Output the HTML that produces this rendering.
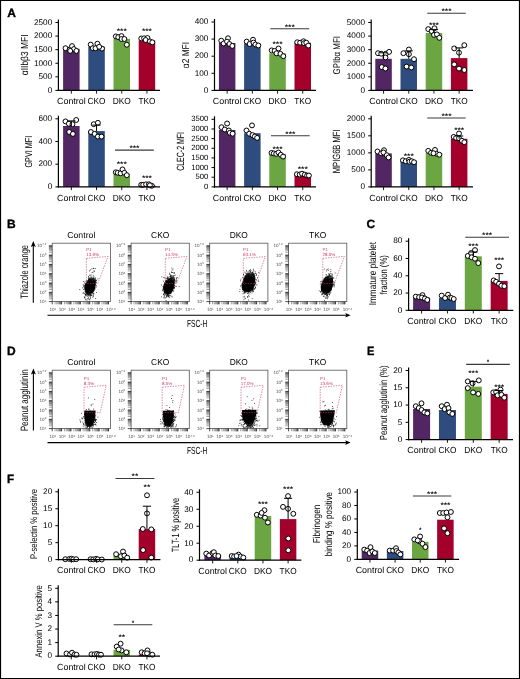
<!DOCTYPE html>
<html><head><meta charset="utf-8"><style>
html,body{margin:0;padding:0;background:#fff;}
body{width:520px;height:679px;overflow:hidden;}
svg{display:block;font-family:"Liberation Sans", sans-serif;will-change:transform;text-rendering:geometricPrecision;}
</style></head><body>
<svg width="520" height="679" viewBox="0 0 520 679">
<defs><filter id="bl" x="-20%" y="-20%" width="140%" height="140%"><feGaussianBlur stdDeviation="0.3"/></filter>
<linearGradient id="gB" x1="0" y1="0" x2="0" y2="1"><stop offset="0" stop-color="#777"/><stop offset="0.3" stop-color="#111"/><stop offset="0.8" stop-color="#000"/><stop offset="1" stop-color="#444"/></linearGradient>
<linearGradient id="gD" x1="0" y1="0" x2="0" y2="1"><stop offset="0" stop-color="#000"/><stop offset="0.7" stop-color="#000"/><stop offset="1" stop-color="#333"/></linearGradient></defs>
<rect x="0" y="0" width="520" height="679" fill="#fff"/>
<text x="7.2" y="16.9" font-size="12" font-weight="bold" stroke="#000" stroke-width="0.35">A</text>
<rect x="63.1" y="48.8" width="16.5" height="41.6" fill="#512663"/>
<rect x="88.3" y="46.7" width="16.5" height="43.7" fill="#2e4c7e"/>
<rect x="113.5" y="38.9" width="16.5" height="51.5" fill="#6ba642"/>
<rect x="138.7" y="40.4" width="16.5" height="50" fill="#a3002b"/>
<circle cx="65.5" cy="48.2" r="2.45" fill="#fff" stroke="#000" stroke-width="1"/>
<circle cx="69.7" cy="49.5" r="2.45" fill="#fff" stroke="#000" stroke-width="1"/>
<circle cx="72" cy="46.1" r="2.45" fill="#fff" stroke="#000" stroke-width="1"/>
<circle cx="73.9" cy="49.1" r="2.45" fill="#fff" stroke="#000" stroke-width="1"/>
<circle cx="76.4" cy="50.9" r="2.45" fill="#fff" stroke="#000" stroke-width="1"/>
<circle cx="70.2" cy="50.9" r="2.45" fill="#fff" stroke="#000" stroke-width="1"/>
<circle cx="90.7" cy="44.6" r="2.45" fill="#fff" stroke="#000" stroke-width="1"/>
<circle cx="97.4" cy="43.7" r="2.45" fill="#fff" stroke="#000" stroke-width="1"/>
<circle cx="92.8" cy="48.2" r="2.45" fill="#fff" stroke="#000" stroke-width="1"/>
<circle cx="95.5" cy="48.3" r="2.45" fill="#fff" stroke="#000" stroke-width="1"/>
<circle cx="102" cy="48.6" r="2.45" fill="#fff" stroke="#000" stroke-width="1"/>
<circle cx="99.2" cy="46.8" r="2.45" fill="#fff" stroke="#000" stroke-width="1"/>
<circle cx="115.8" cy="36.4" r="2.45" fill="#fff" stroke="#000" stroke-width="1"/>
<circle cx="118.2" cy="37.1" r="2.45" fill="#fff" stroke="#000" stroke-width="1"/>
<circle cx="121.5" cy="36.1" r="2.45" fill="#fff" stroke="#000" stroke-width="1"/>
<circle cx="121.5" cy="39" r="2.45" fill="#fff" stroke="#000" stroke-width="1"/>
<circle cx="124.4" cy="39" r="2.45" fill="#fff" stroke="#000" stroke-width="1"/>
<circle cx="126.8" cy="44.75" r="2.45" fill="#fff" stroke="#000" stroke-width="1"/>
<circle cx="141.25" cy="38.5" r="2.45" fill="#fff" stroke="#000" stroke-width="1"/>
<circle cx="144.1" cy="38.3" r="2.45" fill="#fff" stroke="#000" stroke-width="1"/>
<circle cx="147.5" cy="38" r="2.45" fill="#fff" stroke="#000" stroke-width="1"/>
<circle cx="145.6" cy="40" r="2.45" fill="#fff" stroke="#000" stroke-width="1"/>
<circle cx="149.9" cy="41.4" r="2.45" fill="#fff" stroke="#000" stroke-width="1"/>
<circle cx="152.3" cy="42.3" r="2.45" fill="#fff" stroke="#000" stroke-width="1"/>
<line x1="58.4" y1="19.5" x2="58.4" y2="91" stroke="#000" stroke-width="1.2"/>
<line x1="57.8" y1="90.4" x2="160" y2="90.4" stroke="#000" stroke-width="1.2"/>
<line x1="55.4" y1="90.4" x2="58.4" y2="90.4" stroke="#000" stroke-width="1"/>
<text x="52.2" y="92.67" font-size="8.2" text-anchor="end">0</text>
<line x1="55.4" y1="76.82" x2="58.4" y2="76.82" stroke="#000" stroke-width="1"/>
<text x="52.2" y="79.09" font-size="8.2" text-anchor="end">500</text>
<line x1="55.4" y1="63.24" x2="58.4" y2="63.24" stroke="#000" stroke-width="1"/>
<text x="52.2" y="65.51" font-size="8.2" text-anchor="end">1000</text>
<line x1="55.4" y1="49.66" x2="58.4" y2="49.66" stroke="#000" stroke-width="1"/>
<text x="52.2" y="51.93" font-size="8.2" text-anchor="end">1500</text>
<line x1="55.4" y1="36.08" x2="58.4" y2="36.08" stroke="#000" stroke-width="1"/>
<text x="52.2" y="38.35" font-size="8.2" text-anchor="end">2000</text>
<line x1="55.4" y1="22.5" x2="58.4" y2="22.5" stroke="#000" stroke-width="1"/>
<text x="52.2" y="24.77" font-size="8.2" text-anchor="end">2500</text>
<line x1="71.35" y1="90.4" x2="71.35" y2="93.6" stroke="#000" stroke-width="0.9"/>
<text x="71.35" y="104.05" font-size="8.8" text-anchor="middle" textLength="28.6" lengthAdjust="spacingAndGlyphs">Control</text>
<line x1="96.55" y1="90.4" x2="96.55" y2="93.6" stroke="#000" stroke-width="0.9"/>
<text x="96.55" y="104.05" font-size="8.8" text-anchor="middle" textLength="17.9" lengthAdjust="spacingAndGlyphs">CKO</text>
<line x1="121.75" y1="90.4" x2="121.75" y2="93.6" stroke="#000" stroke-width="0.9"/>
<text x="121.75" y="104.05" font-size="8.8" text-anchor="middle" textLength="18.1" lengthAdjust="spacingAndGlyphs">DKO</text>
<line x1="146.95" y1="90.4" x2="146.95" y2="93.6" stroke="#000" stroke-width="0.9"/>
<text x="146.95" y="104.05" font-size="8.8" text-anchor="middle" textLength="17" lengthAdjust="spacingAndGlyphs">TKO</text>
<text x="121.75" y="33.13" font-size="6.4" text-anchor="middle" font-weight="bold" textLength="10.05" lengthAdjust="spacingAndGlyphs">***</text>
<text x="146.95" y="33.13" font-size="6.4" text-anchor="middle" font-weight="bold" textLength="10.05" lengthAdjust="spacingAndGlyphs">***</text>
<rect x="218.9" y="43" width="16.5" height="47.4" fill="#512663"/>
<rect x="244.1" y="43.5" width="16.5" height="46.9" fill="#2e4c7e"/>
<rect x="269.3" y="53.3" width="16.5" height="37.1" fill="#6ba642"/>
<rect x="294.5" y="42.7" width="16.5" height="47.7" fill="#a3002b"/>
<circle cx="221.25" cy="40.65" r="2.45" fill="#fff" stroke="#000" stroke-width="1"/>
<circle cx="228" cy="38.25" r="2.45" fill="#fff" stroke="#000" stroke-width="1"/>
<circle cx="223.65" cy="43.5" r="2.45" fill="#fff" stroke="#000" stroke-width="1"/>
<circle cx="227" cy="41.6" r="2.45" fill="#fff" stroke="#000" stroke-width="1"/>
<circle cx="229.4" cy="44" r="2.45" fill="#fff" stroke="#000" stroke-width="1"/>
<circle cx="232.3" cy="45.9" r="2.45" fill="#fff" stroke="#000" stroke-width="1"/>
<circle cx="246.7" cy="41.6" r="2.45" fill="#fff" stroke="#000" stroke-width="1"/>
<circle cx="253" cy="39.7" r="2.45" fill="#fff" stroke="#000" stroke-width="1"/>
<circle cx="249.6" cy="44" r="2.45" fill="#fff" stroke="#000" stroke-width="1"/>
<circle cx="253.5" cy="42.6" r="2.45" fill="#fff" stroke="#000" stroke-width="1"/>
<circle cx="255.4" cy="44.5" r="2.45" fill="#fff" stroke="#000" stroke-width="1"/>
<circle cx="258.3" cy="45.5" r="2.45" fill="#fff" stroke="#000" stroke-width="1"/>
<circle cx="271.7" cy="50.4" r="2.45" fill="#fff" stroke="#000" stroke-width="1"/>
<circle cx="274.6" cy="50.9" r="2.45" fill="#fff" stroke="#000" stroke-width="1"/>
<circle cx="278.5" cy="48.5" r="2.45" fill="#fff" stroke="#000" stroke-width="1"/>
<circle cx="276.5" cy="53.3" r="2.45" fill="#fff" stroke="#000" stroke-width="1"/>
<circle cx="280.4" cy="53.8" r="2.45" fill="#fff" stroke="#000" stroke-width="1"/>
<circle cx="283.3" cy="56.2" r="2.45" fill="#fff" stroke="#000" stroke-width="1"/>
<circle cx="297.2" cy="42.25" r="2.45" fill="#fff" stroke="#000" stroke-width="1"/>
<circle cx="300.1" cy="42.7" r="2.45" fill="#fff" stroke="#000" stroke-width="1"/>
<circle cx="303.5" cy="41.3" r="2.45" fill="#fff" stroke="#000" stroke-width="1"/>
<circle cx="304" cy="43.2" r="2.45" fill="#fff" stroke="#000" stroke-width="1"/>
<circle cx="306.3" cy="42.7" r="2.45" fill="#fff" stroke="#000" stroke-width="1"/>
<circle cx="308.3" cy="45.6" r="2.45" fill="#fff" stroke="#000" stroke-width="1"/>
<line x1="214.5" y1="19" x2="214.5" y2="91" stroke="#000" stroke-width="1.2"/>
<line x1="213.9" y1="90.4" x2="316" y2="90.4" stroke="#000" stroke-width="1.2"/>
<line x1="211.5" y1="90.4" x2="214.5" y2="90.4" stroke="#000" stroke-width="1"/>
<text x="208.3" y="92.67" font-size="8.2" text-anchor="end">0</text>
<line x1="211.5" y1="73.3" x2="214.5" y2="73.3" stroke="#000" stroke-width="1"/>
<text x="208.3" y="75.57" font-size="8.2" text-anchor="end">100</text>
<line x1="211.5" y1="56.2" x2="214.5" y2="56.2" stroke="#000" stroke-width="1"/>
<text x="208.3" y="58.47" font-size="8.2" text-anchor="end">200</text>
<line x1="211.5" y1="39.1" x2="214.5" y2="39.1" stroke="#000" stroke-width="1"/>
<text x="208.3" y="41.37" font-size="8.2" text-anchor="end">300</text>
<line x1="211.5" y1="22" x2="214.5" y2="22" stroke="#000" stroke-width="1"/>
<text x="208.3" y="24.27" font-size="8.2" text-anchor="end">400</text>
<line x1="227.15" y1="90.4" x2="227.15" y2="93.6" stroke="#000" stroke-width="0.9"/>
<text x="227.15" y="104.05" font-size="8.8" text-anchor="middle" textLength="28.6" lengthAdjust="spacingAndGlyphs">Control</text>
<line x1="252.35" y1="90.4" x2="252.35" y2="93.6" stroke="#000" stroke-width="0.9"/>
<text x="252.35" y="104.05" font-size="8.8" text-anchor="middle" textLength="17.9" lengthAdjust="spacingAndGlyphs">CKO</text>
<line x1="277.55" y1="90.4" x2="277.55" y2="93.6" stroke="#000" stroke-width="0.9"/>
<text x="277.55" y="104.05" font-size="8.8" text-anchor="middle" textLength="18.1" lengthAdjust="spacingAndGlyphs">DKO</text>
<line x1="302.75" y1="90.4" x2="302.75" y2="93.6" stroke="#000" stroke-width="0.9"/>
<text x="302.75" y="104.05" font-size="8.8" text-anchor="middle" textLength="17" lengthAdjust="spacingAndGlyphs">TKO</text>
<line x1="270.3" y1="28.7" x2="309.2" y2="28.7" stroke="#3a3a3a" stroke-width="1.1"/>
<text x="289.75" y="28.63" font-size="6.4" text-anchor="middle" font-weight="bold" textLength="10.05" lengthAdjust="spacingAndGlyphs">***</text>
<text x="277.55" y="46.03" font-size="6.4" text-anchor="middle" font-weight="bold" textLength="10.05" lengthAdjust="spacingAndGlyphs">***</text>
<rect x="375.3" y="58.8" width="16.5" height="31.6" fill="#512663"/>
<rect x="400.5" y="58.8" width="16.5" height="31.6" fill="#2e4c7e"/>
<rect x="425.7" y="33" width="16.5" height="57.4" fill="#6ba642"/>
<rect x="450.9" y="58.1" width="16.5" height="32.3" fill="#a3002b"/>
<circle cx="378" cy="53.2" r="2.45" fill="#fff" stroke="#000" stroke-width="1"/>
<circle cx="381.2" cy="53.7" r="2.45" fill="#fff" stroke="#000" stroke-width="1"/>
<circle cx="385.85" cy="53.7" r="2.45" fill="#fff" stroke="#000" stroke-width="1"/>
<circle cx="389.1" cy="51.85" r="2.45" fill="#fff" stroke="#000" stroke-width="1"/>
<circle cx="385.4" cy="57.4" r="2.45" fill="#fff" stroke="#000" stroke-width="1"/>
<circle cx="381.7" cy="67.1" r="2.45" fill="#fff" stroke="#000" stroke-width="1"/>
<circle cx="385.4" cy="68.5" r="2.45" fill="#fff" stroke="#000" stroke-width="1"/>
<circle cx="403.4" cy="53.2" r="2.45" fill="#fff" stroke="#000" stroke-width="1"/>
<circle cx="408.9" cy="49.5" r="2.45" fill="#fff" stroke="#000" stroke-width="1"/>
<circle cx="408.9" cy="54.2" r="2.45" fill="#fff" stroke="#000" stroke-width="1"/>
<circle cx="414" cy="59.2" r="2.45" fill="#fff" stroke="#000" stroke-width="1"/>
<circle cx="406.6" cy="66.6" r="2.45" fill="#fff" stroke="#000" stroke-width="1"/>
<circle cx="411.25" cy="67.5" r="2.45" fill="#fff" stroke="#000" stroke-width="1"/>
<circle cx="428.25" cy="29.1" r="2.45" fill="#fff" stroke="#000" stroke-width="1"/>
<circle cx="431.6" cy="31.05" r="2.45" fill="#fff" stroke="#000" stroke-width="1"/>
<circle cx="434.5" cy="28.2" r="2.45" fill="#fff" stroke="#000" stroke-width="1"/>
<circle cx="434" cy="34.9" r="2.45" fill="#fff" stroke="#000" stroke-width="1"/>
<circle cx="436.9" cy="34.4" r="2.45" fill="#fff" stroke="#000" stroke-width="1"/>
<circle cx="439.3" cy="37.8" r="2.45" fill="#fff" stroke="#000" stroke-width="1"/>
<circle cx="454.2" cy="48.4" r="2.45" fill="#fff" stroke="#000" stroke-width="1"/>
<circle cx="464.3" cy="45.2" r="2.45" fill="#fff" stroke="#000" stroke-width="1"/>
<circle cx="459" cy="52.7" r="2.45" fill="#fff" stroke="#000" stroke-width="1"/>
<circle cx="454.2" cy="64.4" r="2.45" fill="#fff" stroke="#000" stroke-width="1"/>
<circle cx="459" cy="68.6" r="2.45" fill="#fff" stroke="#000" stroke-width="1"/>
<circle cx="464.3" cy="70" r="2.45" fill="#fff" stroke="#000" stroke-width="1"/>
<line x1="383.55" y1="58.8" x2="383.55" y2="52.8" stroke="#000" stroke-width="1"/>
<line x1="379.45" y1="52.8" x2="387.65" y2="52.8" stroke="#000" stroke-width="1"/>
<line x1="408.75" y1="58.8" x2="408.75" y2="50.9" stroke="#000" stroke-width="1"/>
<line x1="404.65" y1="50.9" x2="412.85" y2="50.9" stroke="#000" stroke-width="1"/>
<line x1="433.95" y1="33" x2="433.95" y2="29.6" stroke="#000" stroke-width="1"/>
<line x1="429.85" y1="29.6" x2="438.05" y2="29.6" stroke="#000" stroke-width="1"/>
<line x1="459.15" y1="58.1" x2="459.15" y2="47.9" stroke="#000" stroke-width="1"/>
<line x1="455.05" y1="47.9" x2="463.25" y2="47.9" stroke="#000" stroke-width="1"/>
<line x1="371.2" y1="19.5" x2="371.2" y2="91" stroke="#000" stroke-width="1.2"/>
<line x1="370.6" y1="90.4" x2="473" y2="90.4" stroke="#000" stroke-width="1.2"/>
<line x1="368.2" y1="90.4" x2="371.2" y2="90.4" stroke="#000" stroke-width="1"/>
<text x="365" y="92.67" font-size="8.2" text-anchor="end">0</text>
<line x1="368.2" y1="76.82" x2="371.2" y2="76.82" stroke="#000" stroke-width="1"/>
<text x="365" y="79.09" font-size="8.2" text-anchor="end">1000</text>
<line x1="368.2" y1="63.24" x2="371.2" y2="63.24" stroke="#000" stroke-width="1"/>
<text x="365" y="65.51" font-size="8.2" text-anchor="end">2000</text>
<line x1="368.2" y1="49.66" x2="371.2" y2="49.66" stroke="#000" stroke-width="1"/>
<text x="365" y="51.93" font-size="8.2" text-anchor="end">3000</text>
<line x1="368.2" y1="36.08" x2="371.2" y2="36.08" stroke="#000" stroke-width="1"/>
<text x="365" y="38.35" font-size="8.2" text-anchor="end">4000</text>
<line x1="368.2" y1="22.5" x2="371.2" y2="22.5" stroke="#000" stroke-width="1"/>
<text x="365" y="24.77" font-size="8.2" text-anchor="end">5000</text>
<line x1="383.55" y1="90.4" x2="383.55" y2="93.6" stroke="#000" stroke-width="0.9"/>
<text x="383.55" y="104.05" font-size="8.8" text-anchor="middle" textLength="28.6" lengthAdjust="spacingAndGlyphs">Control</text>
<line x1="408.75" y1="90.4" x2="408.75" y2="93.6" stroke="#000" stroke-width="0.9"/>
<text x="408.75" y="104.05" font-size="8.8" text-anchor="middle" textLength="17.9" lengthAdjust="spacingAndGlyphs">CKO</text>
<line x1="433.95" y1="90.4" x2="433.95" y2="93.6" stroke="#000" stroke-width="0.9"/>
<text x="433.95" y="104.05" font-size="8.8" text-anchor="middle" textLength="18.1" lengthAdjust="spacingAndGlyphs">DKO</text>
<line x1="459.15" y1="90.4" x2="459.15" y2="93.6" stroke="#000" stroke-width="0.9"/>
<text x="459.15" y="104.05" font-size="8.8" text-anchor="middle" textLength="17" lengthAdjust="spacingAndGlyphs">TKO</text>
<line x1="427.2" y1="13.2" x2="465.8" y2="13.2" stroke="#3a3a3a" stroke-width="1.1"/>
<text x="446.5" y="13.13" font-size="6.4" text-anchor="middle" font-weight="bold" textLength="10.05" lengthAdjust="spacingAndGlyphs">***</text>
<text x="433.95" y="27.13" font-size="6.4" text-anchor="middle" font-weight="bold" textLength="10.05" lengthAdjust="spacingAndGlyphs">***</text>
<rect x="63.1" y="126" width="16.5" height="60.9" fill="#512663"/>
<rect x="88.3" y="131.1" width="16.5" height="55.8" fill="#2e4c7e"/>
<rect x="113.5" y="173.75" width="16.5" height="13.15" fill="#6ba642"/>
<rect x="138.7" y="185" width="16.5" height="1.9" fill="#a3002b"/>
<circle cx="65.5" cy="121.4" r="2.45" fill="#fff" stroke="#000" stroke-width="1"/>
<circle cx="68.8" cy="123.7" r="2.45" fill="#fff" stroke="#000" stroke-width="1"/>
<circle cx="72.5" cy="124.2" r="2.45" fill="#fff" stroke="#000" stroke-width="1"/>
<circle cx="76.2" cy="120" r="2.45" fill="#fff" stroke="#000" stroke-width="1"/>
<circle cx="69.2" cy="132" r="2.45" fill="#fff" stroke="#000" stroke-width="1"/>
<circle cx="72.9" cy="133.9" r="2.45" fill="#fff" stroke="#000" stroke-width="1"/>
<circle cx="93.7" cy="124.2" r="2.45" fill="#fff" stroke="#000" stroke-width="1"/>
<circle cx="97.9" cy="122.8" r="2.45" fill="#fff" stroke="#000" stroke-width="1"/>
<circle cx="90.9" cy="132" r="2.45" fill="#fff" stroke="#000" stroke-width="1"/>
<circle cx="94.6" cy="133.9" r="2.45" fill="#fff" stroke="#000" stroke-width="1"/>
<circle cx="97.9" cy="136.6" r="2.45" fill="#fff" stroke="#000" stroke-width="1"/>
<circle cx="101.5" cy="136.6" r="2.45" fill="#fff" stroke="#000" stroke-width="1"/>
<circle cx="115.8" cy="172.3" r="2.45" fill="#fff" stroke="#000" stroke-width="1"/>
<circle cx="117.7" cy="172.8" r="2.45" fill="#fff" stroke="#000" stroke-width="1"/>
<circle cx="120.6" cy="173.3" r="2.45" fill="#fff" stroke="#000" stroke-width="1"/>
<circle cx="122.5" cy="169.4" r="2.45" fill="#fff" stroke="#000" stroke-width="1"/>
<circle cx="124.4" cy="172.8" r="2.45" fill="#fff" stroke="#000" stroke-width="1"/>
<circle cx="126.8" cy="175.2" r="2.45" fill="#fff" stroke="#000" stroke-width="1"/>
<circle cx="141.25" cy="184.8" r="2.45" fill="#fff" stroke="#000" stroke-width="1"/>
<circle cx="143.2" cy="184.8" r="2.45" fill="#fff" stroke="#000" stroke-width="1"/>
<circle cx="146.1" cy="184.3" r="2.45" fill="#fff" stroke="#000" stroke-width="1"/>
<circle cx="148.9" cy="184.3" r="2.45" fill="#fff" stroke="#000" stroke-width="1"/>
<circle cx="151.8" cy="185.8" r="2.45" fill="#fff" stroke="#000" stroke-width="1"/>
<circle cx="149.9" cy="185.3" r="2.45" fill="#fff" stroke="#000" stroke-width="1"/>
<line x1="71.35" y1="126" x2="71.35" y2="120.9" stroke="#000" stroke-width="1"/>
<line x1="67.25" y1="120.9" x2="75.45" y2="120.9" stroke="#000" stroke-width="1"/>
<line x1="96.55" y1="131.1" x2="96.55" y2="125.1" stroke="#000" stroke-width="1"/>
<line x1="92.45" y1="125.1" x2="100.65" y2="125.1" stroke="#000" stroke-width="1"/>
<line x1="58.4" y1="115.8" x2="58.4" y2="187.5" stroke="#000" stroke-width="1.2"/>
<line x1="57.8" y1="186.9" x2="160" y2="186.9" stroke="#000" stroke-width="1.2"/>
<line x1="55.4" y1="186.9" x2="58.4" y2="186.9" stroke="#000" stroke-width="1"/>
<text x="52.2" y="189.17" font-size="8.2" text-anchor="end">0</text>
<line x1="55.4" y1="164.2" x2="58.4" y2="164.2" stroke="#000" stroke-width="1"/>
<text x="52.2" y="166.47" font-size="8.2" text-anchor="end">200</text>
<line x1="55.4" y1="141.5" x2="58.4" y2="141.5" stroke="#000" stroke-width="1"/>
<text x="52.2" y="143.77" font-size="8.2" text-anchor="end">400</text>
<line x1="55.4" y1="118.8" x2="58.4" y2="118.8" stroke="#000" stroke-width="1"/>
<text x="52.2" y="121.07" font-size="8.2" text-anchor="end">600</text>
<line x1="71.35" y1="186.9" x2="71.35" y2="190.1" stroke="#000" stroke-width="0.9"/>
<text x="71.35" y="200.55" font-size="8.8" text-anchor="middle" textLength="28.6" lengthAdjust="spacingAndGlyphs">Control</text>
<line x1="96.55" y1="186.9" x2="96.55" y2="190.1" stroke="#000" stroke-width="0.9"/>
<text x="96.55" y="200.55" font-size="8.8" text-anchor="middle" textLength="17.9" lengthAdjust="spacingAndGlyphs">CKO</text>
<line x1="121.75" y1="186.9" x2="121.75" y2="190.1" stroke="#000" stroke-width="0.9"/>
<text x="121.75" y="200.55" font-size="8.8" text-anchor="middle" textLength="18.1" lengthAdjust="spacingAndGlyphs">DKO</text>
<line x1="146.95" y1="186.9" x2="146.95" y2="190.1" stroke="#000" stroke-width="0.9"/>
<text x="146.95" y="200.55" font-size="8.8" text-anchor="middle" textLength="17" lengthAdjust="spacingAndGlyphs">TKO</text>
<line x1="115" y1="150.1" x2="153.8" y2="150.1" stroke="#3a3a3a" stroke-width="1.1"/>
<text x="134.4" y="150.03" font-size="6.4" text-anchor="middle" font-weight="bold" textLength="10.05" lengthAdjust="spacingAndGlyphs">***</text>
<text x="121.75" y="166.43" font-size="6.4" text-anchor="middle" font-weight="bold" textLength="10.05" lengthAdjust="spacingAndGlyphs">***</text>
<text x="146.95" y="179.73" font-size="6.4" text-anchor="middle" font-weight="bold" textLength="10.05" lengthAdjust="spacingAndGlyphs">***</text>
<rect x="218.9" y="130" width="16.5" height="56.9" fill="#512663"/>
<rect x="244.1" y="133.2" width="16.5" height="53.7" fill="#2e4c7e"/>
<rect x="269.3" y="153.9" width="16.5" height="33" fill="#6ba642"/>
<rect x="294.5" y="174.5" width="16.5" height="12.4" fill="#a3002b"/>
<circle cx="221.5" cy="127.2" r="2.45" fill="#fff" stroke="#000" stroke-width="1"/>
<circle cx="227.1" cy="123.5" r="2.45" fill="#fff" stroke="#000" stroke-width="1"/>
<circle cx="224.8" cy="129.5" r="2.45" fill="#fff" stroke="#000" stroke-width="1"/>
<circle cx="228.9" cy="130.5" r="2.45" fill="#fff" stroke="#000" stroke-width="1"/>
<circle cx="229.85" cy="132.8" r="2.45" fill="#fff" stroke="#000" stroke-width="1"/>
<circle cx="232.6" cy="133.7" r="2.45" fill="#fff" stroke="#000" stroke-width="1"/>
<circle cx="246.5" cy="130.5" r="2.45" fill="#fff" stroke="#000" stroke-width="1"/>
<circle cx="252" cy="125.4" r="2.45" fill="#fff" stroke="#000" stroke-width="1"/>
<circle cx="249.2" cy="133.7" r="2.45" fill="#fff" stroke="#000" stroke-width="1"/>
<circle cx="252.5" cy="135.1" r="2.45" fill="#fff" stroke="#000" stroke-width="1"/>
<circle cx="254.8" cy="136.5" r="2.45" fill="#fff" stroke="#000" stroke-width="1"/>
<circle cx="257.1" cy="137.9" r="2.45" fill="#fff" stroke="#000" stroke-width="1"/>
<circle cx="271.5" cy="152.9" r="2.45" fill="#fff" stroke="#000" stroke-width="1"/>
<circle cx="273.8" cy="153.4" r="2.45" fill="#fff" stroke="#000" stroke-width="1"/>
<circle cx="276.2" cy="153.85" r="2.45" fill="#fff" stroke="#000" stroke-width="1"/>
<circle cx="278.5" cy="152.5" r="2.45" fill="#fff" stroke="#000" stroke-width="1"/>
<circle cx="280.8" cy="154.8" r="2.45" fill="#fff" stroke="#000" stroke-width="1"/>
<circle cx="283.1" cy="156.6" r="2.45" fill="#fff" stroke="#000" stroke-width="1"/>
<circle cx="296.9" cy="174.2" r="2.45" fill="#fff" stroke="#000" stroke-width="1"/>
<circle cx="299.7" cy="174.6" r="2.45" fill="#fff" stroke="#000" stroke-width="1"/>
<circle cx="302" cy="173.7" r="2.45" fill="#fff" stroke="#000" stroke-width="1"/>
<circle cx="304.8" cy="174.6" r="2.45" fill="#fff" stroke="#000" stroke-width="1"/>
<circle cx="307.1" cy="175.5" r="2.45" fill="#fff" stroke="#000" stroke-width="1"/>
<circle cx="308.9" cy="175.5" r="2.45" fill="#fff" stroke="#000" stroke-width="1"/>
<line x1="214.5" y1="116.3" x2="214.5" y2="187.5" stroke="#000" stroke-width="1.2"/>
<line x1="213.9" y1="186.9" x2="316" y2="186.9" stroke="#000" stroke-width="1.2"/>
<line x1="211.5" y1="186.9" x2="214.5" y2="186.9" stroke="#000" stroke-width="1"/>
<text x="208.3" y="189" font-size="7.7" text-anchor="end">0</text>
<line x1="211.5" y1="177.24" x2="214.5" y2="177.24" stroke="#000" stroke-width="1"/>
<text x="208.3" y="179.34" font-size="7.7" text-anchor="end">500</text>
<line x1="211.5" y1="167.59" x2="214.5" y2="167.59" stroke="#000" stroke-width="1"/>
<text x="208.3" y="169.68" font-size="7.7" text-anchor="end">1000</text>
<line x1="211.5" y1="157.93" x2="214.5" y2="157.93" stroke="#000" stroke-width="1"/>
<text x="208.3" y="160.02" font-size="7.7" text-anchor="end">1500</text>
<line x1="211.5" y1="148.27" x2="214.5" y2="148.27" stroke="#000" stroke-width="1"/>
<text x="208.3" y="150.37" font-size="7.7" text-anchor="end">2000</text>
<line x1="211.5" y1="138.61" x2="214.5" y2="138.61" stroke="#000" stroke-width="1"/>
<text x="208.3" y="140.71" font-size="7.7" text-anchor="end">2500</text>
<line x1="211.5" y1="128.96" x2="214.5" y2="128.96" stroke="#000" stroke-width="1"/>
<text x="208.3" y="131.05" font-size="7.7" text-anchor="end">3000</text>
<line x1="211.5" y1="119.3" x2="214.5" y2="119.3" stroke="#000" stroke-width="1"/>
<text x="208.3" y="121.39" font-size="7.7" text-anchor="end">3500</text>
<line x1="227.15" y1="186.9" x2="227.15" y2="190.1" stroke="#000" stroke-width="0.9"/>
<text x="227.15" y="200.55" font-size="8.8" text-anchor="middle" textLength="28.6" lengthAdjust="spacingAndGlyphs">Control</text>
<line x1="252.35" y1="186.9" x2="252.35" y2="190.1" stroke="#000" stroke-width="0.9"/>
<text x="252.35" y="200.55" font-size="8.8" text-anchor="middle" textLength="17.9" lengthAdjust="spacingAndGlyphs">CKO</text>
<line x1="277.55" y1="186.9" x2="277.55" y2="190.1" stroke="#000" stroke-width="0.9"/>
<text x="277.55" y="200.55" font-size="8.8" text-anchor="middle" textLength="18.1" lengthAdjust="spacingAndGlyphs">DKO</text>
<line x1="302.75" y1="186.9" x2="302.75" y2="190.1" stroke="#000" stroke-width="0.9"/>
<text x="302.75" y="200.55" font-size="8.8" text-anchor="middle" textLength="17" lengthAdjust="spacingAndGlyphs">TKO</text>
<line x1="271" y1="135.8" x2="309.7" y2="135.8" stroke="#3a3a3a" stroke-width="1.1"/>
<text x="290.35" y="135.73" font-size="6.4" text-anchor="middle" font-weight="bold" textLength="10.05" lengthAdjust="spacingAndGlyphs">***</text>
<text x="277.55" y="150.63" font-size="6.4" text-anchor="middle" font-weight="bold" textLength="10.05" lengthAdjust="spacingAndGlyphs">***</text>
<text x="302.75" y="170.73" font-size="6.4" text-anchor="middle" font-weight="bold" textLength="10.05" lengthAdjust="spacingAndGlyphs">***</text>
<rect x="375.3" y="153.4" width="16.5" height="33.5" fill="#512663"/>
<rect x="400.5" y="160.7" width="16.5" height="26.2" fill="#2e4c7e"/>
<rect x="425.7" y="153" width="16.5" height="33.9" fill="#6ba642"/>
<rect x="450.9" y="138.8" width="16.5" height="48.1" fill="#a3002b"/>
<circle cx="377.5" cy="151.5" r="2.45" fill="#fff" stroke="#000" stroke-width="1"/>
<circle cx="381.2" cy="153.4" r="2.45" fill="#fff" stroke="#000" stroke-width="1"/>
<circle cx="384" cy="150.2" r="2.45" fill="#fff" stroke="#000" stroke-width="1"/>
<circle cx="383.5" cy="152.5" r="2.45" fill="#fff" stroke="#000" stroke-width="1"/>
<circle cx="386.8" cy="155.2" r="2.45" fill="#fff" stroke="#000" stroke-width="1"/>
<circle cx="388.6" cy="157.5" r="2.45" fill="#fff" stroke="#000" stroke-width="1"/>
<circle cx="402.9" cy="160.3" r="2.45" fill="#fff" stroke="#000" stroke-width="1"/>
<circle cx="405.7" cy="161.2" r="2.45" fill="#fff" stroke="#000" stroke-width="1"/>
<circle cx="408.9" cy="159.9" r="2.45" fill="#fff" stroke="#000" stroke-width="1"/>
<circle cx="409.4" cy="161.7" r="2.45" fill="#fff" stroke="#000" stroke-width="1"/>
<circle cx="411.7" cy="161.2" r="2.45" fill="#fff" stroke="#000" stroke-width="1"/>
<circle cx="414" cy="162.2" r="2.45" fill="#fff" stroke="#000" stroke-width="1"/>
<circle cx="428.25" cy="150.85" r="2.45" fill="#fff" stroke="#000" stroke-width="1"/>
<circle cx="431.1" cy="152.8" r="2.45" fill="#fff" stroke="#000" stroke-width="1"/>
<circle cx="435" cy="149.9" r="2.45" fill="#fff" stroke="#000" stroke-width="1"/>
<circle cx="436.4" cy="153.7" r="2.45" fill="#fff" stroke="#000" stroke-width="1"/>
<circle cx="439.3" cy="154.7" r="2.45" fill="#fff" stroke="#000" stroke-width="1"/>
<circle cx="433.5" cy="153.25" r="2.45" fill="#fff" stroke="#000" stroke-width="1"/>
<circle cx="453.7" cy="136.9" r="2.45" fill="#fff" stroke="#000" stroke-width="1"/>
<circle cx="456.1" cy="137.9" r="2.45" fill="#fff" stroke="#000" stroke-width="1"/>
<circle cx="459" cy="133.5" r="2.45" fill="#fff" stroke="#000" stroke-width="1"/>
<circle cx="459" cy="138.3" r="2.45" fill="#fff" stroke="#000" stroke-width="1"/>
<circle cx="461.9" cy="140.75" r="2.45" fill="#fff" stroke="#000" stroke-width="1"/>
<circle cx="464.3" cy="142.2" r="2.45" fill="#fff" stroke="#000" stroke-width="1"/>
<line x1="459.15" y1="138.8" x2="459.15" y2="136" stroke="#000" stroke-width="1"/>
<line x1="455.05" y1="136" x2="463.25" y2="136" stroke="#000" stroke-width="1"/>
<line x1="371.2" y1="115.8" x2="371.2" y2="187.5" stroke="#000" stroke-width="1.2"/>
<line x1="370.6" y1="186.9" x2="473" y2="186.9" stroke="#000" stroke-width="1.2"/>
<line x1="368.2" y1="186.9" x2="371.2" y2="186.9" stroke="#000" stroke-width="1"/>
<text x="365" y="189.17" font-size="8.2" text-anchor="end">0</text>
<line x1="368.2" y1="169.88" x2="371.2" y2="169.88" stroke="#000" stroke-width="1"/>
<text x="365" y="172.15" font-size="8.2" text-anchor="end">500</text>
<line x1="368.2" y1="152.85" x2="371.2" y2="152.85" stroke="#000" stroke-width="1"/>
<text x="365" y="155.12" font-size="8.2" text-anchor="end">1000</text>
<line x1="368.2" y1="135.82" x2="371.2" y2="135.82" stroke="#000" stroke-width="1"/>
<text x="365" y="138.09" font-size="8.2" text-anchor="end">1500</text>
<line x1="368.2" y1="118.8" x2="371.2" y2="118.8" stroke="#000" stroke-width="1"/>
<text x="365" y="121.07" font-size="8.2" text-anchor="end">2000</text>
<line x1="383.55" y1="186.9" x2="383.55" y2="190.1" stroke="#000" stroke-width="0.9"/>
<text x="383.55" y="200.55" font-size="8.8" text-anchor="middle" textLength="28.6" lengthAdjust="spacingAndGlyphs">Control</text>
<line x1="408.75" y1="186.9" x2="408.75" y2="190.1" stroke="#000" stroke-width="0.9"/>
<text x="408.75" y="200.55" font-size="8.8" text-anchor="middle" textLength="17.9" lengthAdjust="spacingAndGlyphs">CKO</text>
<line x1="433.95" y1="186.9" x2="433.95" y2="190.1" stroke="#000" stroke-width="0.9"/>
<text x="433.95" y="200.55" font-size="8.8" text-anchor="middle" textLength="18.1" lengthAdjust="spacingAndGlyphs">DKO</text>
<line x1="459.15" y1="186.9" x2="459.15" y2="190.1" stroke="#000" stroke-width="0.9"/>
<text x="459.15" y="200.55" font-size="8.8" text-anchor="middle" textLength="17" lengthAdjust="spacingAndGlyphs">TKO</text>
<line x1="427.3" y1="118" x2="465.7" y2="118" stroke="#3a3a3a" stroke-width="1.1"/>
<text x="446.5" y="117.93" font-size="6.4" text-anchor="middle" font-weight="bold" textLength="10.05" lengthAdjust="spacingAndGlyphs">***</text>
<text x="408.75" y="157.83" font-size="6.4" text-anchor="middle" font-weight="bold" textLength="10.05" lengthAdjust="spacingAndGlyphs">***</text>
<text x="459.15" y="132.23" font-size="6.4" text-anchor="middle" font-weight="bold" textLength="10.05" lengthAdjust="spacingAndGlyphs">***</text>
<text x="7.1" y="228" font-size="12" font-weight="bold" stroke="#000" stroke-width="0.35">B</text>
<rect x="52.2" y="243.2" width="58.2" height="58.4" fill="none" stroke="#555" stroke-width="0.8"/>
<line x1="48.9" y1="301.6" x2="52.2" y2="301.6" stroke="#000" stroke-width="0.7"/>
<line x1="48.9" y1="298.8" x2="52.2" y2="298.8" stroke="#333" stroke-width="0.45"/>
<line x1="48.9" y1="297.16" x2="52.2" y2="297.16" stroke="#333" stroke-width="0.45"/>
<line x1="48.9" y1="296" x2="52.2" y2="296" stroke="#333" stroke-width="0.45"/>
<line x1="48.9" y1="295.1" x2="52.2" y2="295.1" stroke="#333" stroke-width="0.45"/>
<line x1="48.9" y1="294.36" x2="52.2" y2="294.36" stroke="#333" stroke-width="0.45"/>
<line x1="48.9" y1="293.74" x2="52.2" y2="293.74" stroke="#333" stroke-width="0.45"/>
<line x1="48.9" y1="293.2" x2="52.2" y2="293.2" stroke="#333" stroke-width="0.45"/>
<line x1="48.9" y1="292.73" x2="52.2" y2="292.73" stroke="#333" stroke-width="0.45"/>
<line x1="48.9" y1="292.3" x2="52.2" y2="292.3" stroke="#000" stroke-width="0.7"/>
<line x1="48.9" y1="289.5" x2="52.2" y2="289.5" stroke="#333" stroke-width="0.45"/>
<line x1="48.9" y1="287.86" x2="52.2" y2="287.86" stroke="#333" stroke-width="0.45"/>
<line x1="48.9" y1="286.7" x2="52.2" y2="286.7" stroke="#333" stroke-width="0.45"/>
<line x1="48.9" y1="285.8" x2="52.2" y2="285.8" stroke="#333" stroke-width="0.45"/>
<line x1="48.9" y1="285.06" x2="52.2" y2="285.06" stroke="#333" stroke-width="0.45"/>
<line x1="48.9" y1="284.44" x2="52.2" y2="284.44" stroke="#333" stroke-width="0.45"/>
<line x1="48.9" y1="283.9" x2="52.2" y2="283.9" stroke="#333" stroke-width="0.45"/>
<line x1="48.9" y1="283.43" x2="52.2" y2="283.43" stroke="#333" stroke-width="0.45"/>
<line x1="48.9" y1="283" x2="52.2" y2="283" stroke="#000" stroke-width="0.7"/>
<line x1="48.9" y1="280.2" x2="52.2" y2="280.2" stroke="#333" stroke-width="0.45"/>
<line x1="48.9" y1="278.56" x2="52.2" y2="278.56" stroke="#333" stroke-width="0.45"/>
<line x1="48.9" y1="277.4" x2="52.2" y2="277.4" stroke="#333" stroke-width="0.45"/>
<line x1="48.9" y1="276.5" x2="52.2" y2="276.5" stroke="#333" stroke-width="0.45"/>
<line x1="48.9" y1="275.76" x2="52.2" y2="275.76" stroke="#333" stroke-width="0.45"/>
<line x1="48.9" y1="275.14" x2="52.2" y2="275.14" stroke="#333" stroke-width="0.45"/>
<line x1="48.9" y1="274.6" x2="52.2" y2="274.6" stroke="#333" stroke-width="0.45"/>
<line x1="48.9" y1="274.13" x2="52.2" y2="274.13" stroke="#333" stroke-width="0.45"/>
<line x1="48.9" y1="273.7" x2="52.2" y2="273.7" stroke="#000" stroke-width="0.7"/>
<line x1="48.9" y1="270.9" x2="52.2" y2="270.9" stroke="#333" stroke-width="0.45"/>
<line x1="48.9" y1="269.26" x2="52.2" y2="269.26" stroke="#333" stroke-width="0.45"/>
<line x1="48.9" y1="268.1" x2="52.2" y2="268.1" stroke="#333" stroke-width="0.45"/>
<line x1="48.9" y1="267.2" x2="52.2" y2="267.2" stroke="#333" stroke-width="0.45"/>
<line x1="48.9" y1="266.46" x2="52.2" y2="266.46" stroke="#333" stroke-width="0.45"/>
<line x1="48.9" y1="265.84" x2="52.2" y2="265.84" stroke="#333" stroke-width="0.45"/>
<line x1="48.9" y1="265.3" x2="52.2" y2="265.3" stroke="#333" stroke-width="0.45"/>
<line x1="48.9" y1="264.83" x2="52.2" y2="264.83" stroke="#333" stroke-width="0.45"/>
<line x1="48.9" y1="264.4" x2="52.2" y2="264.4" stroke="#000" stroke-width="0.7"/>
<line x1="48.9" y1="261.6" x2="52.2" y2="261.6" stroke="#333" stroke-width="0.45"/>
<line x1="48.9" y1="259.96" x2="52.2" y2="259.96" stroke="#333" stroke-width="0.45"/>
<line x1="48.9" y1="258.8" x2="52.2" y2="258.8" stroke="#333" stroke-width="0.45"/>
<line x1="48.9" y1="257.9" x2="52.2" y2="257.9" stroke="#333" stroke-width="0.45"/>
<line x1="48.9" y1="257.16" x2="52.2" y2="257.16" stroke="#333" stroke-width="0.45"/>
<line x1="48.9" y1="256.54" x2="52.2" y2="256.54" stroke="#333" stroke-width="0.45"/>
<line x1="48.9" y1="256" x2="52.2" y2="256" stroke="#333" stroke-width="0.45"/>
<line x1="48.9" y1="255.53" x2="52.2" y2="255.53" stroke="#333" stroke-width="0.45"/>
<line x1="48.9" y1="255.1" x2="52.2" y2="255.1" stroke="#000" stroke-width="0.7"/>
<line x1="48.9" y1="252.3" x2="52.2" y2="252.3" stroke="#333" stroke-width="0.45"/>
<line x1="48.9" y1="250.66" x2="52.2" y2="250.66" stroke="#333" stroke-width="0.45"/>
<line x1="48.9" y1="249.5" x2="52.2" y2="249.5" stroke="#333" stroke-width="0.45"/>
<line x1="48.9" y1="248.6" x2="52.2" y2="248.6" stroke="#333" stroke-width="0.45"/>
<line x1="48.9" y1="247.86" x2="52.2" y2="247.86" stroke="#333" stroke-width="0.45"/>
<line x1="48.9" y1="247.24" x2="52.2" y2="247.24" stroke="#333" stroke-width="0.45"/>
<line x1="48.9" y1="246.7" x2="52.2" y2="246.7" stroke="#333" stroke-width="0.45"/>
<line x1="48.9" y1="246.23" x2="52.2" y2="246.23" stroke="#333" stroke-width="0.45"/>
<line x1="48.9" y1="245.8" x2="52.2" y2="245.8" stroke="#000" stroke-width="0.7"/>
<line x1="52.2" y1="301.6" x2="52.2" y2="304.3" stroke="#000" stroke-width="0.7"/>
<line x1="55.03" y1="301.6" x2="55.03" y2="304.3" stroke="#333" stroke-width="0.45"/>
<line x1="56.68" y1="301.6" x2="56.68" y2="304.3" stroke="#333" stroke-width="0.45"/>
<line x1="57.85" y1="301.6" x2="57.85" y2="304.3" stroke="#333" stroke-width="0.45"/>
<line x1="58.76" y1="301.6" x2="58.76" y2="304.3" stroke="#333" stroke-width="0.45"/>
<line x1="59.5" y1="301.6" x2="59.5" y2="304.3" stroke="#333" stroke-width="0.45"/>
<line x1="60.13" y1="301.6" x2="60.13" y2="304.3" stroke="#333" stroke-width="0.45"/>
<line x1="60.68" y1="301.6" x2="60.68" y2="304.3" stroke="#333" stroke-width="0.45"/>
<line x1="61.16" y1="301.6" x2="61.16" y2="304.3" stroke="#333" stroke-width="0.45"/>
<line x1="61.59" y1="301.6" x2="61.59" y2="304.3" stroke="#000" stroke-width="0.7"/>
<line x1="64.41" y1="301.6" x2="64.41" y2="304.3" stroke="#333" stroke-width="0.45"/>
<line x1="66.07" y1="301.6" x2="66.07" y2="304.3" stroke="#333" stroke-width="0.45"/>
<line x1="67.24" y1="301.6" x2="67.24" y2="304.3" stroke="#333" stroke-width="0.45"/>
<line x1="68.15" y1="301.6" x2="68.15" y2="304.3" stroke="#333" stroke-width="0.45"/>
<line x1="68.89" y1="301.6" x2="68.89" y2="304.3" stroke="#333" stroke-width="0.45"/>
<line x1="69.52" y1="301.6" x2="69.52" y2="304.3" stroke="#333" stroke-width="0.45"/>
<line x1="70.06" y1="301.6" x2="70.06" y2="304.3" stroke="#333" stroke-width="0.45"/>
<line x1="70.54" y1="301.6" x2="70.54" y2="304.3" stroke="#333" stroke-width="0.45"/>
<line x1="70.97" y1="301.6" x2="70.97" y2="304.3" stroke="#000" stroke-width="0.7"/>
<line x1="73.8" y1="301.6" x2="73.8" y2="304.3" stroke="#333" stroke-width="0.45"/>
<line x1="75.45" y1="301.6" x2="75.45" y2="304.3" stroke="#333" stroke-width="0.45"/>
<line x1="76.63" y1="301.6" x2="76.63" y2="304.3" stroke="#333" stroke-width="0.45"/>
<line x1="77.54" y1="301.6" x2="77.54" y2="304.3" stroke="#333" stroke-width="0.45"/>
<line x1="78.28" y1="301.6" x2="78.28" y2="304.3" stroke="#333" stroke-width="0.45"/>
<line x1="78.91" y1="301.6" x2="78.91" y2="304.3" stroke="#333" stroke-width="0.45"/>
<line x1="79.45" y1="301.6" x2="79.45" y2="304.3" stroke="#333" stroke-width="0.45"/>
<line x1="79.93" y1="301.6" x2="79.93" y2="304.3" stroke="#333" stroke-width="0.45"/>
<line x1="80.36" y1="301.6" x2="80.36" y2="304.3" stroke="#000" stroke-width="0.7"/>
<line x1="83.19" y1="301.6" x2="83.19" y2="304.3" stroke="#333" stroke-width="0.45"/>
<line x1="84.84" y1="301.6" x2="84.84" y2="304.3" stroke="#333" stroke-width="0.45"/>
<line x1="86.01" y1="301.6" x2="86.01" y2="304.3" stroke="#333" stroke-width="0.45"/>
<line x1="86.92" y1="301.6" x2="86.92" y2="304.3" stroke="#333" stroke-width="0.45"/>
<line x1="87.67" y1="301.6" x2="87.67" y2="304.3" stroke="#333" stroke-width="0.45"/>
<line x1="88.29" y1="301.6" x2="88.29" y2="304.3" stroke="#333" stroke-width="0.45"/>
<line x1="88.84" y1="301.6" x2="88.84" y2="304.3" stroke="#333" stroke-width="0.45"/>
<line x1="89.32" y1="301.6" x2="89.32" y2="304.3" stroke="#333" stroke-width="0.45"/>
<line x1="89.75" y1="301.6" x2="89.75" y2="304.3" stroke="#000" stroke-width="0.7"/>
<line x1="92.57" y1="301.6" x2="92.57" y2="304.3" stroke="#333" stroke-width="0.45"/>
<line x1="94.23" y1="301.6" x2="94.23" y2="304.3" stroke="#333" stroke-width="0.45"/>
<line x1="95.4" y1="301.6" x2="95.4" y2="304.3" stroke="#333" stroke-width="0.45"/>
<line x1="96.31" y1="301.6" x2="96.31" y2="304.3" stroke="#333" stroke-width="0.45"/>
<line x1="97.05" y1="301.6" x2="97.05" y2="304.3" stroke="#333" stroke-width="0.45"/>
<line x1="97.68" y1="301.6" x2="97.68" y2="304.3" stroke="#333" stroke-width="0.45"/>
<line x1="98.23" y1="301.6" x2="98.23" y2="304.3" stroke="#333" stroke-width="0.45"/>
<line x1="98.71" y1="301.6" x2="98.71" y2="304.3" stroke="#333" stroke-width="0.45"/>
<line x1="99.14" y1="301.6" x2="99.14" y2="304.3" stroke="#000" stroke-width="0.7"/>
<line x1="101.96" y1="301.6" x2="101.96" y2="304.3" stroke="#333" stroke-width="0.45"/>
<line x1="103.61" y1="301.6" x2="103.61" y2="304.3" stroke="#333" stroke-width="0.45"/>
<line x1="104.79" y1="301.6" x2="104.79" y2="304.3" stroke="#333" stroke-width="0.45"/>
<line x1="105.7" y1="301.6" x2="105.7" y2="304.3" stroke="#333" stroke-width="0.45"/>
<line x1="106.44" y1="301.6" x2="106.44" y2="304.3" stroke="#333" stroke-width="0.45"/>
<line x1="107.07" y1="301.6" x2="107.07" y2="304.3" stroke="#333" stroke-width="0.45"/>
<line x1="107.61" y1="301.6" x2="107.61" y2="304.3" stroke="#333" stroke-width="0.45"/>
<line x1="108.09" y1="301.6" x2="108.09" y2="304.3" stroke="#333" stroke-width="0.45"/>
<line x1="108.52" y1="301.6" x2="108.52" y2="304.3" stroke="#000" stroke-width="0.7"/>
<text x="46.3" y="303.3" font-size="4.6" text-anchor="end" fill="#555">10<tspan font-size="3" dy="-1.7">1</tspan></text>
<text x="52.8" y="311.3" font-size="4.6" text-anchor="middle" fill="#555">10<tspan font-size="3" dy="-1.7">1</tspan></text>
<text x="46.3" y="294" font-size="4.6" text-anchor="end" fill="#555">10<tspan font-size="3" dy="-1.7">2</tspan></text>
<text x="62.19" y="311.3" font-size="4.6" text-anchor="middle" fill="#555">10<tspan font-size="3" dy="-1.7">2</tspan></text>
<text x="46.3" y="284.7" font-size="4.6" text-anchor="end" fill="#555">10<tspan font-size="3" dy="-1.7">3</tspan></text>
<text x="71.57" y="311.3" font-size="4.6" text-anchor="middle" fill="#555">10<tspan font-size="3" dy="-1.7">3</tspan></text>
<text x="46.3" y="275.4" font-size="4.6" text-anchor="end" fill="#555">10<tspan font-size="3" dy="-1.7">4</tspan></text>
<text x="80.96" y="311.3" font-size="4.6" text-anchor="middle" fill="#555">10<tspan font-size="3" dy="-1.7">4</tspan></text>
<text x="46.3" y="266.1" font-size="4.6" text-anchor="end" fill="#555">10<tspan font-size="3" dy="-1.7">5</tspan></text>
<text x="90.35" y="311.3" font-size="4.6" text-anchor="middle" fill="#555">10<tspan font-size="3" dy="-1.7">5</tspan></text>
<text x="46.3" y="256.8" font-size="4.6" text-anchor="end" fill="#555">10<tspan font-size="3" dy="-1.7">6</tspan></text>
<text x="99.74" y="311.3" font-size="4.6" text-anchor="middle" fill="#555">10<tspan font-size="3" dy="-1.7">6</tspan></text>
<text x="46.3" y="246.5" font-size="4.6" text-anchor="end" fill="#555">10<tspan font-size="3" dy="-1.7">7.2</tspan></text>
<text x="111" y="311.3" font-size="4.6" text-anchor="middle" fill="#555">10<tspan font-size="3" dy="-1.7">7.2</tspan></text>
<text x="81.3" y="237.9" font-size="8.6" text-anchor="middle" textLength="28.2" lengthAdjust="spacingAndGlyphs">Control</text>
<polygon points="88.5,279 93,277.5 96,279.5 95.5,285 94.5,290 92.5,293 88,294 85.5,292 84.2,288 84.8,284.5 86.5,281.5" fill="url(#gB)" filter="url(#bl)"/>
<path d="M90.4 286.7h.8m.3 1.1h.8m-4.1 1.3h.8m3.4 3h.8m-4-11.1h.8m-1.7 6.5h.8m-5-1.3h.8m2.4-2.5h.8m.7 2h.8m.4 6.8h.8m-2.5 1.7h.8m-1.2-5.1h.8m3.5-1.3h.8m-4.2-5.1h.8m-1.1 5.7h.8m-1.8-2.1h.8m.7 3.7h.8m.3-.9h.8m-2.6-2.4h.8m1.5 8.1h.8m-6.1 .1h.8m6.6-3.7h.8m-2.6-5.5h.8m.2 11.4h.8m.7-3.2h.8m-2.3-12.6h.8m-3.4 9.3h.8m-3.9-1.3h.8m3.4 1.5h.8m-3.8-6.8h.8m1.6-2.5h.8m4.3 3.3h.8m-4.7 1.2h.8m1 7.9h.8m-.1-17.6h.8m-4.9 14.4h.8m2.9-6.5h.8m1.9-3.5h.8m-9.3 11.3h.8m.1 5.3h.8m2-13.1h.8m-1.9-2.3h.8m-4.7 8.6h.8m3.5 3.3h.8m-4.7 2h.8m.5-.6h.8m.9-11.6h.8m-.6 8.9h.8m.5-8.1h.8m-4-4.1h.8m1.8 12h.8m-.7-10.4h.8m2.1-1h.8m-6.6 9.5h.8m-4.6-1.1h.8m3.8-1.4h.8m.4 .4h.8m2.1-4.8h.8m-.2 7.4h.8m-2.7 2.2h.8m-.7-1.6h.8m-.6-11.3h.8m-1.9 3.3h.8m-5.1 5.1h.8m2.6-6.4h.8m-3.2 6.5h.8m1.9 5.2h.8m-1.6-1.4h.8m2.8 .6h.8m-10.6 .4h.8m6.9-4.1h.8m-.7-.2h.8m-.2-3.7h.8m-6.8 1.3h.8m.9 5.9h.8m1.5-5h.8m-1.7-2.9h.8m2.2-4.9h.8m-1.2 6.9h.8m-2.6-11.5h.8m1.7 10.5h.8m-3.6 .3h.8m5.2 1h.8m-4-7.2h.8m1.1 12h.8m-1.6-4.3h.8m-1.4 1.6h.8m-1.2-2.6h.8m-7.2 5.9h.8m-.9-6.4h.8m4.4-4h.8m.6 4.2h.8m-4.2 3.6h.8m-1.7 4.4h.8m3-9.4h.8m-6-4.1h.8m6 6.3h.8m-5.9 8.4h.8m-1.4-11.1h.8m.3 5.8h.8m-.3-5.9h.8m-4.4 6.7h.8m6.5-6.1h.8m-1.7-4h.8m-4.9 13.3h.8m0 4.7h.8m-1.7-8.7h.8m.8-.1h.8m.7-5.6h.8m.3-7.3h.8m-4.7 13.5h.8m-1 3.4h.8m4.5-7.5h.8m-3.9-4.3h.8m-1-2.3h.8m1.4 15.3h.8m-4.7-13.9h.8m-2.3 1.1h.8m-4.1-.9h.8m9.9 4h.8m-1.8-.7h.8m.9 3.4h.8m-8.5 11.8h.8m2.8-18.9h.8m-.5 5.9h.8m2.2-4.4h.8m-3.1 8.9h.8m-4-3.5h.8m-3.2 10.9h.8m2.1-13.9h.8m-1.9 .5h.8m1 5.6h.8m-1.5-4.8h.8m-2.3-3.2h.8m8.3 9.3h.8m-7.8-11.9h.8m-2.5 6.6h.8m2.5-3.6h.8m-6.2 10.8h.8m5.3-9h.8m-2.4-.7h.8m-8.4 3.2h.8m5-5.6h.8m-1.2 8.7h.8m-.2-10.9h.8m1.9 11h.8m-4.8-1h.8m1.2-1.3h.8m-3.8 2.7h.8m5.8-1h.8m1.5-22h.8m-5 18.7h.8m-1.3-3h.8m-1.2 5.2h.8m-.9-4.4h.8m3.7-3.2h.8m-2.5 6.4h.8m-5.1-2.3h.8m-2 4.8h.8m3.6-6.2h.8m-5.3 4.3h.8m4.9-2.1h.8m-2-1.3h.8m-1.8 .5h.8m.9-6.1h.8m-1 6.4h.8m-1.5-.6h.8m-.2-3.6h.8m2-3.2h.8m-8.3 9.7h.8m5.7 .2h.8m-3.8-8.5h.8m-1.9 7h.8m3.5 3.2h.8m-10.4 7.1h.8m4.8-14.6h.8m3.3 4.2h.8m-5.8 1.3h.8m1.6 3.9h.8m-7.5 5h.8m7.4-11.9h.8m-4.8-2.9h.8m1.3 1.6h.8m-4.4 7.3h.8m3.2-6.1h.8m-1.4 8.9h.8m-3.8-9.9h.8m3.3 6.6h.8m-3 2.2h.8m-1.9-13.2h.8m-1.7 8h.8m0-3h.8m-1.2-.7h.8m-1.7 5h.8m4.6-4.3h.8m-3.3-.5h.8m.5 3.4h.8m3-6h.8m-5.3 7.7h.8m-2.9 .7h.8m-4.9 7.7h.8m.5-6h.8m-.4 1.2h.8m2-5h.8m-.5 4.7h.8m1.8-20.3h.8m-4.7 15.7h.8m-.5 3h.8m3.8-4.6h.8m-8.7 7.6h.8m7.4-8.4h.8m1.9-.2h.8m-9.4 .9h.8m5.7-3.9h.8m1.4 .2h.8m-4.7 7.2h.8m-4.2 2.7h.8m-4.5 1.4h.8m4.6-9.5h.8m-.1 8h.8m-1.6 4.7h.8m.7-3.6h.8m-4-5.8h.8m2.2-.7h.8m-1.9 2.2h.8m1.1-2.6h.8m-3.3-3.6h.8m-4 10h.8m1.7-1.9h.8m-1.5-13.7h.8m-3 15.5h.8m5.5-4.1h.8m-5.3-2.3h.8m.7-1.1h.8m-6-2.6h.8m3.1 11.9h.8m.2-.6h.8m-.8-8.2h.8m-10.5 3.5h.8m9.5 6.5h.8m-1.9-8.3h.8m-.3-6.4h.8m-1.5 4.2h.8m4.2 1.7h.8m-6.5 .7h.8m2.6-4.1h.8m2.7-6h.8m-6.6 12.7h.8m-3.5-1.5h.8m6 .5h.8m-7.5-5.9h.8m5.8 5.1h.8m-4.1 .7h.8m2.1-5.7h.8m-4.2 4.2h.8m-1.2-1.3h.8m4.8-4.2h.8m-1.8 14.2h.8m-8.4-10.1h.8m5.1-3.1h.8m-4.1 2.6h.8m3.3-1.3h.8m1.3 4h.8m-6.9 5.8h.8m2.1-5.4h.8m-4.6 7.2h.8m4-10.1h.8m-7.5 2.9h.8m2.2-10.5h.8m-.4 10h.8m3.3 0h.8m-.7-7.5h.8m-4.2 6.7h.8m1.5 0h.8m-.3-3.1h.8m-2.8 4.6h.8m-4.8-1.2h.8m3.5-10.4h.8m1.1 7.7h.8m-5.5-.1h.8m.1 9.5h.8m-.6-5.2h.8m3.1 .3h.8m-.7-5.1h.8m-1.9 2.1h.8m.8-4.7h.8m-7.7 11.4h.8m2.2-8.2h.8m.2-1.6h.8m3-2.8h.8m-6.1 8h.8m.4-5.8h.8m-3.9 6.1h.8m-1.5 1.1h.8m-1-6h.8m3.9-3.4h.8m-.3 6.1h.8m-3.8-7.5h.8m-3.6 7.9h.8m1.5-7.1h.8m-1.6 18.2h.8m1.8-7.6h.8m-.9 .1h.8m-3.8-6h.8m3 2h.8m-1.4-3.2h.8m-.9-.6h.8m-6-2.1h.8m4.2 13.8h.8m4-7.3h.8m-3.9 4.1h.8m-2.6-13.1h.8m1.2-.3h.8m-3.9 11.9h.8m-3.1-2.9h.8m5.8 1.6h.8m-3.1 2.8h.8m3-3.8h.8m-1.9-1.1h.8m-5.8 1.9h.8m-.2-4.4h.8m.8-8.7h.8m.1 5.2h.8m-3.8 13.6h.8m-.1-10h.8m3.2 5.4h.8m-1-4.5h.8m-1.1-1.6h.8m-5.7 6.4h.8m-.7 .9h.8m9.1-12.3h.8m-11.5 14h.8m.8 .2h.8m-2.3-4.1h.8m1.6-1h.8m1.7-6.8h.8m-6.8 13.1h.8m3.9-6.5h.8m-1.9 1.3h.8m-2.5-6.8h.8m4.6 5.8h.8m-1.3-3.8h.8m-.3 4.7h.8m-3.3 1.1h.8m-2-12.1h.8m-4.7 17.5h.8m7.2-9.9h.8m-6.2 6.9h.8m1.6-11.7h.8m1.4 8.9h.8m-10-3.9h.8m5.4 3.9h.8m.3-5.6h.8m-2.4 4.7h.8m-.6-3.3h.8m3.7-2.9h.8m-4-5.4h.8m-1 14.3h.8m-.9 .4h.8m-.6-2.9h.8m-.1-3h.8m1.1-.4h.8m-8.8 6h.8m9.5-9.1h.8m-6.1 1.4h.8m-2.2 3.6h.8m-2.8-1.6h.8m-1.1-1.4h.8m.4-2.5h.8m-4.3 11.4h.8m7.9-15.7h.8m-4.8 6.3h.8m-.4-3.9h.8m2 5.2h.8m-2.3 4.7h.8m3.6-11.8h.8m-2.6 15.5h.8m-4.8 5.5h.8m-.4-7.8h.8m-3.5 1.6h.8m3-7.9h.8m4.1 .7h.8m-6.4 .5h.8m-3.4 3.7h.8m3.2-.9h.8m-9.4 3.3h.8m6.4-11.2h.8m.1 8.9h.8m-6.8 9.6h.8m2.5-21h.8m-3.5 15.7h.8m3.4-8.9h.8m-.3-1.2h.8m-2.4-.2h.8m1.3 8.3h.8m-4.6-3.9h.8m5.1-6.6h.8m-4.2 .2h.8m-3.8 5.7h.8m.1 2.7h.8m1.3-1.1h.8m-.6-5.3h.8m-.8 3.2h.8m-2.8 2.2h.8m3.2-1.4h.8m2.4-3.9h.8m-4.1 1.1h.8m-1.1-2.1h.8m.5 5h.8m.7-7.2h.8m-5.5 1.9h.8m-1.1 1h.8m-.3 3.3h.8m-.1-2.7h.8m-1.5 7.2h.8m-2.8-4.4h.8m.9 2.4h.8m-.3-2.5h.8m-3.3 .2h.8m-1.1 2.5h.8m1.8-2.4h.8m-3.5 3.8h.8m3.2 .3h.8m4-4.5h.8m-3.4-.4h.8m-3.3 2.4h.8m-1.4 1.5h.8m-1.7-3.1h.8m-.2 8.6h.8m-1.2-17.8h.8m-1.5 9.5h.8m.9 0h.8m1 4.4h.8m-2.7-7.2h.8m-1.7 .5h.8m.6-6h.8m-2.4 5.7h.8m-.3 .8h.8m1.7-1.3h.8m-4.6 5.3h.8m0-1.6h.8m1.4 1h.8m-1.4-3.1h.8m0 1.9h.8m-3.6-1.6h.8m-1.9-4.1h.8m-2.8 1.4h.8m7.5 .6h.8m-2.7 2.8h.8m-5.9 6.7h.8m5.3-15.4h.8m-.2 3.3h.8m-5.6 8.8h.8m-1.5 2.2h.8m4.4-13.5h.8m-5.7 9.3h.8m-.6-2.5h.8m2.3 2.7h.8m-5.1-.7h.8m1.2-7h.8m-3.5 7.6h.8m2.3-1.5h.8m-3.5-.9h.8m.1-3.7h.8m1.9-2.3h.8m-2.1 19.4h.8m1.8-17.7h.8m-2.2-2.6h.8m-2.9 10.4h.8m3.1-7.7h.8m-3.6 10.9h.8m4.7-9.3h.8m-8.3 3.8h.8m-5.6-2.9h.8m6 .3h.8m-4.4 1.1h.8m.4 5h.8m-.2-5.2h.8m.2 4.3h.8m-6-4.6h.8m7.8-.1h.8m-7.4 3.5h.8m4.6-3h.8m-4.2-2.4h.8m1.5-.7h.8m-5.1 .6h.8m3.8 1.3h.8m-1.4 2.9h.8m-.1 10.6h.8m2-18h.8m-10.8 6.5h.8m7.2-5.3h.8m-.6 2h.8m-.9 2.2h.8m.5-7.1h.8m-4.4 8h.8m-5.2 10.1h.8m2-2.4h.8m.3-8.1h.8m3.5 2.6h.8m-3.3-.2h.8m-4.3-3.2h.8m-.3 2.9h.8m.5-1.2h.8m.4 0h.8m-.1-3h.8m-3.4-.1h.8m3.8 5.2h.8m-3 5h.8m-4.6-4.3h.8m.2-4.3h.8m1.5 9.8h.8m-2.5-8.6h.8m5.5-6.9h.8m-4 5.9h.8m-4.4 2.3h.8m4-5.3h.8m-2.4 5.4h.8m-6.2 6.9h.8m7.4-12.1h.8m-6.6 8.2h.8m1.8-13.1h.8m1.5 9.3h.8m1.1 1.7h.8m-5-6.5h.8m-1.6 10.4h.8m-2.6-10.2h.8m5.5-11.5h.8m-8.4 20h.8m2.6-12.1h.8m5.6 1.1h.8m-8.1 5.2h.8m.8 0h.8m-1.7 2.1h.8m-.8 .2h.8m-7.1 1.7h.8m4.1-13h.8m5.7 4.4h.8m-4.4 2.6h.8m-4.2 6.2h.8m-1.7-.5h.8m2.3 3.9h.8m-2.6-.5h.8m4.1 2.7h.8m-2.8-5.7h.8m3.5 8.9h.8m-9-6.6h.8m3.5-4.2h.8m-2.3 2.1h.8m1.4-1.4h.8m-3.4 5.9h.8m-.1-4.3h.8m0 5.5h.8m1-6.3h.8m-2-8h.8m-.8 .9h.8m-5.7 8.5h.8m1.7-.9h.8m-2.8 3.6h.8m1.2 0h.8m1.5-5.2h.8m-3.7-.6h.8m2 3.3h.8m-6.3 1.6h.8m1.9-1h.8m-1.9-.9h.8m-.6-2.5h.8m.9-2.1h.8m-1.6 .7h.8m-4.8 5.1h.8m7.4-6.6h.8m-6.7-1h.8m4.1 6.3h.8m-4.3 1.4h.8m-1.3-7.5h.8m2.6 2.5h.8m-1.4-12h.8m0 14.1h.8m-7.4 1.4h.8m4-1.6h.8m2.6-5.1h.8m-2.7 7.1h.8m-1.5 4.8h.8m.9-11h.8m2.7-2.7h.8m-6.8 .7h.8m-1.7 10.2h.8m3.4-3.1h.8m-4.9-5h.8m-2.1 7.5h.8m-1.5-.5h.8m2.1-3.4h.8m3.8-3.3h.8m.4-4.6h.8m-7.1-.9h.8m-2.6 10.8h.8m3.4-1.3h.8m-.7-7.4h.8m.9-13h.8m-.6 2.5h.8m-5.3-.1h.8m.3-1h.8m1.9-1.5h.8m-.9 6.9h.8m-1-3.1h.8m-1.9-3.3h.8" stroke="#000" stroke-width="0.8" fill="none" filter="url(#bl)"/>
<polygon points="86.4,258.3 108.1,256.4 97.8,283.6 86.4,283.6" fill="none" stroke="#cc3d68" stroke-width="0.6" stroke-dasharray="1.5 1.1"/>
<text x="86.2" y="250.7" font-size="4.5" fill="#cc3d68">P1</text>
<text x="86.2" y="256" font-size="4.5" fill="#cc3d68">13.9%</text>
<rect x="131.1" y="243.2" width="58.2" height="58.4" fill="none" stroke="#555" stroke-width="0.8"/>
<line x1="127.8" y1="301.6" x2="131.1" y2="301.6" stroke="#000" stroke-width="0.7"/>
<line x1="127.8" y1="298.8" x2="131.1" y2="298.8" stroke="#333" stroke-width="0.45"/>
<line x1="127.8" y1="297.16" x2="131.1" y2="297.16" stroke="#333" stroke-width="0.45"/>
<line x1="127.8" y1="296" x2="131.1" y2="296" stroke="#333" stroke-width="0.45"/>
<line x1="127.8" y1="295.1" x2="131.1" y2="295.1" stroke="#333" stroke-width="0.45"/>
<line x1="127.8" y1="294.36" x2="131.1" y2="294.36" stroke="#333" stroke-width="0.45"/>
<line x1="127.8" y1="293.74" x2="131.1" y2="293.74" stroke="#333" stroke-width="0.45"/>
<line x1="127.8" y1="293.2" x2="131.1" y2="293.2" stroke="#333" stroke-width="0.45"/>
<line x1="127.8" y1="292.73" x2="131.1" y2="292.73" stroke="#333" stroke-width="0.45"/>
<line x1="127.8" y1="292.3" x2="131.1" y2="292.3" stroke="#000" stroke-width="0.7"/>
<line x1="127.8" y1="289.5" x2="131.1" y2="289.5" stroke="#333" stroke-width="0.45"/>
<line x1="127.8" y1="287.86" x2="131.1" y2="287.86" stroke="#333" stroke-width="0.45"/>
<line x1="127.8" y1="286.7" x2="131.1" y2="286.7" stroke="#333" stroke-width="0.45"/>
<line x1="127.8" y1="285.8" x2="131.1" y2="285.8" stroke="#333" stroke-width="0.45"/>
<line x1="127.8" y1="285.06" x2="131.1" y2="285.06" stroke="#333" stroke-width="0.45"/>
<line x1="127.8" y1="284.44" x2="131.1" y2="284.44" stroke="#333" stroke-width="0.45"/>
<line x1="127.8" y1="283.9" x2="131.1" y2="283.9" stroke="#333" stroke-width="0.45"/>
<line x1="127.8" y1="283.43" x2="131.1" y2="283.43" stroke="#333" stroke-width="0.45"/>
<line x1="127.8" y1="283" x2="131.1" y2="283" stroke="#000" stroke-width="0.7"/>
<line x1="127.8" y1="280.2" x2="131.1" y2="280.2" stroke="#333" stroke-width="0.45"/>
<line x1="127.8" y1="278.56" x2="131.1" y2="278.56" stroke="#333" stroke-width="0.45"/>
<line x1="127.8" y1="277.4" x2="131.1" y2="277.4" stroke="#333" stroke-width="0.45"/>
<line x1="127.8" y1="276.5" x2="131.1" y2="276.5" stroke="#333" stroke-width="0.45"/>
<line x1="127.8" y1="275.76" x2="131.1" y2="275.76" stroke="#333" stroke-width="0.45"/>
<line x1="127.8" y1="275.14" x2="131.1" y2="275.14" stroke="#333" stroke-width="0.45"/>
<line x1="127.8" y1="274.6" x2="131.1" y2="274.6" stroke="#333" stroke-width="0.45"/>
<line x1="127.8" y1="274.13" x2="131.1" y2="274.13" stroke="#333" stroke-width="0.45"/>
<line x1="127.8" y1="273.7" x2="131.1" y2="273.7" stroke="#000" stroke-width="0.7"/>
<line x1="127.8" y1="270.9" x2="131.1" y2="270.9" stroke="#333" stroke-width="0.45"/>
<line x1="127.8" y1="269.26" x2="131.1" y2="269.26" stroke="#333" stroke-width="0.45"/>
<line x1="127.8" y1="268.1" x2="131.1" y2="268.1" stroke="#333" stroke-width="0.45"/>
<line x1="127.8" y1="267.2" x2="131.1" y2="267.2" stroke="#333" stroke-width="0.45"/>
<line x1="127.8" y1="266.46" x2="131.1" y2="266.46" stroke="#333" stroke-width="0.45"/>
<line x1="127.8" y1="265.84" x2="131.1" y2="265.84" stroke="#333" stroke-width="0.45"/>
<line x1="127.8" y1="265.3" x2="131.1" y2="265.3" stroke="#333" stroke-width="0.45"/>
<line x1="127.8" y1="264.83" x2="131.1" y2="264.83" stroke="#333" stroke-width="0.45"/>
<line x1="127.8" y1="264.4" x2="131.1" y2="264.4" stroke="#000" stroke-width="0.7"/>
<line x1="127.8" y1="261.6" x2="131.1" y2="261.6" stroke="#333" stroke-width="0.45"/>
<line x1="127.8" y1="259.96" x2="131.1" y2="259.96" stroke="#333" stroke-width="0.45"/>
<line x1="127.8" y1="258.8" x2="131.1" y2="258.8" stroke="#333" stroke-width="0.45"/>
<line x1="127.8" y1="257.9" x2="131.1" y2="257.9" stroke="#333" stroke-width="0.45"/>
<line x1="127.8" y1="257.16" x2="131.1" y2="257.16" stroke="#333" stroke-width="0.45"/>
<line x1="127.8" y1="256.54" x2="131.1" y2="256.54" stroke="#333" stroke-width="0.45"/>
<line x1="127.8" y1="256" x2="131.1" y2="256" stroke="#333" stroke-width="0.45"/>
<line x1="127.8" y1="255.53" x2="131.1" y2="255.53" stroke="#333" stroke-width="0.45"/>
<line x1="127.8" y1="255.1" x2="131.1" y2="255.1" stroke="#000" stroke-width="0.7"/>
<line x1="127.8" y1="252.3" x2="131.1" y2="252.3" stroke="#333" stroke-width="0.45"/>
<line x1="127.8" y1="250.66" x2="131.1" y2="250.66" stroke="#333" stroke-width="0.45"/>
<line x1="127.8" y1="249.5" x2="131.1" y2="249.5" stroke="#333" stroke-width="0.45"/>
<line x1="127.8" y1="248.6" x2="131.1" y2="248.6" stroke="#333" stroke-width="0.45"/>
<line x1="127.8" y1="247.86" x2="131.1" y2="247.86" stroke="#333" stroke-width="0.45"/>
<line x1="127.8" y1="247.24" x2="131.1" y2="247.24" stroke="#333" stroke-width="0.45"/>
<line x1="127.8" y1="246.7" x2="131.1" y2="246.7" stroke="#333" stroke-width="0.45"/>
<line x1="127.8" y1="246.23" x2="131.1" y2="246.23" stroke="#333" stroke-width="0.45"/>
<line x1="127.8" y1="245.8" x2="131.1" y2="245.8" stroke="#000" stroke-width="0.7"/>
<line x1="131.1" y1="301.6" x2="131.1" y2="304.3" stroke="#000" stroke-width="0.7"/>
<line x1="133.93" y1="301.6" x2="133.93" y2="304.3" stroke="#333" stroke-width="0.45"/>
<line x1="135.58" y1="301.6" x2="135.58" y2="304.3" stroke="#333" stroke-width="0.45"/>
<line x1="136.75" y1="301.6" x2="136.75" y2="304.3" stroke="#333" stroke-width="0.45"/>
<line x1="137.66" y1="301.6" x2="137.66" y2="304.3" stroke="#333" stroke-width="0.45"/>
<line x1="138.4" y1="301.6" x2="138.4" y2="304.3" stroke="#333" stroke-width="0.45"/>
<line x1="139.03" y1="301.6" x2="139.03" y2="304.3" stroke="#333" stroke-width="0.45"/>
<line x1="139.58" y1="301.6" x2="139.58" y2="304.3" stroke="#333" stroke-width="0.45"/>
<line x1="140.06" y1="301.6" x2="140.06" y2="304.3" stroke="#333" stroke-width="0.45"/>
<line x1="140.49" y1="301.6" x2="140.49" y2="304.3" stroke="#000" stroke-width="0.7"/>
<line x1="143.31" y1="301.6" x2="143.31" y2="304.3" stroke="#333" stroke-width="0.45"/>
<line x1="144.97" y1="301.6" x2="144.97" y2="304.3" stroke="#333" stroke-width="0.45"/>
<line x1="146.14" y1="301.6" x2="146.14" y2="304.3" stroke="#333" stroke-width="0.45"/>
<line x1="147.05" y1="301.6" x2="147.05" y2="304.3" stroke="#333" stroke-width="0.45"/>
<line x1="147.79" y1="301.6" x2="147.79" y2="304.3" stroke="#333" stroke-width="0.45"/>
<line x1="148.42" y1="301.6" x2="148.42" y2="304.3" stroke="#333" stroke-width="0.45"/>
<line x1="148.96" y1="301.6" x2="148.96" y2="304.3" stroke="#333" stroke-width="0.45"/>
<line x1="149.44" y1="301.6" x2="149.44" y2="304.3" stroke="#333" stroke-width="0.45"/>
<line x1="149.87" y1="301.6" x2="149.87" y2="304.3" stroke="#000" stroke-width="0.7"/>
<line x1="152.7" y1="301.6" x2="152.7" y2="304.3" stroke="#333" stroke-width="0.45"/>
<line x1="154.35" y1="301.6" x2="154.35" y2="304.3" stroke="#333" stroke-width="0.45"/>
<line x1="155.53" y1="301.6" x2="155.53" y2="304.3" stroke="#333" stroke-width="0.45"/>
<line x1="156.44" y1="301.6" x2="156.44" y2="304.3" stroke="#333" stroke-width="0.45"/>
<line x1="157.18" y1="301.6" x2="157.18" y2="304.3" stroke="#333" stroke-width="0.45"/>
<line x1="157.81" y1="301.6" x2="157.81" y2="304.3" stroke="#333" stroke-width="0.45"/>
<line x1="158.35" y1="301.6" x2="158.35" y2="304.3" stroke="#333" stroke-width="0.45"/>
<line x1="158.83" y1="301.6" x2="158.83" y2="304.3" stroke="#333" stroke-width="0.45"/>
<line x1="159.26" y1="301.6" x2="159.26" y2="304.3" stroke="#000" stroke-width="0.7"/>
<line x1="162.09" y1="301.6" x2="162.09" y2="304.3" stroke="#333" stroke-width="0.45"/>
<line x1="163.74" y1="301.6" x2="163.74" y2="304.3" stroke="#333" stroke-width="0.45"/>
<line x1="164.91" y1="301.6" x2="164.91" y2="304.3" stroke="#333" stroke-width="0.45"/>
<line x1="165.82" y1="301.6" x2="165.82" y2="304.3" stroke="#333" stroke-width="0.45"/>
<line x1="166.57" y1="301.6" x2="166.57" y2="304.3" stroke="#333" stroke-width="0.45"/>
<line x1="167.19" y1="301.6" x2="167.19" y2="304.3" stroke="#333" stroke-width="0.45"/>
<line x1="167.74" y1="301.6" x2="167.74" y2="304.3" stroke="#333" stroke-width="0.45"/>
<line x1="168.22" y1="301.6" x2="168.22" y2="304.3" stroke="#333" stroke-width="0.45"/>
<line x1="168.65" y1="301.6" x2="168.65" y2="304.3" stroke="#000" stroke-width="0.7"/>
<line x1="171.47" y1="301.6" x2="171.47" y2="304.3" stroke="#333" stroke-width="0.45"/>
<line x1="173.13" y1="301.6" x2="173.13" y2="304.3" stroke="#333" stroke-width="0.45"/>
<line x1="174.3" y1="301.6" x2="174.3" y2="304.3" stroke="#333" stroke-width="0.45"/>
<line x1="175.21" y1="301.6" x2="175.21" y2="304.3" stroke="#333" stroke-width="0.45"/>
<line x1="175.95" y1="301.6" x2="175.95" y2="304.3" stroke="#333" stroke-width="0.45"/>
<line x1="176.58" y1="301.6" x2="176.58" y2="304.3" stroke="#333" stroke-width="0.45"/>
<line x1="177.13" y1="301.6" x2="177.13" y2="304.3" stroke="#333" stroke-width="0.45"/>
<line x1="177.61" y1="301.6" x2="177.61" y2="304.3" stroke="#333" stroke-width="0.45"/>
<line x1="178.04" y1="301.6" x2="178.04" y2="304.3" stroke="#000" stroke-width="0.7"/>
<line x1="180.86" y1="301.6" x2="180.86" y2="304.3" stroke="#333" stroke-width="0.45"/>
<line x1="182.51" y1="301.6" x2="182.51" y2="304.3" stroke="#333" stroke-width="0.45"/>
<line x1="183.69" y1="301.6" x2="183.69" y2="304.3" stroke="#333" stroke-width="0.45"/>
<line x1="184.6" y1="301.6" x2="184.6" y2="304.3" stroke="#333" stroke-width="0.45"/>
<line x1="185.34" y1="301.6" x2="185.34" y2="304.3" stroke="#333" stroke-width="0.45"/>
<line x1="185.97" y1="301.6" x2="185.97" y2="304.3" stroke="#333" stroke-width="0.45"/>
<line x1="186.51" y1="301.6" x2="186.51" y2="304.3" stroke="#333" stroke-width="0.45"/>
<line x1="186.99" y1="301.6" x2="186.99" y2="304.3" stroke="#333" stroke-width="0.45"/>
<line x1="187.42" y1="301.6" x2="187.42" y2="304.3" stroke="#000" stroke-width="0.7"/>
<text x="125.2" y="303.3" font-size="4.6" text-anchor="end" fill="#555">10<tspan font-size="3" dy="-1.7">1</tspan></text>
<text x="131.7" y="311.3" font-size="4.6" text-anchor="middle" fill="#555">10<tspan font-size="3" dy="-1.7">1</tspan></text>
<text x="125.2" y="294" font-size="4.6" text-anchor="end" fill="#555">10<tspan font-size="3" dy="-1.7">2</tspan></text>
<text x="141.09" y="311.3" font-size="4.6" text-anchor="middle" fill="#555">10<tspan font-size="3" dy="-1.7">2</tspan></text>
<text x="125.2" y="284.7" font-size="4.6" text-anchor="end" fill="#555">10<tspan font-size="3" dy="-1.7">3</tspan></text>
<text x="150.47" y="311.3" font-size="4.6" text-anchor="middle" fill="#555">10<tspan font-size="3" dy="-1.7">3</tspan></text>
<text x="125.2" y="275.4" font-size="4.6" text-anchor="end" fill="#555">10<tspan font-size="3" dy="-1.7">4</tspan></text>
<text x="159.86" y="311.3" font-size="4.6" text-anchor="middle" fill="#555">10<tspan font-size="3" dy="-1.7">4</tspan></text>
<text x="125.2" y="266.1" font-size="4.6" text-anchor="end" fill="#555">10<tspan font-size="3" dy="-1.7">5</tspan></text>
<text x="169.25" y="311.3" font-size="4.6" text-anchor="middle" fill="#555">10<tspan font-size="3" dy="-1.7">5</tspan></text>
<text x="125.2" y="256.8" font-size="4.6" text-anchor="end" fill="#555">10<tspan font-size="3" dy="-1.7">6</tspan></text>
<text x="178.64" y="311.3" font-size="4.6" text-anchor="middle" fill="#555">10<tspan font-size="3" dy="-1.7">6</tspan></text>
<text x="125.2" y="246.5" font-size="4.6" text-anchor="end" fill="#555">10<tspan font-size="3" dy="-1.7">7.2</tspan></text>
<text x="189.9" y="311.3" font-size="4.6" text-anchor="middle" fill="#555">10<tspan font-size="3" dy="-1.7">7.2</tspan></text>
<text x="160.2" y="237.9" font-size="8.6" text-anchor="middle" textLength="18.2" lengthAdjust="spacingAndGlyphs">CKO</text>
<polygon points="167.5,279 172.5,276.5 175,277.5 174.5,283 173.5,289 171.5,293 167,294.5 164,293 163,288 163.8,284 165.5,281" fill="url(#gB)" filter="url(#bl)"/>
<path d="M169.0 290.9h.8m1.1-10.6h.8m-.9 8.8h.8m-4.6 .6h.8m1.8-1.4h.8m-1.9 1.3h.8m-2.2-3.6h.8m-.8 3.8h.8m1.4-4.4h.8m-3 .1h.8m1.3-.1h.8m1.3 6.5h.8m-8.6-14.5h.8m4.5 7.3h.8m-.3 3.2h.8m5.3-6.6h.8m-10.1 15.7h.8m3.1-6.9h.8m-1.8-11.5h.8m-.6 8.8h.8m-3.7-4h.8m2.5-1.3h.8m-1.9 5.2h.8m.1-3h.8m-.6 7h.8m.1-8.6h.8m-.1 1.6h.8m.1-2.8h.8m-1.6 5.2h.8m-6.2-1.5h.8m2.1 3h.8m-2.3-6.9h.8m1.7 3.2h.8m-1.8 6.1h.8m-5.2-2.5h.8m7.1-2.8h.8m-7 5.3h.8m1.8 .7h.8m-.2-11.9h.8m-1.1 5.2h.8m.9 3.2h.8m-5.8-7h.8m4.1 9.4h.8m-4.2-3.4h.8m1.6 2.4h.8m.5-1.1h.8m-2.8-2.6h.8m4-9.9h.8m-6 11.4h.8m-4.4 1.5h.8m.7 2.6h.8m.8-.9h.8m2.9-1.5h.8m-4.5-9.5h.8m4.7 7.1h.8m-7.3 1.2h.8m-.2 3.6h.8m.6-4.2h.8m-3.2 2.3h.8m-1.8 .9h.8m7.8-10.9h.8m-13.1 10.7h.8m13.7-8.1h.8m-12.1 8h.8m1.3-5.5h.8m-.5 5.2h.8m-.7-1.3h.8m.8-5.6h.8m-1.1-.5h.8m.2-.9h.8m-6 12.9h.8m3.3-7.6h.8m1-1.8h.8m-3.5 4.2h.8m2-7.9h.8m.1 2.9h.8m-5.4-1.6h.8m-1.4 12.7h.8m-1.5-7.4h.8m-3.2-.8h.8m7.3-1.2h.8m-5.2 2.4h.8m2.3 2.1h.8m2.9-2.2h.8m-7.1-1.7h.8m.3 1.2h.8m-.7 .3h.8m-5.7 3.3h.8m3.9-10h.8m.1 12.4h.8m-.2-5.8h.8m1.4-6.5h.8m-6.2 6.2h.8m-2.9 .4h.8m1.1 5.2h.8m6.4-19.6h.8m-4.1 5.4h.8m.3 9h.8m-1.1-6.2h.8m-.3 15.4h.8m-6.8-8.2h.8m.6-2h.8m-4.1 9.5h.8m1.9-10.9h.8m3.4-1.7h.8m-2.8 .4h.8m0-3h.8m-2.5 4.8h.8m-.7 1.3h.8m-1.3 3.5h.8m-.1-4.5h.8m-1.4-1.9h.8m-3.3 5.2h.8m.7-6.3h.8m2.1 5.7h.8m-.6-12.1h.8m-.7 11.4h.8m-6.1 2.6h.8m2.8-9.5h.8m.4 4.7h.8m.8-7.1h.8m2.4 5h.8m-10.6 6.1h.8m2.6-1.5h.8m-.4-1.9h.8m1.3-3.4h.8m.1 1.4h.8m-5.3 2.7h.8m2.9-1.5h.8m-5 4.2h.8m-1.7-8.2h.8m4.2-1.7h.8m-2 6.5h.8m2.3-4.3h.8m-5.9 6.3h.8m-.1-5.3h.8m2.7 3.4h.8m-8.3 3.4h.8m7-5.4h.8m-4.6 4.6h.8m-2.4-.2h.8m3.1-5.6h.8m-5.3 2.3h.8m-.6 6.1h.8m2.1-1.1h.8m-.4-2.6h.8m-3.5 2.1h.8m6.7-4.9h.8m-7.1 .7h.8m0-2.7h.8m.4 2.1h.8m2.3 1.4h.8m-4.5 4.8h.8m-2.9 2.4h.8m.4-11.2h.8m-.8 3.4h.8m-3.5 .4h.8m-2.8 7.2h.8m5.2-10.2h.8m-3.2 1.3h.8m1.6-3.3h.8m-3.4 4.3h.8m-.8 5.6h.8m4.3-4.6h.8m-1.3-6.8h.8m-1.5 6.6h.8m-2.7 8.1h.8m-6.8-6.7h.8m2 1.7h.8m-.4-5.5h.8m2.2 5.6h.8m.1-7h.8m-3.9 8.3h.8m2.9-12.8h.8m-.5 10.5h.8m0-3.8h.8m-.3-3.6h.8m-2 2.9h.8m-1.9 7.4h.8m-3.5-5.2h.8m.1 6.2h.8m3.1-12.1h.8m-3.2 9.8h.8m5.7-12.1h.8m-10.4 15.1h.8m-.7-12.7h.8m2.1 11.1h.8m-3.4-2.4h.8m.3 4.9h.8m-.6-2.6h.8m-2.1-5.9h.8m.1 6.6h.8m2.7-9.4h.8m-1.9 7.6h.8m-2-5.2h.8m.3-7.2h.8m-1.5 9.7h.8m-4 2.5h.8m-1-6.4h.8m-.7 12.7h.8m-2.5-7.2h.8m6-.9h.8m1.1-6.9h.8m-11.4 8.9h.8m3-5.5h.8m-2 6.9h.8m6.1-8.9h.8m-1.5 4.2h.8m-3.4-.3h.8m-1.5 2.8h.8m1.4-4.8h.8m1.3-1.3h.8m-3.6 5.1h.8m3.1-4.6h.8m-.7 3.4h.8m-5.1-4.2h.8m.6 3.6h.8m-4.2-5.9h.8m.3 2.2h.8m1.6 10.3h.8m-.5-5.1h.8m-3.9-1.5h.8m.8 10.4h.8m1.4-12.1h.8m-2.9-1h.8m-3.2 1.5h.8m-.1 10.1h.8m-.7-2.4h.8m4.8-6.4h.8m-1.8 3.2h.8m-5.6-2.3h.8m.8-2.4h.8m-1.8 1.8h.8m1.8-5.1h.8m-1.4-3.2h.8m-2 10.7h.8m-.7-1.7h.8m1.1-4.7h.8m-4 5.9h.8m2.5-.6h.8m3.7-2.4h.8m-6.1 6.8h.8m-1.8-10.5h.8m-4.4 4.9h.8m5 .6h.8m-2.6-3.3h.8m1.8-8.8h.8m-3.6 10.9h.8m-6.9 10.7h.8m2.1-16.3h.8m-2.3 11h.8m.4-2.2h.8m3.4-2.1h.8m-5-4.3h.8m7.6-3.4h.8m-8.3 5.6h.8m3.1 2.1h.8m.2-6.6h.8m-1.8 8.2h.8m-8.2 4.8h.8m11.3-11.5h.8m-8.5 10.8h.8m-1.8-16.9h.8m-1.6 7.1h.8m0 5.9h.8m3.1-9.3h.8m-2.8 15.6h.8m1.6-4.4h.8m-3.8-.1h.8m-3.2-1.1h.8m1.1 1.9h.8m2.7-11.1h.8m-3.8 11.5h.8m-2.4-8.9h.8m.9-4.7h.8m1.2 14.1h.8m-.2-5.4h.8m-3.1 0h.8m-3.1 3.3h.8m3.8 .2h.8m-4.2-4.3h.8m-1.3 8.6h.8m3.4-18.4h.8m-3.7 18.8h.8m.9-5h.8m.1-14.2h.8m-6.3 3.6h.8m2.2 7.8h.8m1.9-3.3h.8m-.2 .3h.8m-6.1 5.7h.8m1.9-17.9h.8m-3.7 14.1h.8m-5.7-2.3h.8m7.3-5.3h.8m-4.6 4.8h.8m0 8.6h.8m4.2-14.2h.8m-6.1 11.4h.8m6.7-1.5h.8m-6.3 7.3h.8m.3-10.8h.8m-4.2-1h.8m9.3-4.6h.8m-6.4 .1h.8m-2.6 11.5h.8m-1.6-.8h.8m2-1.4h.8m1.5 1.6h.8m-4.8-7.3h.8m-3.2 5.8h.8m-1.5 11.3h.8m7.5-14.8h.8m-8.2 9.6h.8m-2.9-10.7h.8m7-2.3h.8m-5 2.8h.8m1.7 2.4h.8m-1.9 2.3h.8m-2.2 2.6h.8m-.5-12.8h.8m-3.4-.9h.8m0 13.3h.8m2.6-8.2h.8m-4.1 .4h.8m.9-.2h.8m-3.5 .4h.8m7.1-8.5h.8m-4.1 .3h.8m-1 6.9h.8m-7.4 4.2h.8m9.3 .1h.8m-2.3-.9h.8m-10 2.8h.8m5.5-9.8h.8m.8 8.8h.8m-4.8 2.9h.8m-1.5-1.2h.8m-.8-.5h.8m-2.1 4.8h.8m2.8-.3h.8m-1.9-9.6h.8m5.5-11.3h.8m-9.1 18.9h.8m3.2-.3h.8m-2.4-2.1h.8m-.2-9.6h.8m-4 4.1h.8m2.2-.4h.8m-7.3-6.9h.8m4.9 11.5h.8m.2-5.9h.8m-7.9 14.5h.8m2.6-1.7h.8m7.4-7h.8m-6.2-.7h.8m-2.4 .6h.8m1.9 1.4h.8m.6 6h.8m-3.7-3.5h.8m-.1-9.7h.8m-.2-.4h.8m1.6 9.5h.8m.8-4.7h.8m-2.9-2.8h.8m-5.4 5.2h.8m4.3-7.8h.8m.6-3.2h.8m-3.8 5.6h.8m-1.3-2.3h.8m1.6 8.2h.8m.2-2.1h.8m-6.8-2.6h.8m-1.3 4.2h.8m5.5-.7h.8m-4.9-3.5h.8m2.3-5.4h.8m-2.4 8.2h.8m-2.1-3.1h.8m1.4-2h.8m-4.8 8h.8m1.1 4.5h.8m-.8-17.3h.8m1.7 13.7h.8m-2.9-12.1h.8m1.2-1.5h.8m-1.2-2.1h.8m-.6 .3h.8m-4 18.1h.8m-.3-3.7h.8m-.2-8.3h.8m-4.8 9.6h.8m2.4 2.9h.8m-2-9.2h.8m1 8.2h.8m5.5-10.4h.8m-7.5-5.4h.8m4.2 8.2h.8m-6 .2h.8m-4.3-8.4h.8m6.4 10.6h.8m-1.6-7h.8m-2.2 13.9h.8m-3.9-8.8h.8m.9 1.8h.8m.9-2.6h.8m-3.3 .7h.8m0-.7h.8m-.1 4h.8m-1.2-4.9h.8m3.4 .6h.8m-5.3 5.4h.8m1.3-3.9h.8m.3-6.6h.8m-2.5 12.8h.8m2.1-14.4h.8m-2.1 3.3h.8m-3.1 5.1h.8m-4.4 6.1h.8m2.6-2.7h.8m.6 2.7h.8m3.1-14h.8m-3.1-3.3h.8m-4.7 14.2h.8m2.2 2.9h.8m-3.2-4.9h.8m-.5 4.8h.8m4.6-8.1h.8m4.6 1.7h.8m-12.2 3.1h.8m2.2-.3h.8m-5.3 4.6h.8m1 .4h.8m5.2-14.1h.8m-7.2 1.4h.8m1.5 5.3h.8m0-4.3h.8m-2.4 11h.8m-3.9-8h.8m3.2 .4h.8m-3.6 9.5h.8m3.8-4.6h.8m-7.3 6.9h.8m4.6-14h.8m-2.7 .4h.8m5 3.5h.8m-4-11.8h.8m-.1 5.5h.8m-7.1 8.3h.8m-.3 1.1h.8m6.7-13.1h.8m-4.3 1.1h.8m-2.8 12.4h.8m-5 4.5h.8m4.6-15h.8m-2.1 9.9h.8m-3.3-4h.8m-1.9 6.1h.8m4.6-8.2h.8m2.3-4.3h.8m-7.3 15.7h.8m.3-2.5h.8m1.9-10.3h.8m-2.7 3.9h.8m-.4-4.5h.8m-1.1-3.3h.8m-.2 9.4h.8m2.8-11h.8m-2.2 8.9h.8m-6.7 .6h.8m4.6 2.1h.8m-1.4 2.1h.8m.5-4.9h.8m-7.9-3.6h.8m5.3 1.5h.8m-1.1 6.3h.8m-3.4 5.4h.8m-2.6-4.7h.8m2-8.6h.8m1.8 .8h.8m.4-2.7h.8m-3.2 1.6h.8m-1.9 2.4h.8m-4.1 5.1h.8m.4-8.2h.8m3 9.8h.8m-.8-3.2h.8m4.8-7.7h.8m-8.9 1.1h.8m2.3 6.4h.8m-.8 3.4h.8m-2.7-9h.8m-5.5 15.2h.8m5.7-8.1h.8m-3.4-3.9h.8m-.7-.7h.8m-6.4 1.3h.8m4.1 1.8h.8m.2 2.8h.8m-1.3-.3h.8m-5.7-9.5h.8m10.5-.5h.8m-7.8 9.6h.8m-2.4 .1h.8m.2-13.2h.8m-.8 1.3h.8m1.4 6.7h.8m.8-3.6h.8m4.1 4.7h.8m-8.1 2.7h.8m-.3-5.4h.8m-1.3 7.7h.8m.7 .2h.8m-2.5-8.6h.8m5.4 2.7h.8m-5.7 4.8h.8m3.6-10.4h.8m-6.6 4.6h.8m1.5-9.9h.8m.1-2.4h.8m-2.8 17.2h.8m1.5-8.8h.8m-.2 1.7h.8m-6.3-.5h.8m-.9 5.7h.8m5.6-11.3h.8m-7 15h.8m1.4-2h.8m-5.6 2.3h.8m-.3-3.8h.8m5.3 8.4h.8m-2.1-5h.8m-2.5-6.8h.8m3.4 2.4h.8m-2.9-7h.8m-1.9 10.2h.8m-2.2-5.7h.8m4.7 3.4h.8m-4.4-6.6h.8m-2.5 4.5h.8m4.7-1.8h.8m.6-1.6h.8m-8 8.8h.8m1-8.3h.8m-1.7 6.4h.8m-4.2-3.5h.8m3.5-.8h.8m1.5-.8h.8m-4.2 3h.8m2.3-1.3h.8m1.9-3.4h.8m-1.5 .2h.8m-5.7 6.1h.8m4.5 2.7h.8m-7.5 2h.8m1.5-10.4h.8m.2 4.4h.8m1.1-3.2h.8m-3.4 5.9h.8m-.5-3.3h.8m-4.1 4.6h.8m1.7-2h.8m-1.6-2.4h.8m-2.7 .3h.8m3.9 .1h.8m-.8 1.1h.8m1-2.5h.8m-9.2 3.1h.8m4.3-7.1h.8m.2 6.2h.8m-.8-2.9h.8m-1.9 2.9h.8m4.1-4.7h.8m-6.4 5.2h.8m-3.5-9.8h.8m9.5-.8h.8m-5.8 4.6h.8m-3.2-5.7h.8m-3.7 13.8h.8m-1.9-.9h.8m2.4 7.1h.8m-2.2-3.8h.8m4.2-7.7h.8m-9.1 9h.8m1.8-9.9h.8m3.6 7.9h.8m-4.3-5.7h.8m-.3 6h.8m9-15h.8m-4-5.2h.8m-4.7 8.8h.8m3.2 6.4h.8m-7.3-3.4h.8m-1 3.5h.8m-.1 2.3h.8m3.6 .2h.8m-5.9-11.6h.8m-2 13.4h.8m8-17h.8m-4 .6h.8m-1.1-3.6h.8m-.1 .4h.8m-.1-3.3h.8m-2-1.2h.8m-3.3 6.3h.8m1.9-4.3h.8" stroke="#000" stroke-width="0.8" fill="none" filter="url(#bl)"/>
<polygon points="165.3,258.3 187,256.4 176.7,283.6 165.3,283.6" fill="none" stroke="#cc3d68" stroke-width="0.6" stroke-dasharray="1.5 1.1"/>
<text x="165.1" y="250.7" font-size="4.5" fill="#cc3d68">P1</text>
<text x="165.1" y="256" font-size="4.5" fill="#cc3d68">14.3%</text>
<rect x="209.7" y="243.2" width="58.2" height="58.4" fill="none" stroke="#555" stroke-width="0.8"/>
<line x1="206.4" y1="301.6" x2="209.7" y2="301.6" stroke="#000" stroke-width="0.7"/>
<line x1="206.4" y1="298.8" x2="209.7" y2="298.8" stroke="#333" stroke-width="0.45"/>
<line x1="206.4" y1="297.16" x2="209.7" y2="297.16" stroke="#333" stroke-width="0.45"/>
<line x1="206.4" y1="296" x2="209.7" y2="296" stroke="#333" stroke-width="0.45"/>
<line x1="206.4" y1="295.1" x2="209.7" y2="295.1" stroke="#333" stroke-width="0.45"/>
<line x1="206.4" y1="294.36" x2="209.7" y2="294.36" stroke="#333" stroke-width="0.45"/>
<line x1="206.4" y1="293.74" x2="209.7" y2="293.74" stroke="#333" stroke-width="0.45"/>
<line x1="206.4" y1="293.2" x2="209.7" y2="293.2" stroke="#333" stroke-width="0.45"/>
<line x1="206.4" y1="292.73" x2="209.7" y2="292.73" stroke="#333" stroke-width="0.45"/>
<line x1="206.4" y1="292.3" x2="209.7" y2="292.3" stroke="#000" stroke-width="0.7"/>
<line x1="206.4" y1="289.5" x2="209.7" y2="289.5" stroke="#333" stroke-width="0.45"/>
<line x1="206.4" y1="287.86" x2="209.7" y2="287.86" stroke="#333" stroke-width="0.45"/>
<line x1="206.4" y1="286.7" x2="209.7" y2="286.7" stroke="#333" stroke-width="0.45"/>
<line x1="206.4" y1="285.8" x2="209.7" y2="285.8" stroke="#333" stroke-width="0.45"/>
<line x1="206.4" y1="285.06" x2="209.7" y2="285.06" stroke="#333" stroke-width="0.45"/>
<line x1="206.4" y1="284.44" x2="209.7" y2="284.44" stroke="#333" stroke-width="0.45"/>
<line x1="206.4" y1="283.9" x2="209.7" y2="283.9" stroke="#333" stroke-width="0.45"/>
<line x1="206.4" y1="283.43" x2="209.7" y2="283.43" stroke="#333" stroke-width="0.45"/>
<line x1="206.4" y1="283" x2="209.7" y2="283" stroke="#000" stroke-width="0.7"/>
<line x1="206.4" y1="280.2" x2="209.7" y2="280.2" stroke="#333" stroke-width="0.45"/>
<line x1="206.4" y1="278.56" x2="209.7" y2="278.56" stroke="#333" stroke-width="0.45"/>
<line x1="206.4" y1="277.4" x2="209.7" y2="277.4" stroke="#333" stroke-width="0.45"/>
<line x1="206.4" y1="276.5" x2="209.7" y2="276.5" stroke="#333" stroke-width="0.45"/>
<line x1="206.4" y1="275.76" x2="209.7" y2="275.76" stroke="#333" stroke-width="0.45"/>
<line x1="206.4" y1="275.14" x2="209.7" y2="275.14" stroke="#333" stroke-width="0.45"/>
<line x1="206.4" y1="274.6" x2="209.7" y2="274.6" stroke="#333" stroke-width="0.45"/>
<line x1="206.4" y1="274.13" x2="209.7" y2="274.13" stroke="#333" stroke-width="0.45"/>
<line x1="206.4" y1="273.7" x2="209.7" y2="273.7" stroke="#000" stroke-width="0.7"/>
<line x1="206.4" y1="270.9" x2="209.7" y2="270.9" stroke="#333" stroke-width="0.45"/>
<line x1="206.4" y1="269.26" x2="209.7" y2="269.26" stroke="#333" stroke-width="0.45"/>
<line x1="206.4" y1="268.1" x2="209.7" y2="268.1" stroke="#333" stroke-width="0.45"/>
<line x1="206.4" y1="267.2" x2="209.7" y2="267.2" stroke="#333" stroke-width="0.45"/>
<line x1="206.4" y1="266.46" x2="209.7" y2="266.46" stroke="#333" stroke-width="0.45"/>
<line x1="206.4" y1="265.84" x2="209.7" y2="265.84" stroke="#333" stroke-width="0.45"/>
<line x1="206.4" y1="265.3" x2="209.7" y2="265.3" stroke="#333" stroke-width="0.45"/>
<line x1="206.4" y1="264.83" x2="209.7" y2="264.83" stroke="#333" stroke-width="0.45"/>
<line x1="206.4" y1="264.4" x2="209.7" y2="264.4" stroke="#000" stroke-width="0.7"/>
<line x1="206.4" y1="261.6" x2="209.7" y2="261.6" stroke="#333" stroke-width="0.45"/>
<line x1="206.4" y1="259.96" x2="209.7" y2="259.96" stroke="#333" stroke-width="0.45"/>
<line x1="206.4" y1="258.8" x2="209.7" y2="258.8" stroke="#333" stroke-width="0.45"/>
<line x1="206.4" y1="257.9" x2="209.7" y2="257.9" stroke="#333" stroke-width="0.45"/>
<line x1="206.4" y1="257.16" x2="209.7" y2="257.16" stroke="#333" stroke-width="0.45"/>
<line x1="206.4" y1="256.54" x2="209.7" y2="256.54" stroke="#333" stroke-width="0.45"/>
<line x1="206.4" y1="256" x2="209.7" y2="256" stroke="#333" stroke-width="0.45"/>
<line x1="206.4" y1="255.53" x2="209.7" y2="255.53" stroke="#333" stroke-width="0.45"/>
<line x1="206.4" y1="255.1" x2="209.7" y2="255.1" stroke="#000" stroke-width="0.7"/>
<line x1="206.4" y1="252.3" x2="209.7" y2="252.3" stroke="#333" stroke-width="0.45"/>
<line x1="206.4" y1="250.66" x2="209.7" y2="250.66" stroke="#333" stroke-width="0.45"/>
<line x1="206.4" y1="249.5" x2="209.7" y2="249.5" stroke="#333" stroke-width="0.45"/>
<line x1="206.4" y1="248.6" x2="209.7" y2="248.6" stroke="#333" stroke-width="0.45"/>
<line x1="206.4" y1="247.86" x2="209.7" y2="247.86" stroke="#333" stroke-width="0.45"/>
<line x1="206.4" y1="247.24" x2="209.7" y2="247.24" stroke="#333" stroke-width="0.45"/>
<line x1="206.4" y1="246.7" x2="209.7" y2="246.7" stroke="#333" stroke-width="0.45"/>
<line x1="206.4" y1="246.23" x2="209.7" y2="246.23" stroke="#333" stroke-width="0.45"/>
<line x1="206.4" y1="245.8" x2="209.7" y2="245.8" stroke="#000" stroke-width="0.7"/>
<line x1="209.7" y1="301.6" x2="209.7" y2="304.3" stroke="#000" stroke-width="0.7"/>
<line x1="212.53" y1="301.6" x2="212.53" y2="304.3" stroke="#333" stroke-width="0.45"/>
<line x1="214.18" y1="301.6" x2="214.18" y2="304.3" stroke="#333" stroke-width="0.45"/>
<line x1="215.35" y1="301.6" x2="215.35" y2="304.3" stroke="#333" stroke-width="0.45"/>
<line x1="216.26" y1="301.6" x2="216.26" y2="304.3" stroke="#333" stroke-width="0.45"/>
<line x1="217" y1="301.6" x2="217" y2="304.3" stroke="#333" stroke-width="0.45"/>
<line x1="217.63" y1="301.6" x2="217.63" y2="304.3" stroke="#333" stroke-width="0.45"/>
<line x1="218.18" y1="301.6" x2="218.18" y2="304.3" stroke="#333" stroke-width="0.45"/>
<line x1="218.66" y1="301.6" x2="218.66" y2="304.3" stroke="#333" stroke-width="0.45"/>
<line x1="219.09" y1="301.6" x2="219.09" y2="304.3" stroke="#000" stroke-width="0.7"/>
<line x1="221.91" y1="301.6" x2="221.91" y2="304.3" stroke="#333" stroke-width="0.45"/>
<line x1="223.57" y1="301.6" x2="223.57" y2="304.3" stroke="#333" stroke-width="0.45"/>
<line x1="224.74" y1="301.6" x2="224.74" y2="304.3" stroke="#333" stroke-width="0.45"/>
<line x1="225.65" y1="301.6" x2="225.65" y2="304.3" stroke="#333" stroke-width="0.45"/>
<line x1="226.39" y1="301.6" x2="226.39" y2="304.3" stroke="#333" stroke-width="0.45"/>
<line x1="227.02" y1="301.6" x2="227.02" y2="304.3" stroke="#333" stroke-width="0.45"/>
<line x1="227.56" y1="301.6" x2="227.56" y2="304.3" stroke="#333" stroke-width="0.45"/>
<line x1="228.04" y1="301.6" x2="228.04" y2="304.3" stroke="#333" stroke-width="0.45"/>
<line x1="228.47" y1="301.6" x2="228.47" y2="304.3" stroke="#000" stroke-width="0.7"/>
<line x1="231.3" y1="301.6" x2="231.3" y2="304.3" stroke="#333" stroke-width="0.45"/>
<line x1="232.95" y1="301.6" x2="232.95" y2="304.3" stroke="#333" stroke-width="0.45"/>
<line x1="234.13" y1="301.6" x2="234.13" y2="304.3" stroke="#333" stroke-width="0.45"/>
<line x1="235.04" y1="301.6" x2="235.04" y2="304.3" stroke="#333" stroke-width="0.45"/>
<line x1="235.78" y1="301.6" x2="235.78" y2="304.3" stroke="#333" stroke-width="0.45"/>
<line x1="236.41" y1="301.6" x2="236.41" y2="304.3" stroke="#333" stroke-width="0.45"/>
<line x1="236.95" y1="301.6" x2="236.95" y2="304.3" stroke="#333" stroke-width="0.45"/>
<line x1="237.43" y1="301.6" x2="237.43" y2="304.3" stroke="#333" stroke-width="0.45"/>
<line x1="237.86" y1="301.6" x2="237.86" y2="304.3" stroke="#000" stroke-width="0.7"/>
<line x1="240.69" y1="301.6" x2="240.69" y2="304.3" stroke="#333" stroke-width="0.45"/>
<line x1="242.34" y1="301.6" x2="242.34" y2="304.3" stroke="#333" stroke-width="0.45"/>
<line x1="243.51" y1="301.6" x2="243.51" y2="304.3" stroke="#333" stroke-width="0.45"/>
<line x1="244.42" y1="301.6" x2="244.42" y2="304.3" stroke="#333" stroke-width="0.45"/>
<line x1="245.17" y1="301.6" x2="245.17" y2="304.3" stroke="#333" stroke-width="0.45"/>
<line x1="245.79" y1="301.6" x2="245.79" y2="304.3" stroke="#333" stroke-width="0.45"/>
<line x1="246.34" y1="301.6" x2="246.34" y2="304.3" stroke="#333" stroke-width="0.45"/>
<line x1="246.82" y1="301.6" x2="246.82" y2="304.3" stroke="#333" stroke-width="0.45"/>
<line x1="247.25" y1="301.6" x2="247.25" y2="304.3" stroke="#000" stroke-width="0.7"/>
<line x1="250.07" y1="301.6" x2="250.07" y2="304.3" stroke="#333" stroke-width="0.45"/>
<line x1="251.73" y1="301.6" x2="251.73" y2="304.3" stroke="#333" stroke-width="0.45"/>
<line x1="252.9" y1="301.6" x2="252.9" y2="304.3" stroke="#333" stroke-width="0.45"/>
<line x1="253.81" y1="301.6" x2="253.81" y2="304.3" stroke="#333" stroke-width="0.45"/>
<line x1="254.55" y1="301.6" x2="254.55" y2="304.3" stroke="#333" stroke-width="0.45"/>
<line x1="255.18" y1="301.6" x2="255.18" y2="304.3" stroke="#333" stroke-width="0.45"/>
<line x1="255.73" y1="301.6" x2="255.73" y2="304.3" stroke="#333" stroke-width="0.45"/>
<line x1="256.21" y1="301.6" x2="256.21" y2="304.3" stroke="#333" stroke-width="0.45"/>
<line x1="256.64" y1="301.6" x2="256.64" y2="304.3" stroke="#000" stroke-width="0.7"/>
<line x1="259.46" y1="301.6" x2="259.46" y2="304.3" stroke="#333" stroke-width="0.45"/>
<line x1="261.11" y1="301.6" x2="261.11" y2="304.3" stroke="#333" stroke-width="0.45"/>
<line x1="262.29" y1="301.6" x2="262.29" y2="304.3" stroke="#333" stroke-width="0.45"/>
<line x1="263.2" y1="301.6" x2="263.2" y2="304.3" stroke="#333" stroke-width="0.45"/>
<line x1="263.94" y1="301.6" x2="263.94" y2="304.3" stroke="#333" stroke-width="0.45"/>
<line x1="264.57" y1="301.6" x2="264.57" y2="304.3" stroke="#333" stroke-width="0.45"/>
<line x1="265.11" y1="301.6" x2="265.11" y2="304.3" stroke="#333" stroke-width="0.45"/>
<line x1="265.59" y1="301.6" x2="265.59" y2="304.3" stroke="#333" stroke-width="0.45"/>
<line x1="266.02" y1="301.6" x2="266.02" y2="304.3" stroke="#000" stroke-width="0.7"/>
<text x="203.8" y="303.3" font-size="4.6" text-anchor="end" fill="#555">10<tspan font-size="3" dy="-1.7">1</tspan></text>
<text x="210.3" y="311.3" font-size="4.6" text-anchor="middle" fill="#555">10<tspan font-size="3" dy="-1.7">1</tspan></text>
<text x="203.8" y="294" font-size="4.6" text-anchor="end" fill="#555">10<tspan font-size="3" dy="-1.7">2</tspan></text>
<text x="219.69" y="311.3" font-size="4.6" text-anchor="middle" fill="#555">10<tspan font-size="3" dy="-1.7">2</tspan></text>
<text x="203.8" y="284.7" font-size="4.6" text-anchor="end" fill="#555">10<tspan font-size="3" dy="-1.7">3</tspan></text>
<text x="229.07" y="311.3" font-size="4.6" text-anchor="middle" fill="#555">10<tspan font-size="3" dy="-1.7">3</tspan></text>
<text x="203.8" y="275.4" font-size="4.6" text-anchor="end" fill="#555">10<tspan font-size="3" dy="-1.7">4</tspan></text>
<text x="238.46" y="311.3" font-size="4.6" text-anchor="middle" fill="#555">10<tspan font-size="3" dy="-1.7">4</tspan></text>
<text x="203.8" y="266.1" font-size="4.6" text-anchor="end" fill="#555">10<tspan font-size="3" dy="-1.7">5</tspan></text>
<text x="247.85" y="311.3" font-size="4.6" text-anchor="middle" fill="#555">10<tspan font-size="3" dy="-1.7">5</tspan></text>
<text x="203.8" y="256.8" font-size="4.6" text-anchor="end" fill="#555">10<tspan font-size="3" dy="-1.7">6</tspan></text>
<text x="257.24" y="311.3" font-size="4.6" text-anchor="middle" fill="#555">10<tspan font-size="3" dy="-1.7">6</tspan></text>
<text x="203.8" y="246.5" font-size="4.6" text-anchor="end" fill="#555">10<tspan font-size="3" dy="-1.7">7.2</tspan></text>
<text x="268.5" y="311.3" font-size="4.6" text-anchor="middle" fill="#555">10<tspan font-size="3" dy="-1.7">7.2</tspan></text>
<text x="238.8" y="237.9" font-size="8.6" text-anchor="middle" textLength="18.2" lengthAdjust="spacingAndGlyphs">DKO</text>
<polygon points="247,273.5 252,272.5 255,274.5 255.2,280 254.5,285 253,289.5 250,292 245,292.5 242.3,290 241.7,285 243,280 245,276" fill="url(#gB)" filter="url(#bl)"/>
<path d="M249.6 280.8h.8m-1-10.2h.8m2.9 19h.8m-6.9-2h.8m2.1-7h.8m1.1 1.3h.8m-4.3-2.6h.8m1 3.7h.8m-.1-2.7h.8m-1.9-1.5h.8m.5 5.7h.8m-2.5 1.2h.8m-5.1 2h.8m10.3-12.8h.8m-12.2 .7h.8m5.6 8.6h.8m-.6 3.2h.8m-3.1-2.4h.8m-2.4 3.1h.8m-2.6-6.8h.8m1.5 11.8h.8m-1.5-15.3h.8m-1.8 10.9h.8m-.1 1.9h.8m-5.6-1.1h.8m10-13.5h.8m-5.6 14h.8m-.8-1.2h.8m6.6-3.8h.8m-7.9-5.5h.8m1.5 3h.8m-3.3 .5h.8m2.4-5.1h.8m-6.2-7.3h.8m5.4 13.3h.8m.2-.4h.8m-8 2.6h.8m2.6-9.2h.8m-5.6 16h.8m4-7.2h.8m-1.8-5.8h.8m2.2 3.1h.8m-5.7-.2h.8m-1.5 1.7h.8m6.1-5.4h.8m0 .9h.8m-4.5-.9h.8m-2.7 4.7h.8m-.8-4h.8m-1.4-.6h.8m-4 2.9h.8m4.2 6.3h.8m-1.3 8.2h.8m.6-15.5h.8m4.3-3.1h.8m-3.6 .5h.8m-1.8-5.4h.8m-.6 9.6h.8m-7.9 9.7h.8m5.7-8.6h.8m-5.3-.5h.8m.4 4.1h.8m3.2-7.4h.8m-5 .7h.8m-3.1-.3h.8m1.9 6.8h.8m4.6-7.9h.8m-3.3 1.9h.8m3.4 2.1h.8m-4.8-4.7h.8m-5.7 6h.8m.4 .8h.8m-4.6 1.7h.8m.4 5.6h.8m1.5-3.3h.8m-3.6-3.6h.8m1.5-4.8h.8m1.8 .9h.8m-1 5.6h.8m1.1-4.4h.8m-6.3-3.8h.8m3.8-7h.8m.5 10h.8m-4.8 6.3h.8m2.6-3.9h.8m-5.9 .5h.8m4.2-6.3h.8m.2 7.3h.8m-9.6-2h.8m.5 5.4h.8m7.2-11.9h.8m-6.8 6.4h.8m0 7.5h.8m3.6-9.6h.8m.1-9.2h.8m-3.9 15.3h.8m-1-8.3h.8m-.7 14.1h.8m.6-16.3h.8m3.5-4h.8m-4.7 6.9h.8m.7-1.5h.8m-.5 6.1h.8m-8.2-12h.8m.9 17.3h.8m1.5-6.5h.8m-2.5 3.6h.8m1.4-2.5h.8m-5.6 4.8h.8m8.3-13.2h.8m.4 10.8h.8m-7.1-14h.8m.7 13.1h.8m-2.7-12.4h.8m3.4 6.3h.8m-8.4 18.2h.8m8.6-10h.8m-8.3-1.6h.8m-5.9-2.9h.8m4.9-7.4h.8m-4.7 9.6h.8m4.5-1.9h.8m2.2-5.3h.8m-6.2-5h.8m-.2 13.5h.8m-.1-.7h.8m-3-5.8h.8m1-4.2h.8m5.4 11.2h.8m-7.3-8.6h.8m1.8-3.6h.8m.6 .8h.8m-3.4 1.4h.8m-.9-1.6h.8m-4.4 1.9h.8m1.3 3.6h.8m0 9.6h.8m2.9-9.4h.8m-.7-2.3h.8m.3 6.6h.8m-9.3 1h.8m8.4-18.2h.8m-7.2 11.7h.8m-3.9-3.1h.8m.9 8.3h.8m1.2 11.3h.8m-1.7-7.8h.8m1.4-4.7h.8m-2.8-11.6h.8m-1.8 14.2h.8m6.4-.9h.8m-2.9-7.6h.8m.6 11.6h.8m-5.9-7.4h.8m-3.4 8h.8m4.6-8.3h.8m-1.2 2.9h.8m-1.9-8.9h.8m-3-2.7h.8m1.3 21h.8m-5.7-11h.8m6.5-6h.8m-1.4-.6h.8m1.8 2.7h.8m-5.1 6.8h.8m-.4-13.2h.8m-3.2 13.6h.8m1-2.8h.8m-3.7-.5h.8m4.7-.6h.8m2.9-1.3h.8m-8.5-7.4h.8m4.5 8.2h.8m-1.6 2.8h.8m.4 4.3h.8m-6-5.3h.8m4.8-8h.8m-1.7 13h.8m-1-7.5h.8m-2.2-4.9h.8m-1.9 2.8h.8m-.8 .5h.8m-1.6 8.9h.8m-5.3-1.4h.8m-.4-16.3h.8m3.1 11.5h.8m2.2-8.8h.8m-3.7 9.4h.8m3.3-1.2h.8m-2.3-4.6h.8m-3.4 2.8h.8m2.3-2.9h.8m-6.6 8.3h.8m7.2-1h.8m-4.7-3.9h.8m.9 4.7h.8m1.3-1.1h.8m-8.1-4.8h.8m-.4-3.6h.8m4.3 10.9h.8m-9.1 5.2h.8m5.8-14.5h.8m-1 4.7h.8m-2.8-10h.8m-.2 11.9h.8m-8.8 1.4h.8m9.6-5.4h.8m-2.5 1h.8m-3.6-.5h.8m6.7-5.7h.8m-5.5 8.6h.8m-3.1-3.3h.8m-2.6-2.2h.8m2.5 6.3h.8m-5.7 14.4h.8m2.5-15.5h.8m.7-2.8h.8m3.8-.4h.8m-2 8.6h.8m-7.8-.6h.8m-1 9h.8m2.9-19.4h.8m-5.1-1.9h.8m3 1.6h.8m-3 1.6h.8m.6 11.3h.8m-3.7-10.6h.8m2.2-5.1h.8m-2.2 3.2h.8m4.5 3.8h.8m-5.2 4.3h.8m2.4-4.4h.8m0-3.2h.8m-1.1 6.8h.8m-2.6-8.9h.8m3.9 6.9h.8m4.4-3.9h.8m-7.6 1.1h.8m-3.6 6.8h.8m-3.2-5h.8m1.9 1.1h.8m-.2 4.9h.8m.5-4.1h.8m-3.2-7.3h.8m-2.4 3.1h.8m3.3 .9h.8m-7.4 5.3h.8m1.6-7.4h.8m0 6.5h.8m-6.1-8.4h.8m6.4 4h.8m-3.8-.9h.8m5.9 .4h.8m-3.9 6.6h.8m-4-1.8h.8m.1-5.6h.8m-4 7.9h.8m2.5-7.6h.8m-4.9 12.5h.8m6.4-10.3h.8m-4-7.4h.8m.7 9.7h.8m-6.6 4.6h.8m7.4-11.3h.8m-5.2 2.9h.8m1.1 1.5h.8m-7.5 8.6h.8m5.3-1.2h.8m3.2-7.8h.8m-4.3 5h.8m1.2-4.7h.8m-5.1 1h.8m-.9-3.1h.8m-5 3.4h.8m2.7-3.4h.8m1.4 4.6h.8m5.1-.6h.8m-10.6-.4h.8m1.4 1.5h.8m-.1-5.9h.8m-.4 .4h.8m-4.7-.2h.8m3.1 9.9h.8m-.3-8.3h.8m1 4.8h.8m2.3 .2h.8m-6.3 4h.8m5.3-9.6h.8m-3.9-6.4h.8m-3 4.3h.8m-.7 2.1h.8m-1 2h.8m.9 1.8h.8m-2.7-8.1h.8m2.4 14.4h.8m-5.2-4.6h.8m-2.3-11.2h.8m.6 16h.8m-1.3-12.2h.8m8-5.6h.8m-5.6 12.6h.8m-3.1-1.6h.8m8.7-6.9h.8m-10.3 4.7h.8m-1.1-5.9h.8m4.8 8.3h.8m-10.1-4.9h.8m4.8 5.9h.8m-5.9-2.6h.8m3.9 2.5h.8m1.4-11.7h.8m1.9 10.8h.8m-3 14h.8m-3.5-21.7h.8m1.5 5.6h.8m-4.1-4.5h.8m5.2 3.1h.8m-10.1 0h.8m-.6 3.2h.8m2.4-6.5h.8m2 2.2h.8m-2 10.1h.8m-2.5-10.1h.8m-.4 8.2h.8m-.8-4h.8m-1 .9h.8m2-5.4h.8m-4.7 4h.8m-1.5 .5h.8m3-.9h.8m-3.6-4h.8m4.9 8.8h.8m-8-9.1h.8m6.3 12.5h.8m-5.8-1.9h.8m-4.7-6.2h.8m7.4-9.8h.8m-7.5 14h.8m6-7.3h.8m-5.1 11.6h.8m-.4-15.5h.8m-.6 5h.8m2.8 2.9h.8m-8.9 11.9h.8m1.7-10.3h.8m2.4 1.7h.8m-2.1-1h.8m.1-10.7h.8m-2.3 6.5h.8m-.9 1.8h.8m-3.1 6.3h.8m8.6-18.7h.8m-6.7 7.9h.8m-9.5 5.9h.8m5.8-4.1h.8m-2.1 7.7h.8m5.5-4.3h.8m-2.1-2.1h.8m-1.9-3.3h.8m-1.2 .2h.8m-1 8.1h.8m-1.3 1.9h.8m9-17.4h.8m-10.1 8.1h.8m-1.5-4.2h.8m-.2 5.9h.8m-2.9 0h.8m1-11.1h.8m2.6 10.8h.8m-7.4 3.3h.8m2.1-13.2h.8m3.4 2.7h.8m-5.5 9.5h.8m3 5.6h.8m-2.8-10.3h.8m-4 9.8h.8m6.3-2.9h.8m-8.5 2.6h.8m1.1-7.6h.8m-1.3 5.3h.8m.6 2.1h.8m2.6-2.5h.8m-9.9-11.8h.8m5.4 8.7h.8m5.1 .2h.8m-8.5 5.1h.8m3.8-6.2h.8m-1.8-4.8h.8m-7 12.6h.8m-1.9-1.7h.8m5.6-.8h.8m0-1.1h.8m-8.7-8.3h.8m2.3 10.2h.8m-1.1-8.6h.8m-.1 10.7h.8m-1.9-14.1h.8m6-4.1h.8m-3 8.8h.8m-6.6 .2h.8m.5 3.1h.8m2.2 7h.8m-.8-7.3h.8m-2.4-.7h.8m5.6-10.1h.8m-3.1 7.4h.8m-3.2 4.6h.8m1.6-.5h.8m-4.6 .4h.8m.8-2.7h.8m-1 5.7h.8m-.5-3.8h.8m-4.8-1.5h.8m-3.2 4.5h.8m1.5 3h.8m12.3-9h.8m-6.4 4.3h.8m-5.5-6.6h.8m.8 11.8h.8m.9-15.4h.8m-6 6.8h.8m6 2.7h.8m-4.6 5h.8m-1.4-6.9h.8m.6-9h.8m-.6 11.6h.8m2-8.5h.8m-7.9 11.3h.8m2.3 2.3h.8m-3.4-6.2h.8m-.3 .6h.8m-.4 1.2h.8m3.7 .7h.8m-9.6 1.4h.8m7.5-10.5h.8m-5.6 5.6h.8m3.9-2.4h.8m-8 3.8h.8m2.9 11.5h.8m-5.2 .4h.8m10-11.8h.8m-.9-1h.8m-2.1-4.4h.8m-3.3-1.5h.8m-6.4 3.9h.8m1.3 4.5h.8m5.6-4h.8m-4.7 1.9h.8m-6.1 .5h.8m4.5-1.7h.8m-2.6-10.3h.8m-.1 12.2h.8m3.4 4.3h.8m.1-4h.8m-1.2-3.1h.8m-3.3 6.1h.8m5.9-3.7h.8m-13.6 6h.8m1.8-7.6h.8m1.4-4.5h.8m2.9 8h.8m-6.2-2.8h.8m-.8 2.9h.8m.5-7.3h.8m-1.8 1.7h.8m2.3-2.5h.8m-3 7.2h.8m6.2 2.2h.8m-15.7-7.3h.8m6.3 4.4h.8m4.8 2.3h.8m-12.1-2.3h.8m6.3 .5h.8m4.2-7.9h.8m-1.1-3h.8m-5.6 10.8h.8m6.8-5.8h.8m-13.9 7.4h.8m1.6 4.6h.8m1-12.9h.8m4.3 5.1h.8m-.3-8h.8m.5 4.4h.8m-3-2.2h.8m-8.5 4h.8m2.9 9.7h.8m.4-4.6h.8m-1.8 12.7h.8m-3.7-9.8h.8m2-5.3h.8m-2.7 4.8h.8m-1-13.2h.8m2.2 .9h.8m.3 11h.8m-5-.7h.8m.1-4.4h.8m-.3 10.2h.8m1.4-14.8h.8m-5.3 11.2h.8m-1.7-8.9h.8m4.7-10.4h.8m-3.9 18.3h.8m2.9-10.1h.8m-.6 7.5h.8m4.2-6.7h.8m-8.7 4.2h.8m0 .2h.8m-.1-4.1h.8m-5.4 .7h.8m.2-2.6h.8m.5 8.2h.8m4.6-8.2h.8m-3.9 9.7h.8m.1-12.9h.8m-9.1 12.9h.8m8.8-2.8h.8m-7.6 6.2h.8m7.2-7.9h.8m-3.6-10.2h.8m1.8 1.9h.8m-2.9 12.4h.8m-3.2 4.5h.8m-1.3-5.3h.8m2.9-1.8h.8m-5.3 5.2h.8m2.9-7.5h.8m-2.8 1.7h.8m6.5-.1h.8m-7.4-6.2h.8m-3.1-4.4h.8m2.1 10.2h.8m-3.4-8.1h.8m.5 5.1h.8m-4.5 4.4h.8m3.9-1.9h.8m1.6-3.2h.8m1.3-1.9h.8m-4.7 8.8h.8m-2.9-1.6h.8m-2.4-9.8h.8m1.9 4.1h.8m.9 4h.8m-.9 1.6h.8m-1.9-1.2h.8m-2.1-3h.8m7.5-6.9h.8m-9.7 14.7h.8m.7 2.1h.8m1.7-14.1h.8m-3.3-.8h.8m.9 15.1h.8m-4.4-4.8h.8m.9-10.5h.8m-.8-.8h.8m-2.6 9.5h.8m2.2 5.8h.8m-3.1-5.6h.8m1.2 1.7h.8m-9.6-7.1h.8m10.4-1.8h.8m-4 10.3h.8m-6.4-5.4h.8m5.4 1h.8m-6.3 1.8h.8m1.7 2.5h.8m3.3-7.3h.8m-1.5-.7h.8m-2.7-4.8h.8m-1.4 12.7h.8m1-4.5h.8m-2.7-2.7h.8m4.1-5.1h.8m2 7.5h.8m-1.5 6.6h.8m-8.2-2.4h.8m1.4-1.4h.8m1.6-5.4h.8m-5.1 .7h.8m-3.2 .8h.8m3.6 2.7h.8m-.4-3.5h.8m2.3-8.8h.8m-5.8 9.1h.8m2.3 5.3h.8m-.6-3.5h.8m.5-5.4h.8m-2.6-5.9h.8m1.2 19.6h.8m-5.8-12.9h.8m-4.8-3.7h.8m4.8 7.3h.8m-5.3-1.8h.8m.8 5.1h.8m3.9-3.6h.8m-2.7 1.1h.8m-7.6 1h.8m4.8 3h.8m-6.1 .1h.8m3.2-2.6h.8m6.1-9.2h.8m-10.3 13.1h.8m1.3-10.4h.8m3.8 4h.8m-.7 2.7h.8m-3.7 3.6h.8m6.7-5.7h.8m-3.9 6.5h.8m-4.4-3.6h.8m-3.1-5.7h.8m2.4 3.1h.8m3.3-6.7h.8m-6.1 3.5h.8m-1.8 9.6h.8m-3.8-1.7h.8m2-6.2h.8m4 .2h.8m-2.1 2.1h.8m-3-2.5h.8m-5.1-2h.8m4.1 5h.8m-6.4 4.3h.8m7.2-12.2h.8m-7.1 9.6h.8m-1.9-6.6h.8m3.8 3.2h.8m-1.2 2.8h.8m-2.3-4.7h.8m8.5-4.8h.8m-9.5 8h.8m-2.3 5.9h.8m1.7-2.4h.8m-9.2 2.3h.8m12.1-10.3h.8m-1.2 5.4h.8m-3.2 8.2h.8m-1-15h.8m-.9-1.3h.8m-3.6 2.7h.8m-2 10.2h.8m5.5-10.9h.8m.7-4.1h.8m-7.4 8.2h.8m4 4.6h.8m-3.4 3h.8m-.1 .4h.8m-2.8-16.2h.8m-1.7 13.4h.8m1.2 .3h.8m.8-2h.8m.5-6.5h.8m.3-1.5h.8m-4.1-2.2h.8m1.2-.7h.8m1.7 1.1h.8m-5.2 6.4h.8m-5.3 7.3h.8m.3 1.2h.8m-.7-12.1h.8m-4.8 7.2h.8m8.2-1.7h.8m-3.1-6.1h.8m5.4 8.9h.8m-12.6-5.6h.8m-4.6 10h.8m13.1-.6h.8m-5.3-10.9h.8m-5.7 6h.8m1.9-4.9h.8m-.6 .4h.8m2.3 10.6h.8m-1.7-8.9h.8m-3.6-6.6h.8m-2.4 11.3h.8m3.1 .4h.8m.8-7.3h.8m-5.8 .2h.8m-3.3 12.6h.8m6.2-12.6h.8m4.4-.1h.8m-5.3 1.2h.8m-1.2-1.1h.8m-1.8 9.6h.8m-3.2-19.5h.8m5.2 12.8h.8m-1.9-2.4h.8m-.5 11.2h.8m-8-6.1h.8m2.7-12.2h.8m-1.6 11.6h.8m-2.6-9.9h.8m6 7h.8m-2.3-6.3h.8m-5.1 6.7h.8m1.7 .1h.8m3.5 .1h.8m-9.5-5.6h.8m1.9 11.5h.8m-1.3-9h.8m1.4-1.7h.8m-3.6 2.5h.8m3.2-12h.8m-.2 5.6h.8m1.9-4.8h.8m-1.7 3.7h.8m-3.6-2h.8m.2-1.4h.8m.1 1.7h.8m1.1-.6h.8" stroke="#000" stroke-width="0.8" fill="none" filter="url(#bl)"/>
<polygon points="243.3,258.3 265.3,256.6 255.7,283.6 243.3,283.6" fill="none" stroke="#cc3d68" stroke-width="0.6" stroke-dasharray="1.5 1.1"/>
<text x="243.1" y="250.7" font-size="4.5" fill="#cc3d68">P1</text>
<text x="243.1" y="256" font-size="4.5" fill="#cc3d68">63.1%</text>
<rect x="288.6" y="243.2" width="58.2" height="58.4" fill="none" stroke="#555" stroke-width="0.8"/>
<line x1="285.3" y1="301.6" x2="288.6" y2="301.6" stroke="#000" stroke-width="0.7"/>
<line x1="285.3" y1="298.8" x2="288.6" y2="298.8" stroke="#333" stroke-width="0.45"/>
<line x1="285.3" y1="297.16" x2="288.6" y2="297.16" stroke="#333" stroke-width="0.45"/>
<line x1="285.3" y1="296" x2="288.6" y2="296" stroke="#333" stroke-width="0.45"/>
<line x1="285.3" y1="295.1" x2="288.6" y2="295.1" stroke="#333" stroke-width="0.45"/>
<line x1="285.3" y1="294.36" x2="288.6" y2="294.36" stroke="#333" stroke-width="0.45"/>
<line x1="285.3" y1="293.74" x2="288.6" y2="293.74" stroke="#333" stroke-width="0.45"/>
<line x1="285.3" y1="293.2" x2="288.6" y2="293.2" stroke="#333" stroke-width="0.45"/>
<line x1="285.3" y1="292.73" x2="288.6" y2="292.73" stroke="#333" stroke-width="0.45"/>
<line x1="285.3" y1="292.3" x2="288.6" y2="292.3" stroke="#000" stroke-width="0.7"/>
<line x1="285.3" y1="289.5" x2="288.6" y2="289.5" stroke="#333" stroke-width="0.45"/>
<line x1="285.3" y1="287.86" x2="288.6" y2="287.86" stroke="#333" stroke-width="0.45"/>
<line x1="285.3" y1="286.7" x2="288.6" y2="286.7" stroke="#333" stroke-width="0.45"/>
<line x1="285.3" y1="285.8" x2="288.6" y2="285.8" stroke="#333" stroke-width="0.45"/>
<line x1="285.3" y1="285.06" x2="288.6" y2="285.06" stroke="#333" stroke-width="0.45"/>
<line x1="285.3" y1="284.44" x2="288.6" y2="284.44" stroke="#333" stroke-width="0.45"/>
<line x1="285.3" y1="283.9" x2="288.6" y2="283.9" stroke="#333" stroke-width="0.45"/>
<line x1="285.3" y1="283.43" x2="288.6" y2="283.43" stroke="#333" stroke-width="0.45"/>
<line x1="285.3" y1="283" x2="288.6" y2="283" stroke="#000" stroke-width="0.7"/>
<line x1="285.3" y1="280.2" x2="288.6" y2="280.2" stroke="#333" stroke-width="0.45"/>
<line x1="285.3" y1="278.56" x2="288.6" y2="278.56" stroke="#333" stroke-width="0.45"/>
<line x1="285.3" y1="277.4" x2="288.6" y2="277.4" stroke="#333" stroke-width="0.45"/>
<line x1="285.3" y1="276.5" x2="288.6" y2="276.5" stroke="#333" stroke-width="0.45"/>
<line x1="285.3" y1="275.76" x2="288.6" y2="275.76" stroke="#333" stroke-width="0.45"/>
<line x1="285.3" y1="275.14" x2="288.6" y2="275.14" stroke="#333" stroke-width="0.45"/>
<line x1="285.3" y1="274.6" x2="288.6" y2="274.6" stroke="#333" stroke-width="0.45"/>
<line x1="285.3" y1="274.13" x2="288.6" y2="274.13" stroke="#333" stroke-width="0.45"/>
<line x1="285.3" y1="273.7" x2="288.6" y2="273.7" stroke="#000" stroke-width="0.7"/>
<line x1="285.3" y1="270.9" x2="288.6" y2="270.9" stroke="#333" stroke-width="0.45"/>
<line x1="285.3" y1="269.26" x2="288.6" y2="269.26" stroke="#333" stroke-width="0.45"/>
<line x1="285.3" y1="268.1" x2="288.6" y2="268.1" stroke="#333" stroke-width="0.45"/>
<line x1="285.3" y1="267.2" x2="288.6" y2="267.2" stroke="#333" stroke-width="0.45"/>
<line x1="285.3" y1="266.46" x2="288.6" y2="266.46" stroke="#333" stroke-width="0.45"/>
<line x1="285.3" y1="265.84" x2="288.6" y2="265.84" stroke="#333" stroke-width="0.45"/>
<line x1="285.3" y1="265.3" x2="288.6" y2="265.3" stroke="#333" stroke-width="0.45"/>
<line x1="285.3" y1="264.83" x2="288.6" y2="264.83" stroke="#333" stroke-width="0.45"/>
<line x1="285.3" y1="264.4" x2="288.6" y2="264.4" stroke="#000" stroke-width="0.7"/>
<line x1="285.3" y1="261.6" x2="288.6" y2="261.6" stroke="#333" stroke-width="0.45"/>
<line x1="285.3" y1="259.96" x2="288.6" y2="259.96" stroke="#333" stroke-width="0.45"/>
<line x1="285.3" y1="258.8" x2="288.6" y2="258.8" stroke="#333" stroke-width="0.45"/>
<line x1="285.3" y1="257.9" x2="288.6" y2="257.9" stroke="#333" stroke-width="0.45"/>
<line x1="285.3" y1="257.16" x2="288.6" y2="257.16" stroke="#333" stroke-width="0.45"/>
<line x1="285.3" y1="256.54" x2="288.6" y2="256.54" stroke="#333" stroke-width="0.45"/>
<line x1="285.3" y1="256" x2="288.6" y2="256" stroke="#333" stroke-width="0.45"/>
<line x1="285.3" y1="255.53" x2="288.6" y2="255.53" stroke="#333" stroke-width="0.45"/>
<line x1="285.3" y1="255.1" x2="288.6" y2="255.1" stroke="#000" stroke-width="0.7"/>
<line x1="285.3" y1="252.3" x2="288.6" y2="252.3" stroke="#333" stroke-width="0.45"/>
<line x1="285.3" y1="250.66" x2="288.6" y2="250.66" stroke="#333" stroke-width="0.45"/>
<line x1="285.3" y1="249.5" x2="288.6" y2="249.5" stroke="#333" stroke-width="0.45"/>
<line x1="285.3" y1="248.6" x2="288.6" y2="248.6" stroke="#333" stroke-width="0.45"/>
<line x1="285.3" y1="247.86" x2="288.6" y2="247.86" stroke="#333" stroke-width="0.45"/>
<line x1="285.3" y1="247.24" x2="288.6" y2="247.24" stroke="#333" stroke-width="0.45"/>
<line x1="285.3" y1="246.7" x2="288.6" y2="246.7" stroke="#333" stroke-width="0.45"/>
<line x1="285.3" y1="246.23" x2="288.6" y2="246.23" stroke="#333" stroke-width="0.45"/>
<line x1="285.3" y1="245.8" x2="288.6" y2="245.8" stroke="#000" stroke-width="0.7"/>
<line x1="288.6" y1="301.6" x2="288.6" y2="304.3" stroke="#000" stroke-width="0.7"/>
<line x1="291.43" y1="301.6" x2="291.43" y2="304.3" stroke="#333" stroke-width="0.45"/>
<line x1="293.08" y1="301.6" x2="293.08" y2="304.3" stroke="#333" stroke-width="0.45"/>
<line x1="294.25" y1="301.6" x2="294.25" y2="304.3" stroke="#333" stroke-width="0.45"/>
<line x1="295.16" y1="301.6" x2="295.16" y2="304.3" stroke="#333" stroke-width="0.45"/>
<line x1="295.9" y1="301.6" x2="295.9" y2="304.3" stroke="#333" stroke-width="0.45"/>
<line x1="296.53" y1="301.6" x2="296.53" y2="304.3" stroke="#333" stroke-width="0.45"/>
<line x1="297.08" y1="301.6" x2="297.08" y2="304.3" stroke="#333" stroke-width="0.45"/>
<line x1="297.56" y1="301.6" x2="297.56" y2="304.3" stroke="#333" stroke-width="0.45"/>
<line x1="297.99" y1="301.6" x2="297.99" y2="304.3" stroke="#000" stroke-width="0.7"/>
<line x1="300.81" y1="301.6" x2="300.81" y2="304.3" stroke="#333" stroke-width="0.45"/>
<line x1="302.47" y1="301.6" x2="302.47" y2="304.3" stroke="#333" stroke-width="0.45"/>
<line x1="303.64" y1="301.6" x2="303.64" y2="304.3" stroke="#333" stroke-width="0.45"/>
<line x1="304.55" y1="301.6" x2="304.55" y2="304.3" stroke="#333" stroke-width="0.45"/>
<line x1="305.29" y1="301.6" x2="305.29" y2="304.3" stroke="#333" stroke-width="0.45"/>
<line x1="305.92" y1="301.6" x2="305.92" y2="304.3" stroke="#333" stroke-width="0.45"/>
<line x1="306.46" y1="301.6" x2="306.46" y2="304.3" stroke="#333" stroke-width="0.45"/>
<line x1="306.94" y1="301.6" x2="306.94" y2="304.3" stroke="#333" stroke-width="0.45"/>
<line x1="307.37" y1="301.6" x2="307.37" y2="304.3" stroke="#000" stroke-width="0.7"/>
<line x1="310.2" y1="301.6" x2="310.2" y2="304.3" stroke="#333" stroke-width="0.45"/>
<line x1="311.85" y1="301.6" x2="311.85" y2="304.3" stroke="#333" stroke-width="0.45"/>
<line x1="313.03" y1="301.6" x2="313.03" y2="304.3" stroke="#333" stroke-width="0.45"/>
<line x1="313.94" y1="301.6" x2="313.94" y2="304.3" stroke="#333" stroke-width="0.45"/>
<line x1="314.68" y1="301.6" x2="314.68" y2="304.3" stroke="#333" stroke-width="0.45"/>
<line x1="315.31" y1="301.6" x2="315.31" y2="304.3" stroke="#333" stroke-width="0.45"/>
<line x1="315.85" y1="301.6" x2="315.85" y2="304.3" stroke="#333" stroke-width="0.45"/>
<line x1="316.33" y1="301.6" x2="316.33" y2="304.3" stroke="#333" stroke-width="0.45"/>
<line x1="316.76" y1="301.6" x2="316.76" y2="304.3" stroke="#000" stroke-width="0.7"/>
<line x1="319.59" y1="301.6" x2="319.59" y2="304.3" stroke="#333" stroke-width="0.45"/>
<line x1="321.24" y1="301.6" x2="321.24" y2="304.3" stroke="#333" stroke-width="0.45"/>
<line x1="322.41" y1="301.6" x2="322.41" y2="304.3" stroke="#333" stroke-width="0.45"/>
<line x1="323.32" y1="301.6" x2="323.32" y2="304.3" stroke="#333" stroke-width="0.45"/>
<line x1="324.07" y1="301.6" x2="324.07" y2="304.3" stroke="#333" stroke-width="0.45"/>
<line x1="324.69" y1="301.6" x2="324.69" y2="304.3" stroke="#333" stroke-width="0.45"/>
<line x1="325.24" y1="301.6" x2="325.24" y2="304.3" stroke="#333" stroke-width="0.45"/>
<line x1="325.72" y1="301.6" x2="325.72" y2="304.3" stroke="#333" stroke-width="0.45"/>
<line x1="326.15" y1="301.6" x2="326.15" y2="304.3" stroke="#000" stroke-width="0.7"/>
<line x1="328.97" y1="301.6" x2="328.97" y2="304.3" stroke="#333" stroke-width="0.45"/>
<line x1="330.63" y1="301.6" x2="330.63" y2="304.3" stroke="#333" stroke-width="0.45"/>
<line x1="331.8" y1="301.6" x2="331.8" y2="304.3" stroke="#333" stroke-width="0.45"/>
<line x1="332.71" y1="301.6" x2="332.71" y2="304.3" stroke="#333" stroke-width="0.45"/>
<line x1="333.45" y1="301.6" x2="333.45" y2="304.3" stroke="#333" stroke-width="0.45"/>
<line x1="334.08" y1="301.6" x2="334.08" y2="304.3" stroke="#333" stroke-width="0.45"/>
<line x1="334.63" y1="301.6" x2="334.63" y2="304.3" stroke="#333" stroke-width="0.45"/>
<line x1="335.11" y1="301.6" x2="335.11" y2="304.3" stroke="#333" stroke-width="0.45"/>
<line x1="335.54" y1="301.6" x2="335.54" y2="304.3" stroke="#000" stroke-width="0.7"/>
<line x1="338.36" y1="301.6" x2="338.36" y2="304.3" stroke="#333" stroke-width="0.45"/>
<line x1="340.01" y1="301.6" x2="340.01" y2="304.3" stroke="#333" stroke-width="0.45"/>
<line x1="341.19" y1="301.6" x2="341.19" y2="304.3" stroke="#333" stroke-width="0.45"/>
<line x1="342.1" y1="301.6" x2="342.1" y2="304.3" stroke="#333" stroke-width="0.45"/>
<line x1="342.84" y1="301.6" x2="342.84" y2="304.3" stroke="#333" stroke-width="0.45"/>
<line x1="343.47" y1="301.6" x2="343.47" y2="304.3" stroke="#333" stroke-width="0.45"/>
<line x1="344.01" y1="301.6" x2="344.01" y2="304.3" stroke="#333" stroke-width="0.45"/>
<line x1="344.49" y1="301.6" x2="344.49" y2="304.3" stroke="#333" stroke-width="0.45"/>
<line x1="344.92" y1="301.6" x2="344.92" y2="304.3" stroke="#000" stroke-width="0.7"/>
<text x="282.7" y="303.3" font-size="4.6" text-anchor="end" fill="#555">10<tspan font-size="3" dy="-1.7">1</tspan></text>
<text x="289.2" y="311.3" font-size="4.6" text-anchor="middle" fill="#555">10<tspan font-size="3" dy="-1.7">1</tspan></text>
<text x="282.7" y="294" font-size="4.6" text-anchor="end" fill="#555">10<tspan font-size="3" dy="-1.7">2</tspan></text>
<text x="298.59" y="311.3" font-size="4.6" text-anchor="middle" fill="#555">10<tspan font-size="3" dy="-1.7">2</tspan></text>
<text x="282.7" y="284.7" font-size="4.6" text-anchor="end" fill="#555">10<tspan font-size="3" dy="-1.7">3</tspan></text>
<text x="307.97" y="311.3" font-size="4.6" text-anchor="middle" fill="#555">10<tspan font-size="3" dy="-1.7">3</tspan></text>
<text x="282.7" y="275.4" font-size="4.6" text-anchor="end" fill="#555">10<tspan font-size="3" dy="-1.7">4</tspan></text>
<text x="317.36" y="311.3" font-size="4.6" text-anchor="middle" fill="#555">10<tspan font-size="3" dy="-1.7">4</tspan></text>
<text x="282.7" y="266.1" font-size="4.6" text-anchor="end" fill="#555">10<tspan font-size="3" dy="-1.7">5</tspan></text>
<text x="326.75" y="311.3" font-size="4.6" text-anchor="middle" fill="#555">10<tspan font-size="3" dy="-1.7">5</tspan></text>
<text x="282.7" y="256.8" font-size="4.6" text-anchor="end" fill="#555">10<tspan font-size="3" dy="-1.7">6</tspan></text>
<text x="336.14" y="311.3" font-size="4.6" text-anchor="middle" fill="#555">10<tspan font-size="3" dy="-1.7">6</tspan></text>
<text x="282.7" y="246.5" font-size="4.6" text-anchor="end" fill="#555">10<tspan font-size="3" dy="-1.7">7.2</tspan></text>
<text x="347.4" y="311.3" font-size="4.6" text-anchor="middle" fill="#555">10<tspan font-size="3" dy="-1.7">7.2</tspan></text>
<text x="317.7" y="237.9" font-size="8.6" text-anchor="middle" textLength="17.3" lengthAdjust="spacingAndGlyphs">TKO</text>
<polygon points="327,276 330.5,274.8 333,277 333,282 332.3,287 330.5,291.5 327,293.8 323,293.5 321,291 320.7,286 322.5,281 324.5,278" fill="url(#gB)" filter="url(#bl)"/>
<path d="M334.7 273.0h.8m-6.8 10h.8m-3.4 1.7h.8m-4.9-.1h.8m5.2-.6h.8m-1.8-1.5h.8m-3.1 1.3h.8m3.1 .8h.8m.4 .2h.8m-4.8 8.7h.8m2.4-10.2h.8m-3.7 5.2h.8m5.5-4h.8m-7.7 6.3h.8m-1.3-6.5h.8m3.1 4.4h.8m-3 .5h.8m-8.7 1.7h.8m6.5-13.4h.8m.3 11.8h.8m-1.1-8.9h.8m-.5 5.1h.8m2.1 4h.8m-4.3 1.9h.8m0-10.2h.8m-.1 7.5h.8m-1.7-6.8h.8m1.9-8.6h.8m-2.3 15h.8m-6.4-2.2h.8m.3 3.5h.8m-2.1-8.4h.8m4.5 10.4h.8m-6.8-8.3h.8m5.8-.5h.8m3-3h.8m-4.2 .8h.8m1.1 5.1h.8m-3.9-8.5h.8m2.3 12.4h.8m-3.6 1.9h.8m-.2-8.9h.8m-3.7-.8h.8m5.5-3.3h.8m-7 5.7h.8m.5 4.5h.8m-2.5-11.6h.8m-.2 14.8h.8m2.1-5h.8m-3.7 .4h.8m-1.1 2.6h.8m-1.6-3.4h.8m.6 2h.8m-1.7 10.1h.8m3.4-5.3h.8m-8.3-9.2h.8m2.1 4.4h.8m-5.7 3.2h.8m10.1-12.4h.8m-6.5 2.5h.8m.5 7.2h.8m5.2-4.2h.8m-4.5 1.8h.8m1.3 2.9h.8m-.2-9.1h.8m-5.1 1.3h.8m2.3 7.4h.8m-4.5-5.6h.8m1.5-1.2h.8m-5.6 5.9h.8m8.7-3.6h.8m-7.8-4.7h.8m-4.4 8.5h.8m5.4-2.6h.8m-2.3 .6h.8m.2-8.2h.8m-3.8 8.2h.8m-1.1-3h.8m-1 .7h.8m3.6-.3h.8m-4.5 6.1h.8m.4 4.4h.8m-7.1-4.2h.8m4-3.6h.8m1.8 4.7h.8m.5-4.6h.8m1.1-2.2h.8m-6.3 5.4h.8m-3.1 6.8h.8m3.3 .1h.8m-1.2-12.8h.8m-1.3 5.6h.8m-2.5-1.8h.8m-.4 6.2h.8m-2-2.9h.8m1.1-10h.8m-.8-1.2h.8m-.6 11.2h.8m-.4-2.1h.8m3.4-1.7h.8m-4.1-2.8h.8m-6.4 5.2h.8m-1.1-.5h.8m3.3 2.3h.8m.8-9.7h.8m.1 1.3h.8m-2.7 3h.8m-.5-1.1h.8m-2.6 0h.8m-4.2 .1h.8m.5 6.4h.8m8.3-15.4h.8m-5.3 9.2h.8m-4.5 3.3h.8m2.8-11.5h.8m-1.8 8.1h.8m1.2-5.5h.8m-1.3 9.9h.8m-4.1-7h.8m1.9 .5h.8m3.2 3.8h.8m-7-4.9h.8m-1.1 15.4h.8m.8-10.9h.8m1.2-.8h.8m4.2-2.5h.8m-5.4 3.5h.8m.1-6.7h.8m1.2 5.3h.8m-4.6-4.1h.8m-4.1 7.5h.8m3.5 1h.8m-.2-.2h.8m-4 .6h.8m1.5-4.7h.8m-1.7 6.9h.8m-.6-8.2h.8m-1.6 11.3h.8m-1.4-10h.8m-1.8 6.6h.8m-4.4-4.3h.8m8.1-5.9h.8m-1.2 6.8h.8m-5.8-1.7h.8m-2.7-3.8h.8m8.2-1.7h.8m-1.4 4.1h.8m-3.2 .6h.8m-8.6-3.1h.8m6-2.9h.8m-6.1 7.6h.8m2.8-10.3h.8m-3.2 12.8h.8m-.3 .4h.8m5.2-4.5h.8m-6.5-6.7h.8m.1 10.9h.8m.3-1.7h.8m-2.4-1.2h.8m-.3-3.1h.8m-1.9-6.3h.8m.9 2.4h.8m-3.6 8.9h.8m-.6 11.2h.8m5.1-17.8h.8m-2.1 5h.8m-5.3 3.7h.8m2.7-20.8h.8m1.1 12.2h.8m1-.1h.8m-9.7 10.9h.8m.7-6.7h.8m5.8-.4h.8m-4.7-.1h.8m2.4-4.5h.8m-2.6 6.9h.8m4.5-4.6h.8m-10.3 5.4h.8m1-2.3h.8m-.2 4.4h.8m-1.7-6.3h.8m-5.1-4h.8m9.7 1.1h.8m-6.1-2.7h.8m1.2 7h.8m-5.8 2.4h.8m2.9 .5h.8m-4 4.9h.8m3.6-9.3h.8m-3.1-.6h.8m2.8-.1h.8m-1 4.2h.8m-.3 1.2h.8m-2.1-13.6h.8m-2.3 13.4h.8m-.9-1.1h.8m-1.6-4.7h.8m-3.6 8.7h.8m3.7-9.3h.8m-4.9 1.7h.8m5.8 3.1h.8m-7.3 4.8h.8m5.2-2.2h.8m-2.6 .9h.8m-1.1-1.9h.8m-4.9 3.6h.8m1.4 2.6h.8m-5.6-6.6h.8m8-5.2h.8m-3.1 5.4h.8m.7-6.4h.8m-4.1 7.8h.8m3.7-4.6h.8m-4 .5h.8m2.8-6.3h.8m-8 5.9h.8m.4-3.5h.8m1.4 5.3h.8m-4.1 1.6h.8m-2.4-1.3h.8m1.3-9.1h.8m4.2 4.4h.8m-4.5-.2h.8m2.1 1.9h.8m-3 5.6h.8m-1.3-7.7h.8m-1.7 8.2h.8m3 .6h.8m-2.2-7.2h.8m1.8-1.2h.8m-1.9 5.6h.8m-4.1-4h.8m-.9 9.1h.8m7.9-9.2h.8m-5.5-10.9h.8m-2.4 11.4h.8m-4.8 3.9h.8m-1.2-5h.8m4.6-5.1h.8m-1 11.5h.8m-4.5-12.3h.8m3.2 6.8h.8m-5.3-1.3h.8m1.9 .8h.8m1.2 2.6h.8m.7 5h.8m-3.3-1.5h.8m1.2-1.9h.8m-7.6 .8h.8m1.9 3.8h.8m.3-5.5h.8m-1.3 5.8h.8m.6-9.7h.8m-.3-.9h.8m-1.6 2.2h.8m-2.2 9.6h.8m-.9-9.4h.8m-.8 3.2h.8m-2.2-6.9h.8m1.1 6.2h.8m.1-5.2h.8m-3.8 5.1h.8m5.3-1h.8m-4.1 .6h.8m-3.1-3.8h.8m.4 3.1h.8m1.2-7.6h.8m-.4 14.6h.8m-3.3-6.5h.8m.3 1.9h.8m-6.1 4.2h.8m2.1-1.8h.8m2.1-8.2h.8m-2.5 6.4h.8m-1.5-6.4h.8m1.4-6.7h.8m1.7 11.5h.8m-4.7 2.9h.8m-2.1-6.2h.8m5.2 5.3h.8m-7.2-21.6h.8m-1.7 22h.8m1.9-6.4h.8m2.6-3.3h.8m-3.4 8.4h.8m.2-2h.8m-3.6 .6h.8m-1.1 3.9h.8m8.8-10.2h.8m-13.4 1.6h.8m4.5 7.4h.8m2.7-9.2h.8m-7.5 10.2h.8m-1.4-.8h.8m1.7-1.7h.8m1.6 .1h.8m1.1-8.8h.8m-3.1 5h.8m-1.8 6.1h.8m-.6-9.8h.8m-2.3 2h.8m3.5-2.5h.8m-.8 5.6h.8m-2.9-8.2h.8m-1.4 10.2h.8m-6.5 2.5h.8m8.9-4.3h.8m-5.7 10.4h.8m4.1-16.6h.8m-4.7 3.7h.8m.8-11h.8m0 8.6h.8m-2.8 2.5h.8m1.2-.8h.8m-5.9 4.2h.8m5.7-4.3h.8m-1.4 2.9h.8m-6.9 6.3h.8m-1.1-2.5h.8m.6-2.8h.8m-1.6-6.5h.8m4.3 5.1h.8m-2.9-3.1h.8m1.1-4.8h.8m-6 6.2h.8m.4-2.7h.8m.7 2.8h.8m-2.8 9h.8m2.8-2.2h.8m-1.9-8.6h.8m-4.7 .8h.8m-2.2-1.2h.8m4.6 11h.8m2-12.4h.8m-2.1 .4h.8m-.6 3.3h.8m-3.1 13.5h.8m-.4-1.2h.8m-.4-13.3h.8m.4 10.2h.8m-4.2-8.2h.8m-2.9-1.4h.8m5.2 .6h.8m-3.4-6.6h.8m-.4 11h.8m.3-2.7h.8m-7 7.5h.8m4.1-9.5h.8m3-10.1h.8m-4.7 10.1h.8m-1 7.4h.8m2.4-15.9h.8m-4.8 10.2h.8m1.8-7.4h.8m-7.1 9.1h.8m4.9-2.8h.8m-7.8 9h.8m-1.9-10.7h.8m12 1h.8m-4.8-5.1h.8m2.3-.6h.8m-5 7.2h.8m-4.8 3.7h.8m-.4-7.8h.8m2.6 1.3h.8m-.7 6.7h.8m-1.5-7.3h.8m-1.5 .9h.8m2.5 .7h.8m-2 .6h.8m-4.9 4.8h.8m-.5-4.3h.8m6.7-5.5h.8m-4.3-2.4h.8m-2.1 .4h.8m-1.3 4.8h.8m-1.4 10.6h.8m.4-4.6h.8m-.8-4.5h.8m-1.5-7.8h.8m-1.5 17.1h.8m2.2-10.8h.8m2.2 .5h.8m-6-3.9h.8m-2.6 4.9h.8m6.9 .2h.8m-8.4-2h.8m2.3-5.6h.8m-2 12.1h.8m-.2-.5h.8m-2.9-11.5h.8m3.3 14h.8m-7.3-4.5h.8m3 1.7h.8m.6-5.2h.8m-1.5 3.3h.8m.4-10.1h.8m-9.4 5.3h.8m1.8 5.3h.8m5.3 0h.8m-3.4-.9h.8m3.9-4h.8m-2.8 7.1h.8m-3.1 3.8h.8m-2.9-2.6h.8m.2-8.5h.8m-2.3 6h.8m-.1-1.9h.8m-2.2 5h.8m7.7-4.2h.8m-1.6 1.7h.8m.9-2.3h.8m-11.7 7h.8m5.2-12.7h.8m-1.7-2.9h.8m0 2.7h.8m1.9 8.7h.8m-7-10.8h.8m2.4-2.1h.8m-1.3 9.4h.8m-2-2.5h.8m.7 9.8h.8m3-6.9h.8m-1.7-3.9h.8m-1.8-1.1h.8m.3-1.4h.8m-6.3 6.2h.8m4.4-7.2h.8m-5 7.9h.8m2-4.9h.8m-1.6 2.9h.8m1.8 4.1h.8m-5.4-13.8h.8m-.1 16.9h.8m-.4-1.5h.8m-.4-11.2h.8m1 7.3h.8m.4-7.4h.8m-2.8 3.8h.8m.8 .2h.8m-4.5 0h.8m3.5 3h.8m-5.1-5.2h.8m-3.7 12.4h.8m-.8-11.6h.8m3.8 10.2h.8m-2.5-2h.8m1.4 1h.8m-3.3 3.4h.8m-.2-.6h.8m-3.7-2.9h.8m1-12.2h.8m3.2 3.4h.8m-.7-1.2h.8m1.2 5.4h.8m-8.1 .9h.8m5.3-4.7h.8m-4.2 14.1h.8m1.9-10.3h.8m-5 2.9h.8m0-18h.8m-.4 9.8h.8m4.4 6.1h.8m-6.7-6.5h.8m2.7 1.6h.8m-4.2 3.7h.8m.7 1h.8m-1.8 6h.8m6-14.7h.8m-.1 8.9h.8m-3.5-4.3h.8m-4 4.7h.8m-2 3.2h.8m2.3-9.3h.8m-4.4 8.7h.8m2.3-5.3h.8m-3.5 .9h.8m-1.9-5.7h.8m5.3 4.5h.8m-4.3-1.8h.8m.1 12.5h.8m-3.6-6.2h.8m-3.3 6.3h.8m5.9-13h.8m-1.1 6h.8m-2.9 0h.8m-2.8-4.5h.8m2.1 2.4h.8m-6.8 10.4h.8m3.5-12.9h.8m-3.2 6.2h.8m3.9-2.2h.8m.5-8.8h.8m-4.9 5.2h.8m-.7 4.8h.8m-3-.8h.8m3.2 2.6h.8m1-18.9h.8m-7.5 18.4h.8m1.2-9.1h.8m-6.5 11.3h.8m8.5-10.5h.8m-3.2 3.9h.8m-3.2-.9h.8m2 4.1h.8m2.3-2.6h.8m-5.6 1.8h.8m.2-8.2h.8m3 4.3h.8m-4.4 5.2h.8m-3.9-.1h.8m3.9-3.7h.8m-.4-3.3h.8m-8 2.4h.8m1.6 5.7h.8m3.5-7h.8m-3.1 9.5h.8m2.9-5h.8m-2-3.2h.8m-3.1 4.3h.8m-.5-1.4h.8m-1.6-9.9h.8m-3.4 6.2h.8m5.6 8.1h.8m-4.4-13.7h.8m2.1 10.1h.8m-7 3h.8m3 1.3h.8m0-2.2h.8m.8-9.2h.8m-2.5 1.4h.8m2.3-1.6h.8m-8.5 8.4h.8m5.5 3.8h.8m1.7-14.8h.8m-6.3 4.8h.8m2.4-8h.8m-3 12.1h.8m-3.1-.8h.8m4.9-.3h.8m-2.1 4.8h.8m-1.9-3.1h.8m-3.6 4.3h.8m.7-9.7h.8m2.3-.2h.8m-3.1 8.9h.8m-.9-4.7h.8m.8 3.2h.8m-5.3-10.3h.8m5.1 8.5h.8m-8.1-8.7h.8m4.4 1.9h.8m-.6 5.3h.8m.3-6.3h.8m-3.2 15.7h.8m-3.9-3.2h.8m4.4-3.4h.8m-1.9-9h.8m-4.7 9.6h.8m3.7 2.3h.8m-.6-1.6h.8m-2.5-10.5h.8m-.7 8.5h.8m.7-10.1h.8m-2.4 .2h.8m.5 2.2h.8m-2.8 6.8h.8m-.9 5.3h.8m-.9-17.8h.8m1.3 17.9h.8m1.5-5.5h.8m-3-.8h.8m-4.9-3.5h.8m3.8 0h.8m3.8-4.9h.8m-9.3 13.3h.8m.8-11.2h.8m-3.1 2h.8m5.6 5.7h.8m-2.6-4.6h.8m-.5 3.1h.8m-4.8-2.8h.8m.6 8.1h.8m-.9-3.3h.8m5.8-6.5h.8m-10.9 8.9h.8m4.6-5.4h.8m-1.1-1.2h.8m-.1 0h.8m.7-4.2h.8m-6.2 6.5h.8m-.4 2.9h.8m1.4-6.2h.8m-.1 0h.8m-4.9-3h.8m.6 3.3h.8m.3 6.9h.8m-.4 4.4h.8m3.7-21.2h.8m-3.8 1.4h.8m-2.6-5.6h.8m.2-.5h.8m-.2 4.9h.8m3 .9h.8m-2.5-5.2h.8m-2 6.1h.8" stroke="#000" stroke-width="0.8" fill="none" filter="url(#bl)"/>
<polygon points="322.8,258.3 344.5,256.4 334.2,283.6 322.8,283.6" fill="none" stroke="#cc3d68" stroke-width="0.6" stroke-dasharray="1.5 1.1"/>
<text x="322.6" y="250.7" font-size="4.5" fill="#cc3d68">P1</text>
<text x="322.6" y="256" font-size="4.5" fill="#cc3d68">28.0%</text>
<line x1="33.3" y1="302.7" x2="33.3" y2="245" stroke="#000" stroke-width="1.1"/>
<polygon points="33.3,241.1 35.8,247.0 33.3,245.8 30.8,247.0" fill="#000"/>
<line x1="47.5" y1="315.2" x2="347" y2="315.2" stroke="#000" stroke-width="1.1"/>
<polygon points="350.6,315.2 345.2,312.9 346.3,315.2 345.2,317.5" fill="#000"/>
<text x="197.2" y="327.3" font-size="10.3" text-anchor="middle" textLength="20.6" lengthAdjust="spacingAndGlyphs">FSC-H</text>
<text x="366.6" y="228.2" font-size="12" font-weight="bold" stroke="#000" stroke-width="0.35">C</text>
<rect x="413.1" y="297.6" width="17" height="12.7" fill="#512663"/>
<rect x="438.95" y="297.9" width="17" height="12.4" fill="#2e4c7e"/>
<rect x="464.8" y="256.3" width="17" height="54" fill="#6ba642"/>
<rect x="490.65" y="280.9" width="17" height="29.4" fill="#a3002b"/>
<circle cx="415.8" cy="296.6" r="2.45" fill="#fff" stroke="#000" stroke-width="1"/>
<circle cx="419.1" cy="297.1" r="2.45" fill="#fff" stroke="#000" stroke-width="1"/>
<circle cx="422.5" cy="295.1" r="2.45" fill="#fff" stroke="#000" stroke-width="1"/>
<circle cx="422" cy="297.5" r="2.45" fill="#fff" stroke="#000" stroke-width="1"/>
<circle cx="424.9" cy="298.5" r="2.45" fill="#fff" stroke="#000" stroke-width="1"/>
<circle cx="427.3" cy="299.9" r="2.45" fill="#fff" stroke="#000" stroke-width="1"/>
<circle cx="441.7" cy="295.6" r="2.45" fill="#fff" stroke="#000" stroke-width="1"/>
<circle cx="445.1" cy="298" r="2.45" fill="#fff" stroke="#000" stroke-width="1"/>
<circle cx="448" cy="294.65" r="2.45" fill="#fff" stroke="#000" stroke-width="1"/>
<circle cx="449.9" cy="297.5" r="2.45" fill="#fff" stroke="#000" stroke-width="1"/>
<circle cx="451.35" cy="298" r="2.45" fill="#fff" stroke="#000" stroke-width="1"/>
<circle cx="453.75" cy="299" r="2.45" fill="#fff" stroke="#000" stroke-width="1"/>
<circle cx="467.8" cy="255.9" r="2.45" fill="#fff" stroke="#000" stroke-width="1"/>
<circle cx="471.1" cy="253" r="2.45" fill="#fff" stroke="#000" stroke-width="1"/>
<circle cx="475" cy="250.1" r="2.45" fill="#fff" stroke="#000" stroke-width="1"/>
<circle cx="471.6" cy="257.3" r="2.45" fill="#fff" stroke="#000" stroke-width="1"/>
<circle cx="475" cy="258.75" r="2.45" fill="#fff" stroke="#000" stroke-width="1"/>
<circle cx="478.3" cy="263.1" r="2.45" fill="#fff" stroke="#000" stroke-width="1"/>
<circle cx="499" cy="266.4" r="2.45" fill="#fff" stroke="#000" stroke-width="1"/>
<circle cx="493.7" cy="280.4" r="2.45" fill="#fff" stroke="#000" stroke-width="1"/>
<circle cx="496.1" cy="281.8" r="2.45" fill="#fff" stroke="#000" stroke-width="1"/>
<circle cx="499" cy="283.75" r="2.45" fill="#fff" stroke="#000" stroke-width="1"/>
<circle cx="501.4" cy="285.7" r="2.45" fill="#fff" stroke="#000" stroke-width="1"/>
<circle cx="504.3" cy="286.2" r="2.45" fill="#fff" stroke="#000" stroke-width="1"/>
<line x1="473.3" y1="256.3" x2="473.3" y2="252" stroke="#000" stroke-width="1"/>
<line x1="469.2" y1="252" x2="477.4" y2="252" stroke="#000" stroke-width="1"/>
<line x1="499.15" y1="280.9" x2="499.15" y2="273.65" stroke="#000" stroke-width="1"/>
<line x1="495.05" y1="273.65" x2="503.25" y2="273.65" stroke="#000" stroke-width="1"/>
<line x1="408.6" y1="238.2" x2="408.6" y2="310.9" stroke="#000" stroke-width="1.2"/>
<line x1="408" y1="310.3" x2="513.3" y2="310.3" stroke="#000" stroke-width="1.2"/>
<line x1="405.6" y1="310.3" x2="408.6" y2="310.3" stroke="#000" stroke-width="1"/>
<text x="402.4" y="312.57" font-size="8.2" text-anchor="end">0</text>
<line x1="405.6" y1="293.02" x2="408.6" y2="293.02" stroke="#000" stroke-width="1"/>
<text x="402.4" y="295.29" font-size="8.2" text-anchor="end">20</text>
<line x1="405.6" y1="275.75" x2="408.6" y2="275.75" stroke="#000" stroke-width="1"/>
<text x="402.4" y="278.02" font-size="8.2" text-anchor="end">40</text>
<line x1="405.6" y1="258.48" x2="408.6" y2="258.48" stroke="#000" stroke-width="1"/>
<text x="402.4" y="260.75" font-size="8.2" text-anchor="end">60</text>
<line x1="405.6" y1="241.2" x2="408.6" y2="241.2" stroke="#000" stroke-width="1"/>
<text x="402.4" y="243.47" font-size="8.2" text-anchor="end">80</text>
<line x1="421.6" y1="310.3" x2="421.6" y2="313.5" stroke="#000" stroke-width="0.9"/>
<text x="421.6" y="323.95" font-size="8.8" text-anchor="middle" textLength="28.6" lengthAdjust="spacingAndGlyphs">Control</text>
<line x1="447.45" y1="310.3" x2="447.45" y2="313.5" stroke="#000" stroke-width="0.9"/>
<text x="447.45" y="323.95" font-size="8.8" text-anchor="middle" textLength="17.9" lengthAdjust="spacingAndGlyphs">CKO</text>
<line x1="473.3" y1="310.3" x2="473.3" y2="313.5" stroke="#000" stroke-width="0.9"/>
<text x="473.3" y="323.95" font-size="8.8" text-anchor="middle" textLength="18.1" lengthAdjust="spacingAndGlyphs">DKO</text>
<line x1="499.15" y1="310.3" x2="499.15" y2="313.5" stroke="#000" stroke-width="0.9"/>
<text x="499.15" y="323.95" font-size="8.8" text-anchor="middle" textLength="17" lengthAdjust="spacingAndGlyphs">TKO</text>
<line x1="465.2" y1="237.3" x2="509" y2="237.3" stroke="#3a3a3a" stroke-width="1.1"/>
<text x="487.1" y="237.23" font-size="6.4" text-anchor="middle" font-weight="bold" textLength="10.05" lengthAdjust="spacingAndGlyphs">***</text>
<text x="473.3" y="247.63" font-size="6.4" text-anchor="middle" font-weight="bold" textLength="10.05" lengthAdjust="spacingAndGlyphs">***</text>
<text x="499.15" y="261.53" font-size="6.4" text-anchor="middle" font-weight="bold" textLength="10.05" lengthAdjust="spacingAndGlyphs">***</text>
<text x="7.1" y="355.3" font-size="12" font-weight="bold" stroke="#000" stroke-width="0.35">D</text>
<rect x="52.2" y="370.2" width="58.2" height="58.4" fill="none" stroke="#555" stroke-width="0.8"/>
<line x1="48.9" y1="428.6" x2="52.2" y2="428.6" stroke="#000" stroke-width="0.7"/>
<line x1="48.9" y1="425.8" x2="52.2" y2="425.8" stroke="#333" stroke-width="0.45"/>
<line x1="48.9" y1="424.16" x2="52.2" y2="424.16" stroke="#333" stroke-width="0.45"/>
<line x1="48.9" y1="423" x2="52.2" y2="423" stroke="#333" stroke-width="0.45"/>
<line x1="48.9" y1="422.1" x2="52.2" y2="422.1" stroke="#333" stroke-width="0.45"/>
<line x1="48.9" y1="421.36" x2="52.2" y2="421.36" stroke="#333" stroke-width="0.45"/>
<line x1="48.9" y1="420.74" x2="52.2" y2="420.74" stroke="#333" stroke-width="0.45"/>
<line x1="48.9" y1="420.2" x2="52.2" y2="420.2" stroke="#333" stroke-width="0.45"/>
<line x1="48.9" y1="419.73" x2="52.2" y2="419.73" stroke="#333" stroke-width="0.45"/>
<line x1="48.9" y1="419.3" x2="52.2" y2="419.3" stroke="#000" stroke-width="0.7"/>
<line x1="48.9" y1="416.5" x2="52.2" y2="416.5" stroke="#333" stroke-width="0.45"/>
<line x1="48.9" y1="414.86" x2="52.2" y2="414.86" stroke="#333" stroke-width="0.45"/>
<line x1="48.9" y1="413.7" x2="52.2" y2="413.7" stroke="#333" stroke-width="0.45"/>
<line x1="48.9" y1="412.8" x2="52.2" y2="412.8" stroke="#333" stroke-width="0.45"/>
<line x1="48.9" y1="412.06" x2="52.2" y2="412.06" stroke="#333" stroke-width="0.45"/>
<line x1="48.9" y1="411.44" x2="52.2" y2="411.44" stroke="#333" stroke-width="0.45"/>
<line x1="48.9" y1="410.9" x2="52.2" y2="410.9" stroke="#333" stroke-width="0.45"/>
<line x1="48.9" y1="410.43" x2="52.2" y2="410.43" stroke="#333" stroke-width="0.45"/>
<line x1="48.9" y1="410" x2="52.2" y2="410" stroke="#000" stroke-width="0.7"/>
<line x1="48.9" y1="407.2" x2="52.2" y2="407.2" stroke="#333" stroke-width="0.45"/>
<line x1="48.9" y1="405.56" x2="52.2" y2="405.56" stroke="#333" stroke-width="0.45"/>
<line x1="48.9" y1="404.4" x2="52.2" y2="404.4" stroke="#333" stroke-width="0.45"/>
<line x1="48.9" y1="403.5" x2="52.2" y2="403.5" stroke="#333" stroke-width="0.45"/>
<line x1="48.9" y1="402.76" x2="52.2" y2="402.76" stroke="#333" stroke-width="0.45"/>
<line x1="48.9" y1="402.14" x2="52.2" y2="402.14" stroke="#333" stroke-width="0.45"/>
<line x1="48.9" y1="401.6" x2="52.2" y2="401.6" stroke="#333" stroke-width="0.45"/>
<line x1="48.9" y1="401.13" x2="52.2" y2="401.13" stroke="#333" stroke-width="0.45"/>
<line x1="48.9" y1="400.7" x2="52.2" y2="400.7" stroke="#000" stroke-width="0.7"/>
<line x1="48.9" y1="397.9" x2="52.2" y2="397.9" stroke="#333" stroke-width="0.45"/>
<line x1="48.9" y1="396.26" x2="52.2" y2="396.26" stroke="#333" stroke-width="0.45"/>
<line x1="48.9" y1="395.1" x2="52.2" y2="395.1" stroke="#333" stroke-width="0.45"/>
<line x1="48.9" y1="394.2" x2="52.2" y2="394.2" stroke="#333" stroke-width="0.45"/>
<line x1="48.9" y1="393.46" x2="52.2" y2="393.46" stroke="#333" stroke-width="0.45"/>
<line x1="48.9" y1="392.84" x2="52.2" y2="392.84" stroke="#333" stroke-width="0.45"/>
<line x1="48.9" y1="392.3" x2="52.2" y2="392.3" stroke="#333" stroke-width="0.45"/>
<line x1="48.9" y1="391.83" x2="52.2" y2="391.83" stroke="#333" stroke-width="0.45"/>
<line x1="48.9" y1="391.4" x2="52.2" y2="391.4" stroke="#000" stroke-width="0.7"/>
<line x1="48.9" y1="388.6" x2="52.2" y2="388.6" stroke="#333" stroke-width="0.45"/>
<line x1="48.9" y1="386.96" x2="52.2" y2="386.96" stroke="#333" stroke-width="0.45"/>
<line x1="48.9" y1="385.8" x2="52.2" y2="385.8" stroke="#333" stroke-width="0.45"/>
<line x1="48.9" y1="384.9" x2="52.2" y2="384.9" stroke="#333" stroke-width="0.45"/>
<line x1="48.9" y1="384.16" x2="52.2" y2="384.16" stroke="#333" stroke-width="0.45"/>
<line x1="48.9" y1="383.54" x2="52.2" y2="383.54" stroke="#333" stroke-width="0.45"/>
<line x1="48.9" y1="383" x2="52.2" y2="383" stroke="#333" stroke-width="0.45"/>
<line x1="48.9" y1="382.53" x2="52.2" y2="382.53" stroke="#333" stroke-width="0.45"/>
<line x1="48.9" y1="382.1" x2="52.2" y2="382.1" stroke="#000" stroke-width="0.7"/>
<line x1="48.9" y1="379.3" x2="52.2" y2="379.3" stroke="#333" stroke-width="0.45"/>
<line x1="48.9" y1="377.66" x2="52.2" y2="377.66" stroke="#333" stroke-width="0.45"/>
<line x1="48.9" y1="376.5" x2="52.2" y2="376.5" stroke="#333" stroke-width="0.45"/>
<line x1="48.9" y1="375.6" x2="52.2" y2="375.6" stroke="#333" stroke-width="0.45"/>
<line x1="48.9" y1="374.86" x2="52.2" y2="374.86" stroke="#333" stroke-width="0.45"/>
<line x1="48.9" y1="374.24" x2="52.2" y2="374.24" stroke="#333" stroke-width="0.45"/>
<line x1="48.9" y1="373.7" x2="52.2" y2="373.7" stroke="#333" stroke-width="0.45"/>
<line x1="48.9" y1="373.23" x2="52.2" y2="373.23" stroke="#333" stroke-width="0.45"/>
<line x1="48.9" y1="372.8" x2="52.2" y2="372.8" stroke="#000" stroke-width="0.7"/>
<line x1="52.2" y1="428.6" x2="52.2" y2="431.3" stroke="#000" stroke-width="0.7"/>
<line x1="55.03" y1="428.6" x2="55.03" y2="431.3" stroke="#333" stroke-width="0.45"/>
<line x1="56.68" y1="428.6" x2="56.68" y2="431.3" stroke="#333" stroke-width="0.45"/>
<line x1="57.85" y1="428.6" x2="57.85" y2="431.3" stroke="#333" stroke-width="0.45"/>
<line x1="58.76" y1="428.6" x2="58.76" y2="431.3" stroke="#333" stroke-width="0.45"/>
<line x1="59.5" y1="428.6" x2="59.5" y2="431.3" stroke="#333" stroke-width="0.45"/>
<line x1="60.13" y1="428.6" x2="60.13" y2="431.3" stroke="#333" stroke-width="0.45"/>
<line x1="60.68" y1="428.6" x2="60.68" y2="431.3" stroke="#333" stroke-width="0.45"/>
<line x1="61.16" y1="428.6" x2="61.16" y2="431.3" stroke="#333" stroke-width="0.45"/>
<line x1="61.59" y1="428.6" x2="61.59" y2="431.3" stroke="#000" stroke-width="0.7"/>
<line x1="64.41" y1="428.6" x2="64.41" y2="431.3" stroke="#333" stroke-width="0.45"/>
<line x1="66.07" y1="428.6" x2="66.07" y2="431.3" stroke="#333" stroke-width="0.45"/>
<line x1="67.24" y1="428.6" x2="67.24" y2="431.3" stroke="#333" stroke-width="0.45"/>
<line x1="68.15" y1="428.6" x2="68.15" y2="431.3" stroke="#333" stroke-width="0.45"/>
<line x1="68.89" y1="428.6" x2="68.89" y2="431.3" stroke="#333" stroke-width="0.45"/>
<line x1="69.52" y1="428.6" x2="69.52" y2="431.3" stroke="#333" stroke-width="0.45"/>
<line x1="70.06" y1="428.6" x2="70.06" y2="431.3" stroke="#333" stroke-width="0.45"/>
<line x1="70.54" y1="428.6" x2="70.54" y2="431.3" stroke="#333" stroke-width="0.45"/>
<line x1="70.97" y1="428.6" x2="70.97" y2="431.3" stroke="#000" stroke-width="0.7"/>
<line x1="73.8" y1="428.6" x2="73.8" y2="431.3" stroke="#333" stroke-width="0.45"/>
<line x1="75.45" y1="428.6" x2="75.45" y2="431.3" stroke="#333" stroke-width="0.45"/>
<line x1="76.63" y1="428.6" x2="76.63" y2="431.3" stroke="#333" stroke-width="0.45"/>
<line x1="77.54" y1="428.6" x2="77.54" y2="431.3" stroke="#333" stroke-width="0.45"/>
<line x1="78.28" y1="428.6" x2="78.28" y2="431.3" stroke="#333" stroke-width="0.45"/>
<line x1="78.91" y1="428.6" x2="78.91" y2="431.3" stroke="#333" stroke-width="0.45"/>
<line x1="79.45" y1="428.6" x2="79.45" y2="431.3" stroke="#333" stroke-width="0.45"/>
<line x1="79.93" y1="428.6" x2="79.93" y2="431.3" stroke="#333" stroke-width="0.45"/>
<line x1="80.36" y1="428.6" x2="80.36" y2="431.3" stroke="#000" stroke-width="0.7"/>
<line x1="83.19" y1="428.6" x2="83.19" y2="431.3" stroke="#333" stroke-width="0.45"/>
<line x1="84.84" y1="428.6" x2="84.84" y2="431.3" stroke="#333" stroke-width="0.45"/>
<line x1="86.01" y1="428.6" x2="86.01" y2="431.3" stroke="#333" stroke-width="0.45"/>
<line x1="86.92" y1="428.6" x2="86.92" y2="431.3" stroke="#333" stroke-width="0.45"/>
<line x1="87.67" y1="428.6" x2="87.67" y2="431.3" stroke="#333" stroke-width="0.45"/>
<line x1="88.29" y1="428.6" x2="88.29" y2="431.3" stroke="#333" stroke-width="0.45"/>
<line x1="88.84" y1="428.6" x2="88.84" y2="431.3" stroke="#333" stroke-width="0.45"/>
<line x1="89.32" y1="428.6" x2="89.32" y2="431.3" stroke="#333" stroke-width="0.45"/>
<line x1="89.75" y1="428.6" x2="89.75" y2="431.3" stroke="#000" stroke-width="0.7"/>
<line x1="92.57" y1="428.6" x2="92.57" y2="431.3" stroke="#333" stroke-width="0.45"/>
<line x1="94.23" y1="428.6" x2="94.23" y2="431.3" stroke="#333" stroke-width="0.45"/>
<line x1="95.4" y1="428.6" x2="95.4" y2="431.3" stroke="#333" stroke-width="0.45"/>
<line x1="96.31" y1="428.6" x2="96.31" y2="431.3" stroke="#333" stroke-width="0.45"/>
<line x1="97.05" y1="428.6" x2="97.05" y2="431.3" stroke="#333" stroke-width="0.45"/>
<line x1="97.68" y1="428.6" x2="97.68" y2="431.3" stroke="#333" stroke-width="0.45"/>
<line x1="98.23" y1="428.6" x2="98.23" y2="431.3" stroke="#333" stroke-width="0.45"/>
<line x1="98.71" y1="428.6" x2="98.71" y2="431.3" stroke="#333" stroke-width="0.45"/>
<line x1="99.14" y1="428.6" x2="99.14" y2="431.3" stroke="#000" stroke-width="0.7"/>
<line x1="101.96" y1="428.6" x2="101.96" y2="431.3" stroke="#333" stroke-width="0.45"/>
<line x1="103.61" y1="428.6" x2="103.61" y2="431.3" stroke="#333" stroke-width="0.45"/>
<line x1="104.79" y1="428.6" x2="104.79" y2="431.3" stroke="#333" stroke-width="0.45"/>
<line x1="105.7" y1="428.6" x2="105.7" y2="431.3" stroke="#333" stroke-width="0.45"/>
<line x1="106.44" y1="428.6" x2="106.44" y2="431.3" stroke="#333" stroke-width="0.45"/>
<line x1="107.07" y1="428.6" x2="107.07" y2="431.3" stroke="#333" stroke-width="0.45"/>
<line x1="107.61" y1="428.6" x2="107.61" y2="431.3" stroke="#333" stroke-width="0.45"/>
<line x1="108.09" y1="428.6" x2="108.09" y2="431.3" stroke="#333" stroke-width="0.45"/>
<line x1="108.52" y1="428.6" x2="108.52" y2="431.3" stroke="#000" stroke-width="0.7"/>
<text x="46.3" y="430.3" font-size="4.6" text-anchor="end" fill="#555">10<tspan font-size="3" dy="-1.7">1</tspan></text>
<text x="52.8" y="438.3" font-size="4.6" text-anchor="middle" fill="#555">10<tspan font-size="3" dy="-1.7">1</tspan></text>
<text x="46.3" y="421" font-size="4.6" text-anchor="end" fill="#555">10<tspan font-size="3" dy="-1.7">2</tspan></text>
<text x="62.19" y="438.3" font-size="4.6" text-anchor="middle" fill="#555">10<tspan font-size="3" dy="-1.7">2</tspan></text>
<text x="46.3" y="411.7" font-size="4.6" text-anchor="end" fill="#555">10<tspan font-size="3" dy="-1.7">3</tspan></text>
<text x="71.57" y="438.3" font-size="4.6" text-anchor="middle" fill="#555">10<tspan font-size="3" dy="-1.7">3</tspan></text>
<text x="46.3" y="402.4" font-size="4.6" text-anchor="end" fill="#555">10<tspan font-size="3" dy="-1.7">4</tspan></text>
<text x="80.96" y="438.3" font-size="4.6" text-anchor="middle" fill="#555">10<tspan font-size="3" dy="-1.7">4</tspan></text>
<text x="46.3" y="393.1" font-size="4.6" text-anchor="end" fill="#555">10<tspan font-size="3" dy="-1.7">5</tspan></text>
<text x="90.35" y="438.3" font-size="4.6" text-anchor="middle" fill="#555">10<tspan font-size="3" dy="-1.7">5</tspan></text>
<text x="46.3" y="383.8" font-size="4.6" text-anchor="end" fill="#555">10<tspan font-size="3" dy="-1.7">6</tspan></text>
<text x="99.74" y="438.3" font-size="4.6" text-anchor="middle" fill="#555">10<tspan font-size="3" dy="-1.7">6</tspan></text>
<text x="46.3" y="373.5" font-size="4.6" text-anchor="end" fill="#555">10<tspan font-size="3" dy="-1.7">7.2</tspan></text>
<text x="111" y="438.3" font-size="4.6" text-anchor="middle" fill="#555">10<tspan font-size="3" dy="-1.7">7.2</tspan></text>
<text x="81.3" y="364.9" font-size="8.6" text-anchor="middle" textLength="28.2" lengthAdjust="spacingAndGlyphs">Control</text>
<polygon points="84.2,410.8 95.6,410.6 95.3,415 94,421 92.5,425.5 90.5,427 87,426.5 85.3,422 84.1,415" fill="url(#gD)" filter="url(#bl)"/>
<path d="M86.5 417.2h.8m.2 3.8h.8m.8-.5h.8m2.5 2.8h.8m-1.9-5h.8m-4.5-1.4h.8m.4 2.9h.8m-2.7-4.1h.8m3.1-2.7h.8m-2.3 8.6h.8m-3.2-5.8h.8m-.1 6.7h.8m1-9.6h.8m-1.6 11h.8m3.4-1.5h.8m-4.5-9.4h.8m.4 6.3h.8m-1 6.6h.8m-.5-4.8h.8m.4-2.1h.8m-4.6-1.8h.8m3.5 4.7h.8m-4.5 2.5h.8m1.2-9.5h.8m.5 4.6h.8m-6.7 2.5h.8m2.2-3.5h.8m2-6.8h.8m-6.4 6.7h.8m3.8-.9h.8m-4.6-1.5h.8m1.9 6.6h.8m-4.8-10.5h.8m2.6 6.4h.8m-2.6 3.8h.8m4.3-4.4h.8m-4.2 4.3h.8m-1.1-7.5h.8m.3 1.9h.8m.4 1.5h.8m-2.3 3.9h.8m-.6-4.4h.8m-3.5 8.9h.8m5.6-12.2h.8m-7.3 7.9h.8m.6-2.1h.8m3.4 .4h.8m-3.7-2.3h.8m-.6 3.3h.8m4.6 2.5h.8m-6.6-.5h.8m.2-9.1h.8m-1.5 9.4h.8m-2.3-.2h.8m.1-3.5h.8m-3.4 7.8h.8m4.1-4.1h.8m-3.5-9.4h.8m4.2 2.9h.8m.5 2h.8m-.9-2.1h.8m-11 5.5h.8m4.3-2.7h.8m2.6-3.4h.8m-7.9-1h.8m-1.9-2.5h.8m.4 3.2h.8m1.7-.9h.8m.1 7.4h.8m-1.1-1.4h.8m-2.9-.5h.8m3.2-3.6h.8m-6.8 1.6h.8m3.7 6h.8m-2.1 .7h.8m-6.8-7.4h.8m4.9-.3h.8m-1 1.2h.8m5.7-.4h.8m-2.2 .2h.8m-4-8.6h.8m-.9 11.2h.8m-4.4-4.5h.8m0 10.2h.8m-1.2-10.7h.8m-5.9-3.2h.8m7.8 1.1h.8m-9.6 3.7h.8m7.7 2.1h.8m0-3.3h.8m6.4 .2h.8m-7.8-2.7h.8m-4-.9h.8m1.7 4.2h.8m-4.4-6h.8m3.8 10.6h.8m.1-3.4h.8m-1.2 3.7h.8m-1.4 2h.8m-2.7-4.5h.8m-4.8 7.1h.8m1.5-6.6h.8m3.3-4.2h.8m-2.8 5.6h.8m-.9-3.7h.8m-1.4-1.5h.8m-.4 4.1h.8m1.1 2.7h.8m-2-6h.8m1.6 3.3h.8m-.3-.6h.8m-2.2 .8h.8m-.2-5.1h.8m-3.3 4.3h.8m4.6-.9h.8m-4.5-.4h.8m-8.3 5.3h.8m7.4 0h.8m-6.9-3.6h.8m3.8-6.9h.8m0 3.6h.8m-.7-4h.8m-4.9 3.6h.8m-2.7 2.9h.8m7.6-.3h.8m-2.8 5.6h.8m-1-6.9h.8m-8.1 2.7h.8m3.9-3.1h.8m2.3 3.8h.8m-7.6-1.1h.8m2.9 2.3h.8m.1 .3h.8m-2.7-5h.8m-.4 .8h.8m.1 5.2h.8m-3-4.2h.8m-1.4-5.7h.8m.9-.3h.8m1.5 2.9h.8m-2.9 4.5h.8m5.4-3.7h.8m-11.2 .5h.8m5 5.8h.8m-.9-7.6h.8m2.1 7.4h.8m-4.1-3h.8m-2-2.6h.8m.7 4.3h.8m-1.4-.7h.8m2.8 5.5h.8m-4-8.6h.8m-1.3-5.8h.8m-3.3 7.5h.8m6.4 2.4h.8m-.1-5.4h.8m-6.9-.3h.8m.5 10.9h.8m-1.1-10.5h.8m.1 5.5h.8m.5 .1h.8m-5.8-6.5h.8m2.1 3.7h.8m3.9-5.2h.8m-2.9 4h.8m-.9-1.6h.8m-6.8 6.9h.8m4.3-11.8h.8m.4 3.5h.8m-3.2 3.8h.8m-4.5 4.2h.8m1.6 2h.8m2.2-4.2h.8m-1.4 5.5h.8m-4.7-10.4h.8m.3 7.3h.8m4.3-4h.8m-3.1-6.6h.8m2.8 5.4h.8m-4.8-.3h.8m.8 .3h.8m-2.4 1.2h.8m-2.7-2.6h.8m1.9 3.7h.8m.2 4.1h.8m-6.7-12.5h.8m1.7 11.8h.8m.3-11.7h.8m4.1 8.8h.8m-10.1-5.1h.8m4 1.1h.8m-1.5 4.1h.8m-.4 3.3h.8m-1.3 .3h.8m-2-10h.8m-5.4 1.1h.8m5.8 6.9h.8m-11.4-3.8h.8m6.6 2.9h.8m.6-1.6h.8m6.1-.7h.8m-6.7 3.3h.8m.6-4.5h.8m-6.5-.6h.8m-1 2.1h.8m5.9-.5h.8m3-4.6h.8m-5.1 4.5h.8m-5.5 1.7h.8m5.2 2.4h.8m-3.8-1.8h.8m-2.3 3.2h.8m6.6-5h.8m-5.5-4.6h.8m-1.4 2.6h.8m-.2-3.9h.8m3.8 6h.8m-2.8 1.2h.8m-4.9 5.4h.8m3.4-12.9h.8m-4.2 4.7h.8m-4.4 6.7h.8m-2.3-.6h.8m2.8-13.7h.8m1.6 10.4h.8m-4.3 2.2h.8m-3.2 .2h.8m6 2.5h.8m-3.7-3.4h.8m-1.4-.2h.8m1.7-.1h.8m-5.3-1.2h.8m4.1 3.9h.8m-2.9-6.4h.8m2.1 2.7h.8m-10.2-3.1h.8m9.3-.3h.8m-8.9 .1h.8m4.6-2.4h.8m-.5-.5h.8m-1.6 4.4h.8m5 1h.8m-2.3-.5h.8m-8-5.2h.8m5-1.6h.8m-7.9 9.4h.8m1.5-7.8h.8m6.5 1.1h.8m-3.9 3.1h.8m-2.2 .3h.8m1.8 5.5h.8m-6.6 .1h.8m1.4-6.4h.8m1.8-1.4h.8m-5.5 7.8h.8m.2-13.7h.8m-8.9 9.2h.8m8.6 5.3h.8m-3.9-11.1h.8m2.8 9.6h.8m3.3-4.9h.8m-6.9 .4h.8m5.7-.8h.8m-6.7 2h.8m1.1-1.3h.8m4.8 2.1h.8m-6.6-3.8h.8m-1.9 3.2h.8m2.1-4.2h.8m-4.5 1.3h.8m-2 5.2h.8m-.7-3.6h.8m4.8-4.3h.8m-6.3 3.2h.8m3.3 1.2h.8m-2.2 4.1h.8m-2.6-7.3h.8m2.8 3h.8m.1 3.6h.8m-6.9-11.9h.8m4.1 7.7h.8m-1.6-3.2h.8m.8 2.5h.8m-1.6 4.3h.8m-2.1-3.8h.8m-5.2 3h.8m-1.2-5.7h.8m7.9 .3h.8m-1.9 1.3h.8m-1.3-3.9h.8m-6.8 10.9h.8m3.6-9.5h.8m-3.3-6.6h.8m-.3 5.5h.8m-2.8 10.7h.8m.5-8.1h.8m-2.5 4.9h.8m4.1-5.7h.8m-7.4 2.3h.8m4.5-6.7h.8m2.3 4h.8m-4 .5h.8m-3.3 6.5h.8m1.7-9.3h.8m0 8.9h.8m-2.4 1h.8m-3-.5h.8m2.6-3h.8m2.6 2h.8m-5.8-.7h.8m-1.9 0h.8m5.2 2.7h.8m-6.9-5.5h.8m3.3 3.1h.8m-5-1.4h.8m2.6 5h.8m-1.3-6.1h.8m-4.7-4.9h.8m5.2 5.4h.8m-4.9 3.5h.8m2-4.1h.8m-.1-1.2h.8m-.8 3h.8m-4.2-2.9h.8m-1.7 4.9h.8m1-7.3h.8m1.7 5.7h.8m-2.9-1h.8m-1.9-3h.8m2.8-2.1h.8m-7.9-.8h.8m6.3 1h.8m-4.2 1.3h.8m-3.1 2.1h.8m1.9 8h.8m-1.4-6.4h.8m6.2 4.4h.8m-4.9-1.9h.8m-2.8-.3h.8m.2-6.2h.8m3.5 3.1h.8m-4.2-1.9h.8m-6.1-4.7h.8m-7.1 8.9h.8m3.9-4.3h.8m4.3-3.6h.8m-2.3 7h.8m0 .7h.8m-8 .1h.8m9.7-7.3h.8m-1.1 3.6h.8m-3.8 3.6h.8m-4.5 1h.8m1.5-.2h.8m1.1-1.9h.8m-3-1.2h.8m-1.8-2.4h.8m-1.6 2.3h.8m.8-7.9h.8m5.1 6.7h.8m-2.6 1.7h.8m-4.6-2.5h.8m-1.7 7.6h.8m4.4-10.4h.8m.1 7.2h.8m-8.6-5.3h.8m5.3 4.2h.8m4.1-1.1h.8m-4.1-1.9h.8m-4 1.9h.8m-.6 .7h.8m-.4-6.9h.8m1 1.8h.8m-.4 6.8h.8m-1.2-4.7h.8m-2 5h.8m-3.2-8.3h.8m5.9 4.7h.8m-7.4-2.9h.8m-3-6.4h.8m-.3 6.1h.8m-.2 11.5h.8m1.5-8.8h.8m-.3-1.5h.8m2.9 7.7h.8m-6.9-.9h.8m5.3-9h.8m-5.8 8.4h.8m2.2 1.7h.8m-3-3.8h.8m4.1 1.3h.8m-5.5-1.6h.8m-3.1 .4h.8m-3.4 4.8h.8m-2.3-2.5h.8m3.3-2h.8m6.3-1.4h.8m-3.9-2.4h.8m-3.2 7h.8m-2.1-1.3h.8m2-4.8h.8m1.5-2.1h.8m-2.7-1.4h.8m-2.5 .1h.8m.5 8.3h.8m1.6-1.8h.8m-3.1-3.3h.8m-2.6-1.9h.8m6.5 3.2h.8m-7.4 .9h.8m-2.9 5.6h.8m.3-9.9h.8m5.9 8.3h.8m-4.1-6.3h.8m1.5 1.8h.8m-4.3 4.3h.8m-1.1-6.1h.8m-7.8 6h.8m-1.1-7.3h.8m3.1 .7h.8m.6 3.7h.8m-.6-12.4h.8m0 5.9h.8m-2-.3h.8m0 3.7h.8m2 2.8h.8m-.3-7.2h.8m.4 3.6h.8m-3.6 4.5h.8m.2-3h.8m-7.2 3.7h.8m7.3 1.5h.8m-1.1 1.7h.8m-1.4-7.6h.8m-1.4-2.6h.8m-3.1 4.6h.8m2.6-1.6h.8m-4.7-.9h.8m1.3-4.5h.8m-9 12.8h.8m9.5-3.8h.8m-3.3-4.8h.8m-6.4 3.9h.8m7.1-12.2h.8m-3-3.4h.8m-3.7-7.8h.8m-3.1 12.3h.8m8-10.8h.8m-4.4 5.4h.8m1-.8h.8" stroke="#000" stroke-width="0.8" fill="none" filter="url(#bl)"/>
<polygon points="84,387.2 106.2,385.3 100.2,412.6 84,412.6" fill="none" stroke="#cc3d68" stroke-width="0.6" stroke-dasharray="1.5 1.1"/>
<text x="83.8" y="379.6" font-size="4.5" fill="#cc3d68">P1</text>
<text x="83.8" y="384.9" font-size="4.5" fill="#cc3d68">8.3%</text>
<rect x="131.1" y="370.2" width="58.2" height="58.4" fill="none" stroke="#555" stroke-width="0.8"/>
<line x1="127.8" y1="428.6" x2="131.1" y2="428.6" stroke="#000" stroke-width="0.7"/>
<line x1="127.8" y1="425.8" x2="131.1" y2="425.8" stroke="#333" stroke-width="0.45"/>
<line x1="127.8" y1="424.16" x2="131.1" y2="424.16" stroke="#333" stroke-width="0.45"/>
<line x1="127.8" y1="423" x2="131.1" y2="423" stroke="#333" stroke-width="0.45"/>
<line x1="127.8" y1="422.1" x2="131.1" y2="422.1" stroke="#333" stroke-width="0.45"/>
<line x1="127.8" y1="421.36" x2="131.1" y2="421.36" stroke="#333" stroke-width="0.45"/>
<line x1="127.8" y1="420.74" x2="131.1" y2="420.74" stroke="#333" stroke-width="0.45"/>
<line x1="127.8" y1="420.2" x2="131.1" y2="420.2" stroke="#333" stroke-width="0.45"/>
<line x1="127.8" y1="419.73" x2="131.1" y2="419.73" stroke="#333" stroke-width="0.45"/>
<line x1="127.8" y1="419.3" x2="131.1" y2="419.3" stroke="#000" stroke-width="0.7"/>
<line x1="127.8" y1="416.5" x2="131.1" y2="416.5" stroke="#333" stroke-width="0.45"/>
<line x1="127.8" y1="414.86" x2="131.1" y2="414.86" stroke="#333" stroke-width="0.45"/>
<line x1="127.8" y1="413.7" x2="131.1" y2="413.7" stroke="#333" stroke-width="0.45"/>
<line x1="127.8" y1="412.8" x2="131.1" y2="412.8" stroke="#333" stroke-width="0.45"/>
<line x1="127.8" y1="412.06" x2="131.1" y2="412.06" stroke="#333" stroke-width="0.45"/>
<line x1="127.8" y1="411.44" x2="131.1" y2="411.44" stroke="#333" stroke-width="0.45"/>
<line x1="127.8" y1="410.9" x2="131.1" y2="410.9" stroke="#333" stroke-width="0.45"/>
<line x1="127.8" y1="410.43" x2="131.1" y2="410.43" stroke="#333" stroke-width="0.45"/>
<line x1="127.8" y1="410" x2="131.1" y2="410" stroke="#000" stroke-width="0.7"/>
<line x1="127.8" y1="407.2" x2="131.1" y2="407.2" stroke="#333" stroke-width="0.45"/>
<line x1="127.8" y1="405.56" x2="131.1" y2="405.56" stroke="#333" stroke-width="0.45"/>
<line x1="127.8" y1="404.4" x2="131.1" y2="404.4" stroke="#333" stroke-width="0.45"/>
<line x1="127.8" y1="403.5" x2="131.1" y2="403.5" stroke="#333" stroke-width="0.45"/>
<line x1="127.8" y1="402.76" x2="131.1" y2="402.76" stroke="#333" stroke-width="0.45"/>
<line x1="127.8" y1="402.14" x2="131.1" y2="402.14" stroke="#333" stroke-width="0.45"/>
<line x1="127.8" y1="401.6" x2="131.1" y2="401.6" stroke="#333" stroke-width="0.45"/>
<line x1="127.8" y1="401.13" x2="131.1" y2="401.13" stroke="#333" stroke-width="0.45"/>
<line x1="127.8" y1="400.7" x2="131.1" y2="400.7" stroke="#000" stroke-width="0.7"/>
<line x1="127.8" y1="397.9" x2="131.1" y2="397.9" stroke="#333" stroke-width="0.45"/>
<line x1="127.8" y1="396.26" x2="131.1" y2="396.26" stroke="#333" stroke-width="0.45"/>
<line x1="127.8" y1="395.1" x2="131.1" y2="395.1" stroke="#333" stroke-width="0.45"/>
<line x1="127.8" y1="394.2" x2="131.1" y2="394.2" stroke="#333" stroke-width="0.45"/>
<line x1="127.8" y1="393.46" x2="131.1" y2="393.46" stroke="#333" stroke-width="0.45"/>
<line x1="127.8" y1="392.84" x2="131.1" y2="392.84" stroke="#333" stroke-width="0.45"/>
<line x1="127.8" y1="392.3" x2="131.1" y2="392.3" stroke="#333" stroke-width="0.45"/>
<line x1="127.8" y1="391.83" x2="131.1" y2="391.83" stroke="#333" stroke-width="0.45"/>
<line x1="127.8" y1="391.4" x2="131.1" y2="391.4" stroke="#000" stroke-width="0.7"/>
<line x1="127.8" y1="388.6" x2="131.1" y2="388.6" stroke="#333" stroke-width="0.45"/>
<line x1="127.8" y1="386.96" x2="131.1" y2="386.96" stroke="#333" stroke-width="0.45"/>
<line x1="127.8" y1="385.8" x2="131.1" y2="385.8" stroke="#333" stroke-width="0.45"/>
<line x1="127.8" y1="384.9" x2="131.1" y2="384.9" stroke="#333" stroke-width="0.45"/>
<line x1="127.8" y1="384.16" x2="131.1" y2="384.16" stroke="#333" stroke-width="0.45"/>
<line x1="127.8" y1="383.54" x2="131.1" y2="383.54" stroke="#333" stroke-width="0.45"/>
<line x1="127.8" y1="383" x2="131.1" y2="383" stroke="#333" stroke-width="0.45"/>
<line x1="127.8" y1="382.53" x2="131.1" y2="382.53" stroke="#333" stroke-width="0.45"/>
<line x1="127.8" y1="382.1" x2="131.1" y2="382.1" stroke="#000" stroke-width="0.7"/>
<line x1="127.8" y1="379.3" x2="131.1" y2="379.3" stroke="#333" stroke-width="0.45"/>
<line x1="127.8" y1="377.66" x2="131.1" y2="377.66" stroke="#333" stroke-width="0.45"/>
<line x1="127.8" y1="376.5" x2="131.1" y2="376.5" stroke="#333" stroke-width="0.45"/>
<line x1="127.8" y1="375.6" x2="131.1" y2="375.6" stroke="#333" stroke-width="0.45"/>
<line x1="127.8" y1="374.86" x2="131.1" y2="374.86" stroke="#333" stroke-width="0.45"/>
<line x1="127.8" y1="374.24" x2="131.1" y2="374.24" stroke="#333" stroke-width="0.45"/>
<line x1="127.8" y1="373.7" x2="131.1" y2="373.7" stroke="#333" stroke-width="0.45"/>
<line x1="127.8" y1="373.23" x2="131.1" y2="373.23" stroke="#333" stroke-width="0.45"/>
<line x1="127.8" y1="372.8" x2="131.1" y2="372.8" stroke="#000" stroke-width="0.7"/>
<line x1="131.1" y1="428.6" x2="131.1" y2="431.3" stroke="#000" stroke-width="0.7"/>
<line x1="133.93" y1="428.6" x2="133.93" y2="431.3" stroke="#333" stroke-width="0.45"/>
<line x1="135.58" y1="428.6" x2="135.58" y2="431.3" stroke="#333" stroke-width="0.45"/>
<line x1="136.75" y1="428.6" x2="136.75" y2="431.3" stroke="#333" stroke-width="0.45"/>
<line x1="137.66" y1="428.6" x2="137.66" y2="431.3" stroke="#333" stroke-width="0.45"/>
<line x1="138.4" y1="428.6" x2="138.4" y2="431.3" stroke="#333" stroke-width="0.45"/>
<line x1="139.03" y1="428.6" x2="139.03" y2="431.3" stroke="#333" stroke-width="0.45"/>
<line x1="139.58" y1="428.6" x2="139.58" y2="431.3" stroke="#333" stroke-width="0.45"/>
<line x1="140.06" y1="428.6" x2="140.06" y2="431.3" stroke="#333" stroke-width="0.45"/>
<line x1="140.49" y1="428.6" x2="140.49" y2="431.3" stroke="#000" stroke-width="0.7"/>
<line x1="143.31" y1="428.6" x2="143.31" y2="431.3" stroke="#333" stroke-width="0.45"/>
<line x1="144.97" y1="428.6" x2="144.97" y2="431.3" stroke="#333" stroke-width="0.45"/>
<line x1="146.14" y1="428.6" x2="146.14" y2="431.3" stroke="#333" stroke-width="0.45"/>
<line x1="147.05" y1="428.6" x2="147.05" y2="431.3" stroke="#333" stroke-width="0.45"/>
<line x1="147.79" y1="428.6" x2="147.79" y2="431.3" stroke="#333" stroke-width="0.45"/>
<line x1="148.42" y1="428.6" x2="148.42" y2="431.3" stroke="#333" stroke-width="0.45"/>
<line x1="148.96" y1="428.6" x2="148.96" y2="431.3" stroke="#333" stroke-width="0.45"/>
<line x1="149.44" y1="428.6" x2="149.44" y2="431.3" stroke="#333" stroke-width="0.45"/>
<line x1="149.87" y1="428.6" x2="149.87" y2="431.3" stroke="#000" stroke-width="0.7"/>
<line x1="152.7" y1="428.6" x2="152.7" y2="431.3" stroke="#333" stroke-width="0.45"/>
<line x1="154.35" y1="428.6" x2="154.35" y2="431.3" stroke="#333" stroke-width="0.45"/>
<line x1="155.53" y1="428.6" x2="155.53" y2="431.3" stroke="#333" stroke-width="0.45"/>
<line x1="156.44" y1="428.6" x2="156.44" y2="431.3" stroke="#333" stroke-width="0.45"/>
<line x1="157.18" y1="428.6" x2="157.18" y2="431.3" stroke="#333" stroke-width="0.45"/>
<line x1="157.81" y1="428.6" x2="157.81" y2="431.3" stroke="#333" stroke-width="0.45"/>
<line x1="158.35" y1="428.6" x2="158.35" y2="431.3" stroke="#333" stroke-width="0.45"/>
<line x1="158.83" y1="428.6" x2="158.83" y2="431.3" stroke="#333" stroke-width="0.45"/>
<line x1="159.26" y1="428.6" x2="159.26" y2="431.3" stroke="#000" stroke-width="0.7"/>
<line x1="162.09" y1="428.6" x2="162.09" y2="431.3" stroke="#333" stroke-width="0.45"/>
<line x1="163.74" y1="428.6" x2="163.74" y2="431.3" stroke="#333" stroke-width="0.45"/>
<line x1="164.91" y1="428.6" x2="164.91" y2="431.3" stroke="#333" stroke-width="0.45"/>
<line x1="165.82" y1="428.6" x2="165.82" y2="431.3" stroke="#333" stroke-width="0.45"/>
<line x1="166.57" y1="428.6" x2="166.57" y2="431.3" stroke="#333" stroke-width="0.45"/>
<line x1="167.19" y1="428.6" x2="167.19" y2="431.3" stroke="#333" stroke-width="0.45"/>
<line x1="167.74" y1="428.6" x2="167.74" y2="431.3" stroke="#333" stroke-width="0.45"/>
<line x1="168.22" y1="428.6" x2="168.22" y2="431.3" stroke="#333" stroke-width="0.45"/>
<line x1="168.65" y1="428.6" x2="168.65" y2="431.3" stroke="#000" stroke-width="0.7"/>
<line x1="171.47" y1="428.6" x2="171.47" y2="431.3" stroke="#333" stroke-width="0.45"/>
<line x1="173.13" y1="428.6" x2="173.13" y2="431.3" stroke="#333" stroke-width="0.45"/>
<line x1="174.3" y1="428.6" x2="174.3" y2="431.3" stroke="#333" stroke-width="0.45"/>
<line x1="175.21" y1="428.6" x2="175.21" y2="431.3" stroke="#333" stroke-width="0.45"/>
<line x1="175.95" y1="428.6" x2="175.95" y2="431.3" stroke="#333" stroke-width="0.45"/>
<line x1="176.58" y1="428.6" x2="176.58" y2="431.3" stroke="#333" stroke-width="0.45"/>
<line x1="177.13" y1="428.6" x2="177.13" y2="431.3" stroke="#333" stroke-width="0.45"/>
<line x1="177.61" y1="428.6" x2="177.61" y2="431.3" stroke="#333" stroke-width="0.45"/>
<line x1="178.04" y1="428.6" x2="178.04" y2="431.3" stroke="#000" stroke-width="0.7"/>
<line x1="180.86" y1="428.6" x2="180.86" y2="431.3" stroke="#333" stroke-width="0.45"/>
<line x1="182.51" y1="428.6" x2="182.51" y2="431.3" stroke="#333" stroke-width="0.45"/>
<line x1="183.69" y1="428.6" x2="183.69" y2="431.3" stroke="#333" stroke-width="0.45"/>
<line x1="184.6" y1="428.6" x2="184.6" y2="431.3" stroke="#333" stroke-width="0.45"/>
<line x1="185.34" y1="428.6" x2="185.34" y2="431.3" stroke="#333" stroke-width="0.45"/>
<line x1="185.97" y1="428.6" x2="185.97" y2="431.3" stroke="#333" stroke-width="0.45"/>
<line x1="186.51" y1="428.6" x2="186.51" y2="431.3" stroke="#333" stroke-width="0.45"/>
<line x1="186.99" y1="428.6" x2="186.99" y2="431.3" stroke="#333" stroke-width="0.45"/>
<line x1="187.42" y1="428.6" x2="187.42" y2="431.3" stroke="#000" stroke-width="0.7"/>
<text x="125.2" y="430.3" font-size="4.6" text-anchor="end" fill="#555">10<tspan font-size="3" dy="-1.7">1</tspan></text>
<text x="131.7" y="438.3" font-size="4.6" text-anchor="middle" fill="#555">10<tspan font-size="3" dy="-1.7">1</tspan></text>
<text x="125.2" y="421" font-size="4.6" text-anchor="end" fill="#555">10<tspan font-size="3" dy="-1.7">2</tspan></text>
<text x="141.09" y="438.3" font-size="4.6" text-anchor="middle" fill="#555">10<tspan font-size="3" dy="-1.7">2</tspan></text>
<text x="125.2" y="411.7" font-size="4.6" text-anchor="end" fill="#555">10<tspan font-size="3" dy="-1.7">3</tspan></text>
<text x="150.47" y="438.3" font-size="4.6" text-anchor="middle" fill="#555">10<tspan font-size="3" dy="-1.7">3</tspan></text>
<text x="125.2" y="402.4" font-size="4.6" text-anchor="end" fill="#555">10<tspan font-size="3" dy="-1.7">4</tspan></text>
<text x="159.86" y="438.3" font-size="4.6" text-anchor="middle" fill="#555">10<tspan font-size="3" dy="-1.7">4</tspan></text>
<text x="125.2" y="393.1" font-size="4.6" text-anchor="end" fill="#555">10<tspan font-size="3" dy="-1.7">5</tspan></text>
<text x="169.25" y="438.3" font-size="4.6" text-anchor="middle" fill="#555">10<tspan font-size="3" dy="-1.7">5</tspan></text>
<text x="125.2" y="383.8" font-size="4.6" text-anchor="end" fill="#555">10<tspan font-size="3" dy="-1.7">6</tspan></text>
<text x="178.64" y="438.3" font-size="4.6" text-anchor="middle" fill="#555">10<tspan font-size="3" dy="-1.7">6</tspan></text>
<text x="125.2" y="373.5" font-size="4.6" text-anchor="end" fill="#555">10<tspan font-size="3" dy="-1.7">7.2</tspan></text>
<text x="189.9" y="438.3" font-size="4.6" text-anchor="middle" fill="#555">10<tspan font-size="3" dy="-1.7">7.2</tspan></text>
<text x="160.2" y="364.9" font-size="8.6" text-anchor="middle" textLength="18.2" lengthAdjust="spacingAndGlyphs">CKO</text>
<polygon points="162.8,410.8 174,410.6 173.8,415 172.6,421 171,425.5 168.5,427 165.5,426.5 163.8,422 162.8,415" fill="url(#gD)" filter="url(#bl)"/>
<path d="M168.4 425.2h.8m2.8-7.1h.8m-5.4-.1h.8m1.8 1.8h.8m-.2-6.8h.8m1.6 6.6h.8m-3.4-.1h.8m-4 2.3h.8m2.8-2.6h.8m-3.7 3.4h.8m-3-8.4h.8m3 3.3h.8m-7.7-.6h.8m3.5-1.4h.8m-3.9 4.6h.8m6.4-1h.8m-5.7 2.4h.8m3.6-2.6h.8m-1.4 5.1h.8m-3-7.1h.8m.9 4h.8m1.4-5.8h.8m-6.1 1.7h.8m-4 3.7h.8m6-3.3h.8m1.8 5.9h.8m-3.1-1.6h.8m.2-6.6h.8m-1.8 7.4h.8m-8-1h.8m3.8 1.7h.8m-1.4-3.1h.8m1.5-3.2h.8m0 2.9h.8m-1.1-1.6h.8m1 4.3h.8m-4.6 .1h.8m3.5 4.4h.8m-9.3-3.4h.8m5.3-3.8h.8m-5.2 5.2h.8m-1.6-2.6h.8m6.9-8.3h.8m-5.6 1.1h.8m.8 10.8h.8m4.6-12.6h.8m-8.6 9.5h.8m5.6-1.1h.8m-7.7-.5h.8m1.4-1.9h.8m-3 2.3h.8m2.3-1.9h.8m-2.4-4.5h.8m-1.5 9.5h.8m0-10.1h.8m3.8 7.5h.8m1.5-1.8h.8m-8.5-5.7h.8m-1.9 3h.8m3.5-.7h.8m-3.4 1.9h.8m.6 5.5h.8m-1.3-.7h.8m-2.1-2.3h.8m-6-6.7h.8m8 3.3h.8m-1.4 4.3h.8m1.4 1h.8m-1.7-3.5h.8m-6-2.4h.8m-.2-1.5h.8m-.9 3.9h.8m1.6-.9h.8m-7.4 1h.8m5.7 4.4h.8m.2-6.5h.8m-4.7 10h.8m3.7-.6h.8m3.3-10.1h.8m-6 4.8h.8m-.3 .4h.8m-1.9-1.4h.8m-5.9-1.3h.8m1.5 1.1h.8m0 1.9h.8m3.1-1.2h.8m-2.3-.8h.8m-3.1-1h.8m-1 2.1h.8m.8 .7h.8m-4.9 1.2h.8m.9-6.2h.8m.9 .7h.8m.7-.1h.8m-4.9-1h.8m6.3 3.4h.8m-8.2-.2h.8m-2 6.8h.8m-.7-5h.8m5.4-7.3h.8m-1.5 9.3h.8m-.3-2.8h.8m.7-.4h.8m-2.7-1.1h.8m.1-3.1h.8m-.3 1.7h.8m-6.5 3.3h.8m7.6 2.3h.8m-7.4-1h.8m-.7-3.2h.8m.9-8.3h.8m-.5 4.9h.8m-3.5-1.7h.8m-3.2 2h.8m6.2 9.9h.8m-3.4-2.2h.8m-1.5-11.4h.8m.5 9h.8m-2.6-.6h.8m2.2-4.4h.8m-6.9 2.5h.8m3-.5h.8m2.8 7.9h.8m-5-3.9h.8m3.2 0h.8m-.4-4.2h.8m-1.8 9.2h.8m-.6-10.1h.8m-1.4 7.2h.8m-1.5-6.9h.8m2.7-2.6h.8m-3.9 4.6h.8m-5.9 4.7h.8m3.9-9h.8m-.1 2.8h.8m-8.3-1h.8m5.7 5h.8m-1.1-2.2h.8m.1-1h.8m1.3 1.4h.8m-3.4 1.5h.8m-4.9-4.8h.8m7 4h.8m-6.2 0h.8m-1.4-.2h.8m-1.4-.1h.8m-3.5 4.1h.8m2.4-11.1h.8m0 4.6h.8m.4-3h.8m-5.1 5.7h.8m2.1-.6h.8m-5.3-5.1h.8m6 4.3h.8m2.7-2.6h.8m-8-.7h.8m1.4 3.2h.8m1.8 .7h.8m-5.6 .3h.8m9.4 4h.8m-17-5.3h.8m4.9 2.9h.8m1.3 4.9h.8m2.5-3.9h.8m-3-3.6h.8m-.4 5.1h.8m-.2-6.2h.8m1.4 2h.8m-4.8-3.7h.8m-2.3 .6h.8m-7.5 6.3h.8m9.3-4.7h.8m.6 2.5h.8m-2.8-11.1h.8m-2.6 11.4h.8m4.7 5h.8m-1.3-11.4h.8m-11.7 6.6h.8m5.9 1.5h.8m-1.3-2.9h.8m-4.9 .9h.8m2.4-.4h.8m1.9-1.7h.8m-1.2 .3h.8m.5 2h.8m-4.7-4.1h.8m6 1.8h.8m-3 1.9h.8m-5.5-4.3h.8m1.3 3.8h.8m.7-5.8h.8m-4.5 4.4h.8m5.8-8.6h.8m-4.3 6.9h.8m-.8 .2h.8m-1 7.8h.8m-.8-4.3h.8m-.8-4.5h.8m-.3 2.1h.8m-4.8 .7h.8m.9 3h.8m-.2-4.9h.8m3.7 5.8h.8m-1.4-1.5h.8m-4.9-3.9h.8m-1.3 5.2h.8m.3-9.2h.8m-1.2 .2h.8m-.2 .8h.8m-5.1 5.1h.8m2.8-6.8h.8m-5 13.2h.8m1.5-8.8h.8m.8-3.6h.8m3.6 7.4h.8m-6.9-3h.8m-3.1-.2h.8m6.5-5.2h.8m-4.9 7.1h.8m3.7 4.5h.8m-5.4-7.9h.8m2 1.4h.8m-3.1 5.5h.8m5.2-3.1h.8m-6.5 1.2h.8m-5.9-2.3h.8m7.1 .6h.8m-3.6-10.1h.8m1.9 15.8h.8m-5.1-3.6h.8m3.6-8.5h.8m-.2 11h.8m-2.9-5.3h.8m.9-5.7h.8m-2.9 9.9h.8m-4.8-.2h.8m1.7-11.7h.8m.1 4.2h.8m.5-.8h.8m1.4 1.7h.8m-2.9 .5h.8m-2.9 6.8h.8m.9-6h.8m-5.2 5.9h.8m5.1-5.6h.8m-2.3-2.7h.8m-4.5 .8h.8m3.3 4.2h.8m-4.1 1.7h.8m3.8-2.1h.8m-.1-1.8h.8m-4.2 2.9h.8m-.6 1.2h.8m-4.4 2.4h.8m.6-6h.8m-2.6 2.9h.8m7.1 1.8h.8m-2.1-10h.8m-5.6 4.1h.8m-1.3 6.1h.8m2.6-4.4h.8m.1-3.5h.8m-5 .3h.8m3.4 4.6h.8m-.6 2.8h.8m-6.6-6.2h.8m3.8-3h.8m-2.9 9h.8m4.1 .2h.8m-4-4.9h.8m2.3-.6h.8m-3 6.4h.8m-2.9-7.3h.8m.3 4.6h.8m.7-1.7h.8m-.6-6.7h.8m-5.1 6.7h.8m-1-5.7h.8m-1.6 1.6h.8m2.3-.4h.8m.4 10.3h.8m-1.9-1.6h.8m.5-9.1h.8m-2.5 .6h.8m2.3-.7h.8m.9 6.6h.8m-10.9 .8h.8m10-6h.8m-2.5-3.8h.8m-3 .5h.8m-.1-.5h.8m-10.2 8.3h.8m14-3.8h.8m-5.2 2.7h.8m-4.3 1.9h.8m5.1-7h.8m-4 6h.8m-6.8 4.8h.8m9.4-9.7h.8m-1.5 3.8h.8m-6.5 5.5h.8m.4-4.5h.8m3.1 3.7h.8m-2.7-10.2h.8m-8.2 9.6h.8m1.1-3.7h.8m-1.2-1.3h.8m-1.4 6.9h.8m0-6.7h.8m1.6 5.1h.8m-4.4-4.7h.8m2.8 2.1h.8m1.2-3.8h.8m-1.5 .4h.8m-.1 1h.8m-4.2 .3h.8m-.3 1.3h.8m5.1-9.1h.8m-10.4 3.4h.8m5.6 9.1h.8m-2.7-14h.8m-7 13.3h.8m6.7-8.8h.8m2-.9h.8m-.8 11.3h.8m-6.5-9.7h.8m4 0h.8m-.7-.3h.8m-1 4.9h.8m-4.5-3.8h.8m1.2-3.8h.8m-2.3 5.7h.8m2-3.3h.8m2.4 3.6h.8m-9.4 6.5h.8m7.6-6h.8m-8.5 .8h.8m-.2-1.3h.8m6 2.7h.8m-5.1-.2h.8m-1.4 1.9h.8m2-4.6h.8m-2.1 .7h.8m4.1 .7h.8m-10.3 2.6h.8m-.2-4.5h.8m2.9 1.4h.8m-4.1-1.6h.8m-.3 6.5h.8m-1.2-6.6h.8m7.5 .1h.8m-2.4 7.1h.8m-5.7-10.4h.8m1 8h.8m.7-2.3h.8m-.1 5h.8m-7.6 .1h.8m2.9-7.5h.8m-2.2 9.2h.8m3.1-13.9h.8m-3.5 6.3h.8m-1.6-1.4h.8m-4.7 5.2h.8m.8-4.7h.8m.2-1.4h.8m3.2 4.3h.8m-5-5.1h.8m-.2 7.3h.8m1-2.8h.8m-2.2-1.9h.8m.9-6h.8m3.3 4h.8m-7.3 8.1h.8m1.6-4.9h.8m-3.2-6.1h.8m1.5 10.4h.8m-4.1 .7h.8m-1.5-8h.8m4.1 2.8h.8m-.2-2.8h.8m-6-4.3h.8m-1.3 3h.8m-1.5 5.3h.8m1.5-8.8h.8m8.7 4.4h.8m-12.1 7.9h.8m6.5-9.1h.8m-8.7 .6h.8m7 2.6h.8m-6.6 1.1h.8m5.2-5.2h.8m-5.5 0h.8m6.8 12.2h.8m-4.4-7.4h.8m-1.7-7.5h.8m-2 2.9h.8m-5.6 2.4h.8m2.2 4.9h.8m2.3-1.2h.8m-5.7 1.6h.8m1.6 1.9h.8m-3.1-15h.8m3.3 9.8h.8m.5 2.6h.8m-2.1-3.9h.8m-2 2.8h.8m-2.9-5.1h.8m1.5 8h.8m.8-1.8h.8m-2 2.1h.8m4.3-3.8h.8m-5.9 3.8h.8m3.5-2.8h.8m-4.8-.9h.8m-5.5 3.9h.8m2.1-10.7h.8m-.5-.1h.8m-3.4 6.7h.8m-.5 4h.8m-2.5-3.1h.8m5.3 4.6h.8m.3-4.7h.8m-3.3-1.1h.8m2.4-2.3h.8m-2.7 2.2h.8m-1.6-.7h.8m4.8-1.5h.8m-6.4 3.6h.8m.3 .7h.8m-1.4 2h.8m-6.6-3.7h.8m0 .8h.8m-.6-4.5h.8m2.6 9h.8m1.1-4.2h.8m1.7-4.7h.8m-11.3 1.9h.8m4.6 6.3h.8m6.5-9.7h.8m.2 11h.8m-4.1-25.4h.8m-6.2 9.5h.8m3.1-11.6h.8m-2.6 9h.8m-3.5-1.9h.8m5-3.3h.8m-1.3-6.8h.8" stroke="#000" stroke-width="0.8" fill="none" filter="url(#bl)"/>
<polygon points="162.2,387.2 184.4,385.3 178.4,412.6 162.2,412.6" fill="none" stroke="#cc3d68" stroke-width="0.6" stroke-dasharray="1.5 1.1"/>
<text x="162" y="379.6" font-size="4.5" fill="#cc3d68">P1</text>
<text x="162" y="384.9" font-size="4.5" fill="#cc3d68">8.5%</text>
<rect x="209.7" y="370.2" width="58.2" height="58.4" fill="none" stroke="#555" stroke-width="0.8"/>
<line x1="206.4" y1="428.6" x2="209.7" y2="428.6" stroke="#000" stroke-width="0.7"/>
<line x1="206.4" y1="425.8" x2="209.7" y2="425.8" stroke="#333" stroke-width="0.45"/>
<line x1="206.4" y1="424.16" x2="209.7" y2="424.16" stroke="#333" stroke-width="0.45"/>
<line x1="206.4" y1="423" x2="209.7" y2="423" stroke="#333" stroke-width="0.45"/>
<line x1="206.4" y1="422.1" x2="209.7" y2="422.1" stroke="#333" stroke-width="0.45"/>
<line x1="206.4" y1="421.36" x2="209.7" y2="421.36" stroke="#333" stroke-width="0.45"/>
<line x1="206.4" y1="420.74" x2="209.7" y2="420.74" stroke="#333" stroke-width="0.45"/>
<line x1="206.4" y1="420.2" x2="209.7" y2="420.2" stroke="#333" stroke-width="0.45"/>
<line x1="206.4" y1="419.73" x2="209.7" y2="419.73" stroke="#333" stroke-width="0.45"/>
<line x1="206.4" y1="419.3" x2="209.7" y2="419.3" stroke="#000" stroke-width="0.7"/>
<line x1="206.4" y1="416.5" x2="209.7" y2="416.5" stroke="#333" stroke-width="0.45"/>
<line x1="206.4" y1="414.86" x2="209.7" y2="414.86" stroke="#333" stroke-width="0.45"/>
<line x1="206.4" y1="413.7" x2="209.7" y2="413.7" stroke="#333" stroke-width="0.45"/>
<line x1="206.4" y1="412.8" x2="209.7" y2="412.8" stroke="#333" stroke-width="0.45"/>
<line x1="206.4" y1="412.06" x2="209.7" y2="412.06" stroke="#333" stroke-width="0.45"/>
<line x1="206.4" y1="411.44" x2="209.7" y2="411.44" stroke="#333" stroke-width="0.45"/>
<line x1="206.4" y1="410.9" x2="209.7" y2="410.9" stroke="#333" stroke-width="0.45"/>
<line x1="206.4" y1="410.43" x2="209.7" y2="410.43" stroke="#333" stroke-width="0.45"/>
<line x1="206.4" y1="410" x2="209.7" y2="410" stroke="#000" stroke-width="0.7"/>
<line x1="206.4" y1="407.2" x2="209.7" y2="407.2" stroke="#333" stroke-width="0.45"/>
<line x1="206.4" y1="405.56" x2="209.7" y2="405.56" stroke="#333" stroke-width="0.45"/>
<line x1="206.4" y1="404.4" x2="209.7" y2="404.4" stroke="#333" stroke-width="0.45"/>
<line x1="206.4" y1="403.5" x2="209.7" y2="403.5" stroke="#333" stroke-width="0.45"/>
<line x1="206.4" y1="402.76" x2="209.7" y2="402.76" stroke="#333" stroke-width="0.45"/>
<line x1="206.4" y1="402.14" x2="209.7" y2="402.14" stroke="#333" stroke-width="0.45"/>
<line x1="206.4" y1="401.6" x2="209.7" y2="401.6" stroke="#333" stroke-width="0.45"/>
<line x1="206.4" y1="401.13" x2="209.7" y2="401.13" stroke="#333" stroke-width="0.45"/>
<line x1="206.4" y1="400.7" x2="209.7" y2="400.7" stroke="#000" stroke-width="0.7"/>
<line x1="206.4" y1="397.9" x2="209.7" y2="397.9" stroke="#333" stroke-width="0.45"/>
<line x1="206.4" y1="396.26" x2="209.7" y2="396.26" stroke="#333" stroke-width="0.45"/>
<line x1="206.4" y1="395.1" x2="209.7" y2="395.1" stroke="#333" stroke-width="0.45"/>
<line x1="206.4" y1="394.2" x2="209.7" y2="394.2" stroke="#333" stroke-width="0.45"/>
<line x1="206.4" y1="393.46" x2="209.7" y2="393.46" stroke="#333" stroke-width="0.45"/>
<line x1="206.4" y1="392.84" x2="209.7" y2="392.84" stroke="#333" stroke-width="0.45"/>
<line x1="206.4" y1="392.3" x2="209.7" y2="392.3" stroke="#333" stroke-width="0.45"/>
<line x1="206.4" y1="391.83" x2="209.7" y2="391.83" stroke="#333" stroke-width="0.45"/>
<line x1="206.4" y1="391.4" x2="209.7" y2="391.4" stroke="#000" stroke-width="0.7"/>
<line x1="206.4" y1="388.6" x2="209.7" y2="388.6" stroke="#333" stroke-width="0.45"/>
<line x1="206.4" y1="386.96" x2="209.7" y2="386.96" stroke="#333" stroke-width="0.45"/>
<line x1="206.4" y1="385.8" x2="209.7" y2="385.8" stroke="#333" stroke-width="0.45"/>
<line x1="206.4" y1="384.9" x2="209.7" y2="384.9" stroke="#333" stroke-width="0.45"/>
<line x1="206.4" y1="384.16" x2="209.7" y2="384.16" stroke="#333" stroke-width="0.45"/>
<line x1="206.4" y1="383.54" x2="209.7" y2="383.54" stroke="#333" stroke-width="0.45"/>
<line x1="206.4" y1="383" x2="209.7" y2="383" stroke="#333" stroke-width="0.45"/>
<line x1="206.4" y1="382.53" x2="209.7" y2="382.53" stroke="#333" stroke-width="0.45"/>
<line x1="206.4" y1="382.1" x2="209.7" y2="382.1" stroke="#000" stroke-width="0.7"/>
<line x1="206.4" y1="379.3" x2="209.7" y2="379.3" stroke="#333" stroke-width="0.45"/>
<line x1="206.4" y1="377.66" x2="209.7" y2="377.66" stroke="#333" stroke-width="0.45"/>
<line x1="206.4" y1="376.5" x2="209.7" y2="376.5" stroke="#333" stroke-width="0.45"/>
<line x1="206.4" y1="375.6" x2="209.7" y2="375.6" stroke="#333" stroke-width="0.45"/>
<line x1="206.4" y1="374.86" x2="209.7" y2="374.86" stroke="#333" stroke-width="0.45"/>
<line x1="206.4" y1="374.24" x2="209.7" y2="374.24" stroke="#333" stroke-width="0.45"/>
<line x1="206.4" y1="373.7" x2="209.7" y2="373.7" stroke="#333" stroke-width="0.45"/>
<line x1="206.4" y1="373.23" x2="209.7" y2="373.23" stroke="#333" stroke-width="0.45"/>
<line x1="206.4" y1="372.8" x2="209.7" y2="372.8" stroke="#000" stroke-width="0.7"/>
<line x1="209.7" y1="428.6" x2="209.7" y2="431.3" stroke="#000" stroke-width="0.7"/>
<line x1="212.53" y1="428.6" x2="212.53" y2="431.3" stroke="#333" stroke-width="0.45"/>
<line x1="214.18" y1="428.6" x2="214.18" y2="431.3" stroke="#333" stroke-width="0.45"/>
<line x1="215.35" y1="428.6" x2="215.35" y2="431.3" stroke="#333" stroke-width="0.45"/>
<line x1="216.26" y1="428.6" x2="216.26" y2="431.3" stroke="#333" stroke-width="0.45"/>
<line x1="217" y1="428.6" x2="217" y2="431.3" stroke="#333" stroke-width="0.45"/>
<line x1="217.63" y1="428.6" x2="217.63" y2="431.3" stroke="#333" stroke-width="0.45"/>
<line x1="218.18" y1="428.6" x2="218.18" y2="431.3" stroke="#333" stroke-width="0.45"/>
<line x1="218.66" y1="428.6" x2="218.66" y2="431.3" stroke="#333" stroke-width="0.45"/>
<line x1="219.09" y1="428.6" x2="219.09" y2="431.3" stroke="#000" stroke-width="0.7"/>
<line x1="221.91" y1="428.6" x2="221.91" y2="431.3" stroke="#333" stroke-width="0.45"/>
<line x1="223.57" y1="428.6" x2="223.57" y2="431.3" stroke="#333" stroke-width="0.45"/>
<line x1="224.74" y1="428.6" x2="224.74" y2="431.3" stroke="#333" stroke-width="0.45"/>
<line x1="225.65" y1="428.6" x2="225.65" y2="431.3" stroke="#333" stroke-width="0.45"/>
<line x1="226.39" y1="428.6" x2="226.39" y2="431.3" stroke="#333" stroke-width="0.45"/>
<line x1="227.02" y1="428.6" x2="227.02" y2="431.3" stroke="#333" stroke-width="0.45"/>
<line x1="227.56" y1="428.6" x2="227.56" y2="431.3" stroke="#333" stroke-width="0.45"/>
<line x1="228.04" y1="428.6" x2="228.04" y2="431.3" stroke="#333" stroke-width="0.45"/>
<line x1="228.47" y1="428.6" x2="228.47" y2="431.3" stroke="#000" stroke-width="0.7"/>
<line x1="231.3" y1="428.6" x2="231.3" y2="431.3" stroke="#333" stroke-width="0.45"/>
<line x1="232.95" y1="428.6" x2="232.95" y2="431.3" stroke="#333" stroke-width="0.45"/>
<line x1="234.13" y1="428.6" x2="234.13" y2="431.3" stroke="#333" stroke-width="0.45"/>
<line x1="235.04" y1="428.6" x2="235.04" y2="431.3" stroke="#333" stroke-width="0.45"/>
<line x1="235.78" y1="428.6" x2="235.78" y2="431.3" stroke="#333" stroke-width="0.45"/>
<line x1="236.41" y1="428.6" x2="236.41" y2="431.3" stroke="#333" stroke-width="0.45"/>
<line x1="236.95" y1="428.6" x2="236.95" y2="431.3" stroke="#333" stroke-width="0.45"/>
<line x1="237.43" y1="428.6" x2="237.43" y2="431.3" stroke="#333" stroke-width="0.45"/>
<line x1="237.86" y1="428.6" x2="237.86" y2="431.3" stroke="#000" stroke-width="0.7"/>
<line x1="240.69" y1="428.6" x2="240.69" y2="431.3" stroke="#333" stroke-width="0.45"/>
<line x1="242.34" y1="428.6" x2="242.34" y2="431.3" stroke="#333" stroke-width="0.45"/>
<line x1="243.51" y1="428.6" x2="243.51" y2="431.3" stroke="#333" stroke-width="0.45"/>
<line x1="244.42" y1="428.6" x2="244.42" y2="431.3" stroke="#333" stroke-width="0.45"/>
<line x1="245.17" y1="428.6" x2="245.17" y2="431.3" stroke="#333" stroke-width="0.45"/>
<line x1="245.79" y1="428.6" x2="245.79" y2="431.3" stroke="#333" stroke-width="0.45"/>
<line x1="246.34" y1="428.6" x2="246.34" y2="431.3" stroke="#333" stroke-width="0.45"/>
<line x1="246.82" y1="428.6" x2="246.82" y2="431.3" stroke="#333" stroke-width="0.45"/>
<line x1="247.25" y1="428.6" x2="247.25" y2="431.3" stroke="#000" stroke-width="0.7"/>
<line x1="250.07" y1="428.6" x2="250.07" y2="431.3" stroke="#333" stroke-width="0.45"/>
<line x1="251.73" y1="428.6" x2="251.73" y2="431.3" stroke="#333" stroke-width="0.45"/>
<line x1="252.9" y1="428.6" x2="252.9" y2="431.3" stroke="#333" stroke-width="0.45"/>
<line x1="253.81" y1="428.6" x2="253.81" y2="431.3" stroke="#333" stroke-width="0.45"/>
<line x1="254.55" y1="428.6" x2="254.55" y2="431.3" stroke="#333" stroke-width="0.45"/>
<line x1="255.18" y1="428.6" x2="255.18" y2="431.3" stroke="#333" stroke-width="0.45"/>
<line x1="255.73" y1="428.6" x2="255.73" y2="431.3" stroke="#333" stroke-width="0.45"/>
<line x1="256.21" y1="428.6" x2="256.21" y2="431.3" stroke="#333" stroke-width="0.45"/>
<line x1="256.64" y1="428.6" x2="256.64" y2="431.3" stroke="#000" stroke-width="0.7"/>
<line x1="259.46" y1="428.6" x2="259.46" y2="431.3" stroke="#333" stroke-width="0.45"/>
<line x1="261.11" y1="428.6" x2="261.11" y2="431.3" stroke="#333" stroke-width="0.45"/>
<line x1="262.29" y1="428.6" x2="262.29" y2="431.3" stroke="#333" stroke-width="0.45"/>
<line x1="263.2" y1="428.6" x2="263.2" y2="431.3" stroke="#333" stroke-width="0.45"/>
<line x1="263.94" y1="428.6" x2="263.94" y2="431.3" stroke="#333" stroke-width="0.45"/>
<line x1="264.57" y1="428.6" x2="264.57" y2="431.3" stroke="#333" stroke-width="0.45"/>
<line x1="265.11" y1="428.6" x2="265.11" y2="431.3" stroke="#333" stroke-width="0.45"/>
<line x1="265.59" y1="428.6" x2="265.59" y2="431.3" stroke="#333" stroke-width="0.45"/>
<line x1="266.02" y1="428.6" x2="266.02" y2="431.3" stroke="#000" stroke-width="0.7"/>
<text x="203.8" y="430.3" font-size="4.6" text-anchor="end" fill="#555">10<tspan font-size="3" dy="-1.7">1</tspan></text>
<text x="210.3" y="438.3" font-size="4.6" text-anchor="middle" fill="#555">10<tspan font-size="3" dy="-1.7">1</tspan></text>
<text x="203.8" y="421" font-size="4.6" text-anchor="end" fill="#555">10<tspan font-size="3" dy="-1.7">2</tspan></text>
<text x="219.69" y="438.3" font-size="4.6" text-anchor="middle" fill="#555">10<tspan font-size="3" dy="-1.7">2</tspan></text>
<text x="203.8" y="411.7" font-size="4.6" text-anchor="end" fill="#555">10<tspan font-size="3" dy="-1.7">3</tspan></text>
<text x="229.07" y="438.3" font-size="4.6" text-anchor="middle" fill="#555">10<tspan font-size="3" dy="-1.7">3</tspan></text>
<text x="203.8" y="402.4" font-size="4.6" text-anchor="end" fill="#555">10<tspan font-size="3" dy="-1.7">4</tspan></text>
<text x="238.46" y="438.3" font-size="4.6" text-anchor="middle" fill="#555">10<tspan font-size="3" dy="-1.7">4</tspan></text>
<text x="203.8" y="393.1" font-size="4.6" text-anchor="end" fill="#555">10<tspan font-size="3" dy="-1.7">5</tspan></text>
<text x="247.85" y="438.3" font-size="4.6" text-anchor="middle" fill="#555">10<tspan font-size="3" dy="-1.7">5</tspan></text>
<text x="203.8" y="383.8" font-size="4.6" text-anchor="end" fill="#555">10<tspan font-size="3" dy="-1.7">6</tspan></text>
<text x="257.24" y="438.3" font-size="4.6" text-anchor="middle" fill="#555">10<tspan font-size="3" dy="-1.7">6</tspan></text>
<text x="203.8" y="373.5" font-size="4.6" text-anchor="end" fill="#555">10<tspan font-size="3" dy="-1.7">7.2</tspan></text>
<text x="268.5" y="438.3" font-size="4.6" text-anchor="middle" fill="#555">10<tspan font-size="3" dy="-1.7">7.2</tspan></text>
<text x="238.8" y="364.9" font-size="8.6" text-anchor="middle" textLength="18.2" lengthAdjust="spacingAndGlyphs">DKO</text>
<polygon points="242.1,410 256.5,409.8 256.3,414 255,419.5 253,422.5 249,424 245,423 242.6,419.5 242,414" fill="url(#gD)" filter="url(#bl)"/>
<path d="M249.0 423.4h.8m1.9-1.4h.8m2.4-8.1h.8m-8.9-.4h.8m1.1 9.7h.8m-.5-2.1h.8m-7.6-1.5h.8m2.8 6.9h.8m5.6-3.5h.8m-4.2-1.4h.8m1.8-4h.8m-4.9 .9h.8m-1.2-2h.8m.3-.6h.8m3-3.6h.8m-.6 4.1h.8m-5.7-3.1h.8m.6 4.7h.8m.4-1.2h.8m-1.1 9.8h.8m.3-10h.8m1.2 1.9h.8m-2.1 3.1h.8m-4.4-10.7h.8m-.6 10.4h.8m-.9-.5h.8m4.1-4.1h.8m.1 9.1h.8m-1.4-1.9h.8m-4-4.9h.8m.7-3.8h.8m-8.5 .1h.8m6.1 5.7h.8m-7.7-9.9h.8m3.6 7.1h.8m.2 3.6h.8m3.8-1.8h.8m-3-5.6h.8m-7.3 5.6h.8m5.8 2.1h.8m-1 .2h.8m0-10.7h.8m-6.4 9.3h.8m4-8.3h.8m1.3 4.6h.8m-5.9 3h.8m2.8-7.2h.8m0 6.3h.8m-7.1-1.5h.8m-5.9-1.5h.8m7.7-.3h.8m-2.6 2.4h.8m.5 4.9h.8m-1-5.4h.8m1.2 9.8h.8m-4-6.5h.8m-5.2 3.5h.8m7.2-.1h.8m-3.4-10h.8m2.6 7.6h.8m-7.1-9.4h.8m4 5.5h.8m7-1.9h.8m-12.1 2.1h.8m-4.9-3.2h.8m11.1 3.1h.8m-8.9-4.7h.8m3.4 8.1h.8m-1.9-4.4h.8m-.6 3.2h.8m-4.4 1h.8m-6-8h.8m5.8 4.9h.8m-3.9 1.9h.8m7.2 .5h.8m-3.8 1.6h.8m-.2-8.3h.8m-3 10.2h.8m-4.1-5.1h.8m1.9-4.1h.8m-3.1 4.2h.8m4 .9h.8m-7.2-2.5h.8m5.7 5.2h.8m.4-.5h.8m.7 0h.8m-7.7-3.3h.8m-.4-10.2h.8m-4.3 18.8h.8m1.2-18.2h.8m1.2 15.8h.8m1.1-4.7h.8m-1.6-2h.8m4.7 3.6h.8m-5.7 .4h.8m3.4-4.6h.8m-3.7 2h.8m-4.2 3.7h.8m1.1-7.4h.8m-6.3-2.7h.8m10.7 .5h.8m-4.7 3.3h.8m-.5 4h.8m-5.4-3.7h.8m2.3 1.7h.8m-1.2-1.8h.8m1.5 6.8h.8m-1.1-8.6h.8m-1.3 3.4h.8m-.6 7.4h.8m-3.2-7.7h.8m-3.2-1.2h.8m.3 7.9h.8m2.3-9.1h.8m5.1-3.2h.8m-4.6 9.9h.8m-1.9-5.4h.8m-3.3-.3h.8m2.5-8.4h.8m-5.5 10.4h.8m-1-8.2h.8m.4 4.4h.8m2.9 9.1h.8m-3.4-14h.8m-1.8 4.2h.8m2.4 11h.8m-2.1 1.4h.8m3.5-5.6h.8m-9.3-2h.8m-2.6 3.9h.8m4.9 1.5h.8m-.1-13.9h.8m.5 12.1h.8m2.9-8h.8m-10.1 4.4h.8m-1.3-6.1h.8m.7 1.5h.8m-.2 4.2h.8m5.4 3.9h.8m-2.6-3.8h.8m-3.1-2.9h.8m-6.8 11.3h.8m3-4.3h.8m-.3-4.7h.8m-.2-5.4h.8m-.6 7.4h.8m2.5 .5h.8m-.1-.9h.8m-4.5-9.5h.8m-2.8 14.8h.8m1.6-3.2h.8m-2-6.2h.8m7.3 4.4h.8m-2.8 .7h.8m-7.2-11.7h.8m.6 2.9h.8m-9.1 11.8h.8m9.8-2.6h.8m-3.3-2.8h.8m.6 .8h.8m-2.1 2.4h.8m-9.9 .7h.8m5.8-.2h.8m5.7-7.1h.8m-2.2 6.8h.8m-6.3-5.7h.8m2.1-7.1h.8m-2.9 10.1h.8m-.8-7.6h.8m-.6 13.1h.8m5.4-6.9h.8m-8.5 .5h.8m2.1-2.8h.8m-2 5.4h.8m3.7-12.8h.8m-.6 10.8h.8m-.2-.7h.8m-3.3 7h.8m-13.1-.2h.8m10.6-14.3h.8m-11.1 8.9h.8m5.1 2.9h.8m3.6-4.8h.8m2 1.4h.8m-1.7 2.7h.8m-2.3-.2h.8m.9-9h.8m-4.6 5.2h.8m-1.2-6.2h.8m-1.5 8.1h.8m2 5h.8m-3.7-8.2h.8m-.7 .5h.8m-.9-6.6h.8m2.6 12.1h.8m2-8.8h.8m-5.5 12.4h.8m-.5-6.3h.8m-1 2.7h.8m1.6-2.3h.8m-7-3.6h.8m1 .3h.8m-3 6.5h.8m.2-4h.8m-1.6 .4h.8m9.7-4.9h.8m-5.4 3.1h.8m-1.1 2.1h.8m-4.1-2.6h.8m-.7-2.7h.8m-3.1 7.6h.8m1-1.3h.8m3.9-7h.8m.9 .6h.8m-2.3 9.7h.8m-5.6-10h.8m.4-1.4h.8m3.5 4.5h.8m-3.9-3.4h.8m-8.7 1.1h.8m3.5-3.7h.8m-1 2.8h.8m6 6.9h.8m-1.8-5.2h.8m-7.2 3.5h.8m5.4 3h.8m-2.6-4.8h.8m.4-3.3h.8m-4.8 6.6h.8m-2.4-3.1h.8m6.5 1.4h.8m-2-5.7h.8m-2.8 3.5h.8m1.8 3h.8m-2.8 6.2h.8m1-9.2h.8m-4.9 1.1h.8m-.7 7h.8m3.4-8.1h.8m-5.2-3.2h.8m.5 10h.8m3.3-5.7h.8m-3.3-7.6h.8m1.4 6.9h.8m1.4 .2h.8m-7.5 1.6h.8m-1.3 4.8h.8m2.5-4.1h.8m-.6-3h.8m-.3 2.2h.8m3.8-.4h.8m-5.7-2.2h.8m-3.5 .7h.8m5.2 1.6h.8m-1.9-1.4h.8m-5.6-6.9h.8m3.6 16.7h.8m-4.6-2.6h.8m3.1-8.9h.8m-1.1-.9h.8m-4.7 8.9h.8m.9-10h.8m3.7 .3h.8m-6.5 3.2h.8m-.8-2.2h.8m-6.1 11.4h.8m1.7-11.5h.8m-6.2 4.1h.8m12.6 5.5h.8m4.6 .4h.8m-9.3-6.2h.8m2.9-.2h.8m-5.3-3.9h.8m-1.1 12.3h.8m-1.4-6.6h.8m-9.2 4h.8m9.2 .2h.8m-1.3-9.5h.8m-6.6 5.7h.8m4-6.3h.8m-1 1.4h.8m1.9 .9h.8m-7.8 1.3h.8m1.5 6.5h.8m-.5-11.8h.8m.7 4.4h.8m.3 1.9h.8m-5.5-1.1h.8m2.5-4.9h.8m-2.5 5.9h.8m-4.5-5.5h.8m3.2 4.2h.8m2.7-5.4h.8m-1.6 8.3h.8m3.6-4.4h.8m-9.6-4.7h.8m4.4 11.9h.8m-5.2-3.6h.8m4.8 2.2h.8m-5.3-1.2h.8m.5-6.6h.8m.4 5.6h.8m-5.1 .4h.8m9.9-8.1h.8m-5.5 10.1h.8m-3.1-2.5h.8m-1.9 4.4h.8m-3.3-6.3h.8m-4.4 1.8h.8m7.5-8.4h.8m-5.3 9h.8m.5-7.1h.8m-8.1 6.5h.8m15.2-3.4h.8m-6.3 3.6h.8m-2.6-1.3h.8m-.1-4.1h.8m-.1 11.2h.8m-4.9-8.5h.8m6.2-3.9h.8m-9.5 6.3h.8m-3.2 5.8h.8m9-6.1h.8m-1-4.8h.8m-6.6 7.3h.8m6-2.9h.8m-4.4-2.8h.8m4.4-4h.8m-8.9 4h.8m-3.2-3.3h.8m1 9.8h.8m9.4-2.7h.8m-13.1-4h.8m4.6 1.4h.8m-1.7 3.3h.8m-6.4-4.6h.8m6.9 5.4h.8m-.5-2.9h.8m-2.3-2.8h.8m0 1.9h.8m-3.6 6h.8m6-6.6h.8m-2.8 6.6h.8m-2.1-4.5h.8m.1-7.5h.8m-7.7 9.2h.8m5.3 3.5h.8m-3.6-1.1h.8m4.8 3.7h.8m-7.5-9.8h.8m3.1 2.6h.8m-5.4-3.5h.8m2.6 2.4h.8m-2.8 .1h.8m4.3-1.5h.8m-.3 2.4h.8m-5.7-1.1h.8m-1.9 1.2h.8m-.6-4.2h.8m.1-1.4h.8m-1.6-2.6h.8m4.9 6.5h.8m2.8 2h.8m-4.6-4.9h.8m-9.9 2.5h.8m7.3-2.9h.8m-9 1.1h.8m3.3 1.1h.8m.9-.8h.8m-4.8 5.4h.8m-2.6 2.7h.8m4.8-12.4h.8m-.1 5.8h.8m2.9-5.8h.8m-4.5 6.2h.8m1.8-4.7h.8m-6.9 13h.8m4-14.4h.8m-1.6 2.9h.8m-4.5-1.8h.8m5.2 2.8h.8m-3.6 2.6h.8m-7-3.4h.8m7.4-3.5h.8m-2.6 6.1h.8m.6 3.4h.8m-.2-2.7h.8m-2.8-3.2h.8m-3.6 6.8h.8m-1 .5h.8m4.9-7.6h.8m-2.4-.1h.8m-1.6 .2h.8m-.8 3.9h.8m-5.7 7.9h.8m6.4-15.2h.8m-3 4.9h.8m5.3 1.5h.8m-6.7-.5h.8m.1-1.4h.8m-6.3 .1h.8m.9 4.7h.8m1-4.4h.8m-2.6-2h.8m1.2-4.7h.8m-2.1 13.5h.8m-1.3-7.7h.8m.7-1.2h.8m-3.7 6.8h.8m-.4 5.4h.8m3.5-8.7h.8m-5-.6h.8m-6.7 2.1h.8m10.5 1.4h.8m-5.5 .1h.8m3-3.1h.8m-1.8 4.9h.8m-.4-5.9h.8m-2.4 2.2h.8m-6.6-.1h.8m4.5-9.6h.8m-6.5 16.6h.8m5.7-1.9h.8m-2.5 .8h.8m2.6-9.3h.8m-1.8 9.5h.8m6.8-4.4h.8m-11-5.8h.8m3.3 8.2h.8m-2.8-5h.8m1.7 2.5h.8m-2.3-8.4h.8m-3.4 14.3h.8m1.7-9.1h.8m-1.1 3.7h.8m-4.4-1.5h.8m.3 5.1h.8m-1-5.6h.8m-4.5-6.2h.8m4.2 1.9h.8m-1.5 4.8h.8m2.3-6.9h.8m-3.5 8.7h.8m-2.6-8.3h.8m-.8 12.3h.8m1.7-.3h.8m-1.9-1.5h.8m-4.9-6.1h.8m4.7 8.5h.8m.6-2.7h.8m-4-6.4h.8m5.2 7.7h.8m-.9-.9h.8m-7.1 4h.8m1.7-3.7h.8m1.3-12.7h.8m-10.5 .6h.8m6 11.4h.8m-1.5-1.1h.8m-4.4-6.2h.8m.4 2.8h.8m-1.7-.6h.8m5.5-1.5h.8m-6.1 0h.8m-2-2.4h.8m6.5 5.7h.8m-8.9-2.6h.8m6 4.6h.8m-.1 .7h.8m-3.3-4.1h.8m-1.5 4.6h.8m3.2 2.9h.8m.1-10.9h.8m-10.1-2.4h.8m1.3 8.4h.8m-2.7-11.1h.8m3.6 11.9h.8m2.7 3.6h.8m-3.8-9.4h.8m-1.8-3.3h.8m-2.1 11h.8m9.2 0h.8m-7.3-6.4h.8m-1-6.9h.8m.3 11.2h.8m-3.3-3.2h.8m-6.5 3.2h.8m8.2-15h.8m-5.8 13.1h.8m7.4-5.1h.8m-7 9.9h.8m1.1-7.1h.8m-4.1 1h.8m-2.1 4.2h.8m-1.1-1.9h.8m5.8 2.8h.8m-3.7-4.9h.8m.1 .4h.8m2-.8h.8m-7 2.2h.8m-2.7 1.5h.8m4.9-4.1h.8m-6.1 1h.8m10.3 6.6h.8m-6.7-9.3h.8m-2.3-.8h.8m-5.6-.7h.8m6.2 5.3h.8m-2.3-6h.8m-6.6 8.9h.8m3 .8h.8m-2.2-.9h.8m2.8-6h.8m-3.3 9.9h.8m4.1-9.2h.8m-3.5-5.4h.8m4.8 12.4h.8m-8.5-3.9h.8m-9.3 2.2h.8m10.9-3.1h.8m.5 .2h.8m-7.4-4.3h.8m2.1 6.8h.8m-.1-6.7h.8m.4-2.4h.8m5.4 6.5h.8m-11.9-.6h.8m6.6 1.6h.8m2.7-8.3h.8m-2.4 5.9h.8m-3.4 7.3h.8m-8.3-13.2h.8m2.1-1h.8m-6.6 7.3h.8m10.7-2.3h.8m-3.8 .7h.8m-2.6 3.1h.8m-1.3 1.2h.8m1.1 .9h.8m-1.1-4.2h.8m-4.7-5.5h.8m1.6 4.2h.8m1.2 1.3h.8m-.6 5.5h.8m-5.7-.9h.8m7.1-2.3h.8m-8.2 3.4h.8m-.2-11.9h.8m-4.1 6.8h.8m3.3 3.1h.8m3.4 2.4h.8m-2-5.3h.8m-2-3.8h.8m-3.8 .3h.8m3-.6h.8m-1.9 8.2h.8m-9.2-8.3h.8m4.3 3.6h.8m-2.7-2.8h.8m12.9-2.9h.8m-9.4 6.6h.8m-1.6-6h.8m3.9-3h.8m-8 7.1h.8m.4 5.9h.8m.3 3h.8m.3-1.6h.8m.7-7.6h.8m-3.4 5.4h.8m-1.7-4.5h.8m-1.8-8.5h.8m4.1 11.3h.8m-7.2-.7h.8m2.7-10h.8m-3.3 10.8h.8m6.4-1.1h.8m5.5-.2h.8m-13.6-7.7h.8m7.4 4.3h.8m-7.6-1.5h.8m-2.3 2h.8m3.8 3.9h.8m-1.2 1.7h.8m-3.8-8.3h.8m.8-4.3h.8m2.6 10.9h.8m-2-6.8h.8m-6.6-10.5h.8m4.5 6.6h.8m2.1-11.6h.8m-7.3-2.1h.8m4 3.7h.8m-3.5 6.7h.8m4.5-3.7h.8" stroke="#000" stroke-width="0.8" fill="none" filter="url(#bl)"/>
<polygon points="241,387.2 263.2,385.3 257.2,412.6 241,412.6" fill="none" stroke="#cc3d68" stroke-width="0.6" stroke-dasharray="1.5 1.1"/>
<text x="240.8" y="379.6" font-size="4.5" fill="#cc3d68">P1</text>
<text x="240.8" y="384.9" font-size="4.5" fill="#cc3d68">17.0%</text>
<rect x="288.6" y="370.2" width="58.2" height="58.4" fill="none" stroke="#555" stroke-width="0.8"/>
<line x1="285.3" y1="428.6" x2="288.6" y2="428.6" stroke="#000" stroke-width="0.7"/>
<line x1="285.3" y1="425.8" x2="288.6" y2="425.8" stroke="#333" stroke-width="0.45"/>
<line x1="285.3" y1="424.16" x2="288.6" y2="424.16" stroke="#333" stroke-width="0.45"/>
<line x1="285.3" y1="423" x2="288.6" y2="423" stroke="#333" stroke-width="0.45"/>
<line x1="285.3" y1="422.1" x2="288.6" y2="422.1" stroke="#333" stroke-width="0.45"/>
<line x1="285.3" y1="421.36" x2="288.6" y2="421.36" stroke="#333" stroke-width="0.45"/>
<line x1="285.3" y1="420.74" x2="288.6" y2="420.74" stroke="#333" stroke-width="0.45"/>
<line x1="285.3" y1="420.2" x2="288.6" y2="420.2" stroke="#333" stroke-width="0.45"/>
<line x1="285.3" y1="419.73" x2="288.6" y2="419.73" stroke="#333" stroke-width="0.45"/>
<line x1="285.3" y1="419.3" x2="288.6" y2="419.3" stroke="#000" stroke-width="0.7"/>
<line x1="285.3" y1="416.5" x2="288.6" y2="416.5" stroke="#333" stroke-width="0.45"/>
<line x1="285.3" y1="414.86" x2="288.6" y2="414.86" stroke="#333" stroke-width="0.45"/>
<line x1="285.3" y1="413.7" x2="288.6" y2="413.7" stroke="#333" stroke-width="0.45"/>
<line x1="285.3" y1="412.8" x2="288.6" y2="412.8" stroke="#333" stroke-width="0.45"/>
<line x1="285.3" y1="412.06" x2="288.6" y2="412.06" stroke="#333" stroke-width="0.45"/>
<line x1="285.3" y1="411.44" x2="288.6" y2="411.44" stroke="#333" stroke-width="0.45"/>
<line x1="285.3" y1="410.9" x2="288.6" y2="410.9" stroke="#333" stroke-width="0.45"/>
<line x1="285.3" y1="410.43" x2="288.6" y2="410.43" stroke="#333" stroke-width="0.45"/>
<line x1="285.3" y1="410" x2="288.6" y2="410" stroke="#000" stroke-width="0.7"/>
<line x1="285.3" y1="407.2" x2="288.6" y2="407.2" stroke="#333" stroke-width="0.45"/>
<line x1="285.3" y1="405.56" x2="288.6" y2="405.56" stroke="#333" stroke-width="0.45"/>
<line x1="285.3" y1="404.4" x2="288.6" y2="404.4" stroke="#333" stroke-width="0.45"/>
<line x1="285.3" y1="403.5" x2="288.6" y2="403.5" stroke="#333" stroke-width="0.45"/>
<line x1="285.3" y1="402.76" x2="288.6" y2="402.76" stroke="#333" stroke-width="0.45"/>
<line x1="285.3" y1="402.14" x2="288.6" y2="402.14" stroke="#333" stroke-width="0.45"/>
<line x1="285.3" y1="401.6" x2="288.6" y2="401.6" stroke="#333" stroke-width="0.45"/>
<line x1="285.3" y1="401.13" x2="288.6" y2="401.13" stroke="#333" stroke-width="0.45"/>
<line x1="285.3" y1="400.7" x2="288.6" y2="400.7" stroke="#000" stroke-width="0.7"/>
<line x1="285.3" y1="397.9" x2="288.6" y2="397.9" stroke="#333" stroke-width="0.45"/>
<line x1="285.3" y1="396.26" x2="288.6" y2="396.26" stroke="#333" stroke-width="0.45"/>
<line x1="285.3" y1="395.1" x2="288.6" y2="395.1" stroke="#333" stroke-width="0.45"/>
<line x1="285.3" y1="394.2" x2="288.6" y2="394.2" stroke="#333" stroke-width="0.45"/>
<line x1="285.3" y1="393.46" x2="288.6" y2="393.46" stroke="#333" stroke-width="0.45"/>
<line x1="285.3" y1="392.84" x2="288.6" y2="392.84" stroke="#333" stroke-width="0.45"/>
<line x1="285.3" y1="392.3" x2="288.6" y2="392.3" stroke="#333" stroke-width="0.45"/>
<line x1="285.3" y1="391.83" x2="288.6" y2="391.83" stroke="#333" stroke-width="0.45"/>
<line x1="285.3" y1="391.4" x2="288.6" y2="391.4" stroke="#000" stroke-width="0.7"/>
<line x1="285.3" y1="388.6" x2="288.6" y2="388.6" stroke="#333" stroke-width="0.45"/>
<line x1="285.3" y1="386.96" x2="288.6" y2="386.96" stroke="#333" stroke-width="0.45"/>
<line x1="285.3" y1="385.8" x2="288.6" y2="385.8" stroke="#333" stroke-width="0.45"/>
<line x1="285.3" y1="384.9" x2="288.6" y2="384.9" stroke="#333" stroke-width="0.45"/>
<line x1="285.3" y1="384.16" x2="288.6" y2="384.16" stroke="#333" stroke-width="0.45"/>
<line x1="285.3" y1="383.54" x2="288.6" y2="383.54" stroke="#333" stroke-width="0.45"/>
<line x1="285.3" y1="383" x2="288.6" y2="383" stroke="#333" stroke-width="0.45"/>
<line x1="285.3" y1="382.53" x2="288.6" y2="382.53" stroke="#333" stroke-width="0.45"/>
<line x1="285.3" y1="382.1" x2="288.6" y2="382.1" stroke="#000" stroke-width="0.7"/>
<line x1="285.3" y1="379.3" x2="288.6" y2="379.3" stroke="#333" stroke-width="0.45"/>
<line x1="285.3" y1="377.66" x2="288.6" y2="377.66" stroke="#333" stroke-width="0.45"/>
<line x1="285.3" y1="376.5" x2="288.6" y2="376.5" stroke="#333" stroke-width="0.45"/>
<line x1="285.3" y1="375.6" x2="288.6" y2="375.6" stroke="#333" stroke-width="0.45"/>
<line x1="285.3" y1="374.86" x2="288.6" y2="374.86" stroke="#333" stroke-width="0.45"/>
<line x1="285.3" y1="374.24" x2="288.6" y2="374.24" stroke="#333" stroke-width="0.45"/>
<line x1="285.3" y1="373.7" x2="288.6" y2="373.7" stroke="#333" stroke-width="0.45"/>
<line x1="285.3" y1="373.23" x2="288.6" y2="373.23" stroke="#333" stroke-width="0.45"/>
<line x1="285.3" y1="372.8" x2="288.6" y2="372.8" stroke="#000" stroke-width="0.7"/>
<line x1="288.6" y1="428.6" x2="288.6" y2="431.3" stroke="#000" stroke-width="0.7"/>
<line x1="291.43" y1="428.6" x2="291.43" y2="431.3" stroke="#333" stroke-width="0.45"/>
<line x1="293.08" y1="428.6" x2="293.08" y2="431.3" stroke="#333" stroke-width="0.45"/>
<line x1="294.25" y1="428.6" x2="294.25" y2="431.3" stroke="#333" stroke-width="0.45"/>
<line x1="295.16" y1="428.6" x2="295.16" y2="431.3" stroke="#333" stroke-width="0.45"/>
<line x1="295.9" y1="428.6" x2="295.9" y2="431.3" stroke="#333" stroke-width="0.45"/>
<line x1="296.53" y1="428.6" x2="296.53" y2="431.3" stroke="#333" stroke-width="0.45"/>
<line x1="297.08" y1="428.6" x2="297.08" y2="431.3" stroke="#333" stroke-width="0.45"/>
<line x1="297.56" y1="428.6" x2="297.56" y2="431.3" stroke="#333" stroke-width="0.45"/>
<line x1="297.99" y1="428.6" x2="297.99" y2="431.3" stroke="#000" stroke-width="0.7"/>
<line x1="300.81" y1="428.6" x2="300.81" y2="431.3" stroke="#333" stroke-width="0.45"/>
<line x1="302.47" y1="428.6" x2="302.47" y2="431.3" stroke="#333" stroke-width="0.45"/>
<line x1="303.64" y1="428.6" x2="303.64" y2="431.3" stroke="#333" stroke-width="0.45"/>
<line x1="304.55" y1="428.6" x2="304.55" y2="431.3" stroke="#333" stroke-width="0.45"/>
<line x1="305.29" y1="428.6" x2="305.29" y2="431.3" stroke="#333" stroke-width="0.45"/>
<line x1="305.92" y1="428.6" x2="305.92" y2="431.3" stroke="#333" stroke-width="0.45"/>
<line x1="306.46" y1="428.6" x2="306.46" y2="431.3" stroke="#333" stroke-width="0.45"/>
<line x1="306.94" y1="428.6" x2="306.94" y2="431.3" stroke="#333" stroke-width="0.45"/>
<line x1="307.37" y1="428.6" x2="307.37" y2="431.3" stroke="#000" stroke-width="0.7"/>
<line x1="310.2" y1="428.6" x2="310.2" y2="431.3" stroke="#333" stroke-width="0.45"/>
<line x1="311.85" y1="428.6" x2="311.85" y2="431.3" stroke="#333" stroke-width="0.45"/>
<line x1="313.03" y1="428.6" x2="313.03" y2="431.3" stroke="#333" stroke-width="0.45"/>
<line x1="313.94" y1="428.6" x2="313.94" y2="431.3" stroke="#333" stroke-width="0.45"/>
<line x1="314.68" y1="428.6" x2="314.68" y2="431.3" stroke="#333" stroke-width="0.45"/>
<line x1="315.31" y1="428.6" x2="315.31" y2="431.3" stroke="#333" stroke-width="0.45"/>
<line x1="315.85" y1="428.6" x2="315.85" y2="431.3" stroke="#333" stroke-width="0.45"/>
<line x1="316.33" y1="428.6" x2="316.33" y2="431.3" stroke="#333" stroke-width="0.45"/>
<line x1="316.76" y1="428.6" x2="316.76" y2="431.3" stroke="#000" stroke-width="0.7"/>
<line x1="319.59" y1="428.6" x2="319.59" y2="431.3" stroke="#333" stroke-width="0.45"/>
<line x1="321.24" y1="428.6" x2="321.24" y2="431.3" stroke="#333" stroke-width="0.45"/>
<line x1="322.41" y1="428.6" x2="322.41" y2="431.3" stroke="#333" stroke-width="0.45"/>
<line x1="323.32" y1="428.6" x2="323.32" y2="431.3" stroke="#333" stroke-width="0.45"/>
<line x1="324.07" y1="428.6" x2="324.07" y2="431.3" stroke="#333" stroke-width="0.45"/>
<line x1="324.69" y1="428.6" x2="324.69" y2="431.3" stroke="#333" stroke-width="0.45"/>
<line x1="325.24" y1="428.6" x2="325.24" y2="431.3" stroke="#333" stroke-width="0.45"/>
<line x1="325.72" y1="428.6" x2="325.72" y2="431.3" stroke="#333" stroke-width="0.45"/>
<line x1="326.15" y1="428.6" x2="326.15" y2="431.3" stroke="#000" stroke-width="0.7"/>
<line x1="328.97" y1="428.6" x2="328.97" y2="431.3" stroke="#333" stroke-width="0.45"/>
<line x1="330.63" y1="428.6" x2="330.63" y2="431.3" stroke="#333" stroke-width="0.45"/>
<line x1="331.8" y1="428.6" x2="331.8" y2="431.3" stroke="#333" stroke-width="0.45"/>
<line x1="332.71" y1="428.6" x2="332.71" y2="431.3" stroke="#333" stroke-width="0.45"/>
<line x1="333.45" y1="428.6" x2="333.45" y2="431.3" stroke="#333" stroke-width="0.45"/>
<line x1="334.08" y1="428.6" x2="334.08" y2="431.3" stroke="#333" stroke-width="0.45"/>
<line x1="334.63" y1="428.6" x2="334.63" y2="431.3" stroke="#333" stroke-width="0.45"/>
<line x1="335.11" y1="428.6" x2="335.11" y2="431.3" stroke="#333" stroke-width="0.45"/>
<line x1="335.54" y1="428.6" x2="335.54" y2="431.3" stroke="#000" stroke-width="0.7"/>
<line x1="338.36" y1="428.6" x2="338.36" y2="431.3" stroke="#333" stroke-width="0.45"/>
<line x1="340.01" y1="428.6" x2="340.01" y2="431.3" stroke="#333" stroke-width="0.45"/>
<line x1="341.19" y1="428.6" x2="341.19" y2="431.3" stroke="#333" stroke-width="0.45"/>
<line x1="342.1" y1="428.6" x2="342.1" y2="431.3" stroke="#333" stroke-width="0.45"/>
<line x1="342.84" y1="428.6" x2="342.84" y2="431.3" stroke="#333" stroke-width="0.45"/>
<line x1="343.47" y1="428.6" x2="343.47" y2="431.3" stroke="#333" stroke-width="0.45"/>
<line x1="344.01" y1="428.6" x2="344.01" y2="431.3" stroke="#333" stroke-width="0.45"/>
<line x1="344.49" y1="428.6" x2="344.49" y2="431.3" stroke="#333" stroke-width="0.45"/>
<line x1="344.92" y1="428.6" x2="344.92" y2="431.3" stroke="#000" stroke-width="0.7"/>
<text x="282.7" y="430.3" font-size="4.6" text-anchor="end" fill="#555">10<tspan font-size="3" dy="-1.7">1</tspan></text>
<text x="289.2" y="438.3" font-size="4.6" text-anchor="middle" fill="#555">10<tspan font-size="3" dy="-1.7">1</tspan></text>
<text x="282.7" y="421" font-size="4.6" text-anchor="end" fill="#555">10<tspan font-size="3" dy="-1.7">2</tspan></text>
<text x="298.59" y="438.3" font-size="4.6" text-anchor="middle" fill="#555">10<tspan font-size="3" dy="-1.7">2</tspan></text>
<text x="282.7" y="411.7" font-size="4.6" text-anchor="end" fill="#555">10<tspan font-size="3" dy="-1.7">3</tspan></text>
<text x="307.97" y="438.3" font-size="4.6" text-anchor="middle" fill="#555">10<tspan font-size="3" dy="-1.7">3</tspan></text>
<text x="282.7" y="402.4" font-size="4.6" text-anchor="end" fill="#555">10<tspan font-size="3" dy="-1.7">4</tspan></text>
<text x="317.36" y="438.3" font-size="4.6" text-anchor="middle" fill="#555">10<tspan font-size="3" dy="-1.7">4</tspan></text>
<text x="282.7" y="393.1" font-size="4.6" text-anchor="end" fill="#555">10<tspan font-size="3" dy="-1.7">5</tspan></text>
<text x="326.75" y="438.3" font-size="4.6" text-anchor="middle" fill="#555">10<tspan font-size="3" dy="-1.7">5</tspan></text>
<text x="282.7" y="383.8" font-size="4.6" text-anchor="end" fill="#555">10<tspan font-size="3" dy="-1.7">6</tspan></text>
<text x="336.14" y="438.3" font-size="4.6" text-anchor="middle" fill="#555">10<tspan font-size="3" dy="-1.7">6</tspan></text>
<text x="282.7" y="373.5" font-size="4.6" text-anchor="end" fill="#555">10<tspan font-size="3" dy="-1.7">7.2</tspan></text>
<text x="347.4" y="438.3" font-size="4.6" text-anchor="middle" fill="#555">10<tspan font-size="3" dy="-1.7">7.2</tspan></text>
<text x="317.7" y="364.9" font-size="8.6" text-anchor="middle" textLength="17.3" lengthAdjust="spacingAndGlyphs">TKO</text>
<polygon points="320.2,410.5 334.9,410.2 334.5,414 332.8,420.5 330.5,424.5 327,425.5 323.5,425 321,421 320.2,415" fill="url(#gD)" filter="url(#bl)"/>
<path d="M332.7 408.3h.8m-3.4 12h.8m.2 1.2h.8m.8-1.4h.8m-7.9 2.1h.8m2.1-3.6h.8m-2.9 4.1h.8m2.1-4.6h.8m-4-5h.8m5.3 6h.8m-1.8 2.5h.8m1 4.2h.8m-5.7-.2h.8m-4.6-.8h.8m-2.4-3.5h.8m6.9-.5h.8m-5.1-3.9h.8m-.8 7.1h.8m3-5h.8m-7.3 3.6h.8m-1.4-4.6h.8m1.4 4.8h.8m2.1-1h.8m-.7-4.4h.8m0 8h.8m-2.5-3h.8m-1.1 1.5h.8m1.6-.6h.8m-1.8 2.9h.8m-2.9-7.5h.8m-1.5 3.6h.8m-.9-4.7h.8m3.3 6.8h.8m-1.3-14.6h.8m-5.4 6.1h.8m-1.5 2.6h.8m8.2 .3h.8m-8.4 3.9h.8m1.6-2.2h.8m-3.1-.5h.8m2.6-7.3h.8m-7 11.4h.8m6.6-6h.8m-6.4 1.2h.8m-1.3-.6h.8m7.7 1.8h.8m-2.2-1.3h.8m-3.2 6.1h.8m-5.9-6.6h.8m2.7 2.4h.8m4.3 1.5h.8m-9.9-3.6h.8m1-2.5h.8m8-.5h.8m-6.2 1.3h.8m1.1 4h.8m-3-1.6h.8m2.2-3.2h.8m-6.4-.7h.8m5.4 3.1h.8m-7.9-.5h.8m9.8 1.2h.8m-5.8 2.2h.8m-3.4-4.4h.8m-1.7 1.3h.8m3 1.7h.8m-4.2-3.4h.8m2.6 2.3h.8m-2.2-4.6h.8m-1.1 12.9h.8m-2.8-4.6h.8m.2 1.2h.8m2.3-4h.8m-5.7 .9h.8m1-3.4h.8m.4 3.9h.8m-4.8-2h.8m10.6 3.5h.8m-10.9-12.5h.8m-5.1 3.6h.8m5.7 9.5h.8m-8.1 .5h.8m2-3.2h.8m4.3 .6h.8m-2.2-1h.8m-4.2 .5h.8m5.5 2.4h.8m4.1 .6h.8m-6.4 2.2h.8m-2.3-11.2h.8m-8.2 9.8h.8m7.6-1.7h.8m-3.5-1.9h.8m5.8 0h.8m-9.8-2.9h.8m6.7-2.5h.8m-12.7-4.6h.8m3 11.7h.8m3.4-5.9h.8m-4.9 2.5h.8m2.6-1.7h.8m-1.1-.8h.8m5.4-6.1h.8m-5.9 5.1h.8m1 3h.8m-1.8 2.9h.8m-1.3 1.8h.8m-5.6-.2h.8m2.7-2.2h.8m4.5 2.9h.8m.5-12.9h.8m-9.6 12.3h.8m-1.3-4.4h.8m7.7 4h.8m-8.8-1.6h.8m4-1.4h.8m-3 .2h.8m-5 0h.8m.8 1h.8m3.4-4.9h.8m-.3 4.8h.8m-2.7 1.4h.8m-1.7-3.9h.8m.4 .9h.8m2.4-8.8h.8m-5.2 1.3h.8m-1.4 8.6h.8m.7 2.7h.8m.1-14.2h.8m-5.1 16.4h.8m7.2-5.6h.8m-10.1 7.9h.8m-2.5-7.1h.8m5.3-.3h.8m-4.1-2.5h.8m5.9-.4h.8m-8.2 1.8h.8m3.6-.4h.8m-3.5 2.5h.8m1.2-6.5h.8m.3 4.4h.8m-1-6.4h.8m-3.6 8.2h.8m4.3-.4h.8m-3.1 1.5h.8m1.7 4h.8m-2.3-8.8h.8m-.7-5.3h.8m-2.1 5.8h.8m-1 3.6h.8m-.5-7.4h.8m-2.1 2.5h.8m.3 4.4h.8m-3.7 1.4h.8m6.1-3.8h.8m-2.6-4.6h.8m-4.6 9.3h.8m-4.4-5.5h.8m1.8 6.2h.8m5.3-6.7h.8m-3.9-7.6h.8m1.4 11.3h.8m.6-10.4h.8m-3.7 7.7h.8m-9.7-1.3h.8m6.8 5.7h.8m0-5h.8m0 1.6h.8m-4.1-3.5h.8m1.6 4.5h.8m4.3-2.3h.8m-1.5 3h.8m-2.1-4.8h.8m-7 2.3h.8m4.6 1.9h.8m-1.3 .5h.8m.1-.5h.8m-5.5 1.3h.8m1 4.6h.8m-1.5-6.2h.8m-1.2 4h.8m2.7-1.9h.8m-7.2-8.3h.8m3.8 8.5h.8m2.8-9.5h.8m-5.7 .4h.8m-3.2 5.6h.8m5-1.2h.8m-5.9 .8h.8m-3.2 .2h.8m2.5 5.4h.8m1.8 1.5h.8m-5.2-5.8h.8m.9-4.3h.8m.1-.3h.8m6.2 6.1h.8m-10.4-3.9h.8m7.5 .5h.8m-3.9 4h.8m.4 .2h.8m-4.8-4.6h.8m-5.4 2h.8m4.9-1.2h.8m-1.7-3.2h.8m6.2 2.7h.8m-10.4-.4h.8m1.8 5.1h.8m-7.6-.8h.8m4.6-2.7h.8m4.1 3.6h.8m-5.9-3.3h.8m6.9 5.6h.8m-3.8-5.2h.8m-.5 1.5h.8m-5.4-5.3h.8m2.5 5.3h.8m1.2-3.3h.8m-.2 .4h.8m-1.2 3.5h.8m-6.3-5.7h.8m.5 2.6h.8m2.4-1.6h.8m-8 2.5h.8m9.4 6.3h.8m-8.5-7.2h.8m2-1.5h.8m-2.4 1.5h.8m-3.3-1.3h.8m.9 3.2h.8m-2.9-.5h.8m-.2-3.5h.8m6 8.2h.8m-2.2-6h.8m-3 2h.8m.3 1.2h.8m2.5-13.5h.8m-7.1 13.8h.8m-.2-3.2h.8m4.8 1.3h.8m0-.9h.8m-5.4-3.8h.8m-7.5 2.4h.8m5.4 .3h.8m-5.1 3.8h.8m3.5-2.5h.8m-3.4 6.3h.8m6-5.1h.8m-5.6-.2h.8m-.4-2.6h.8m-4.1 4.9h.8m4 1.8h.8m-4.9-11.3h.8m2.2 7.8h.8m2.2-8h.8m-5.6 5.4h.8m-3.5 .4h.8m5.7 .5h.8m-7.5 1.4h.8m6.1 .7h.8m-1-8.3h.8m-1.8 8.6h.8m-3.3-2.5h.8m-2 4.9h.8m.6-8.3h.8m.6 4h.8m.7-3.6h.8m-4.8 4.7h.8m7.9 .3h.8m-11.6-1.1h.8m.9-7.7h.8m-.5 4.8h.8m2.5 7.2h.8m1.4-1.9h.8m-5.5-2.5h.8m.4 4.8h.8m-2.7-7.5h.8m5.7 4.3h.8m-6.7-1.6h.8m1 .1h.8m1.2 .7h.8m-3.8-3.3h.8m-5.4 .3h.8m7.8 2.5h.8m-6.2-1.8h.8m-1.4 2h.8m7.8 5.8h.8m-3.2-3.9h.8m-5.1-7.7h.8m-.1 3h.8m1.7 2.3h.8m-5 1.2h.8m9.7-5.2h.8m-6.2 5.7h.8m-4.5-5.1h.8m-.4 3.7h.8m1.4 1.8h.8m-2.1-5.2h.8m-.9 .8h.8m-4.8 5.2h.8m.3-8h.8m1.5-2.8h.8m-1.3 9h.8m-1.9-.8h.8m7 4.6h.8m-4.5-3.2h.8m-5.2-2.8h.8m-.1 .6h.8m.4-3.2h.8m3.7-.8h.8m-4.5 7.8h.8m-2-6.4h.8m-.6 9.9h.8m1-8.5h.8m-1 .4h.8m-8.2 1.6h.8m8 3.5h.8m-4.1-9.8h.8m3 4.8h.8m-2.2 4.9h.8m-2-4.5h.8m-3.7-1.5h.8m1.2-.1h.8m.2-5.7h.8m-5 7.4h.8m.2-2h.8m-2.2 4.6h.8m7.5-6.4h.8m-2.2-1.7h.8m-3.8-2.1h.8m.2 7.7h.8m-1.9 4.6h.8m.6-4.8h.8m-5 .3h.8m-.5-1.8h.8m5.7 4.9h.8m-4.3-.9h.8m-6-2h.8m-1.6-3h.8m5.4 4h.8m.2-.9h.8m-2.8-.6h.8m3.3 5h.8m-9.4-4.5h.8m7.4-1.5h.8m-4-1.3h.8m-5.1 2.8h.8m1.5-1.2h.8m-3.9-3.8h.8m3.1 2.6h.8m1.2-2.3h.8m-.3 6.1h.8m-2.7 .3h.8m-1.4-3.3h.8m-.6-4.1h.8m-.9 7.8h.8m-5.5-.4h.8m2.1-4h.8m1.4 2.3h.8m3-1.5h.8m.2 .7h.8m-4.5 2.5h.8m-4.2-6.8h.8m1.6 6.9h.8m1.4-4h.8m2 1h.8m-8.1 4.9h.8m5-7.9h.8m-2-1.1h.8m.7 7.6h.8m-2.6-5.8h.8m-1.7 4.9h.8m-4.9-.9h.8m4 .1h.8m-1.2-1.7h.8m-5.4 1h.8m-3.2-2.8h.8m8.3 9.5h.8m-2.9-15.9h.8m2 11.2h.8m-5.3 .8h.8m1.4-7.3h.8m-6.4 8.4h.8m-3.7-1.6h.8m7 1.4h.8m3.5 1.4h.8m-1.4-1.9h.8m-3.9 .9h.8m-2.3-7.5h.8m-1-2.6h.8m.9 5.4h.8m-4.1-6.1h.8m-.6 3.8h.8m.8 3.2h.8m-1-7.5h.8m3.7 8.9h.8m-5.1-2.9h.8m.4 5.9h.8m-.3-9.1h.8m-6.4-4.6h.8m3.4 11.6h.8m2.4-2.2h.8m-2-4h.8m-1.7 3h.8m-4.4-6h.8m4.6-2.1h.8m-2.3 5.5h.8m-.9 .9h.8m-.4 1.3h.8m-6.2-1.2h.8m-2.5 3h.8m7.2 .6h.8m-3.6 3.3h.8m-4.6-2.8h.8m2.7-3.9h.8m.8-2.6h.8m-2.8 5.7h.8m-3.9-2.2h.8m4.2 4.5h.8m-5.2-.2h.8m1.2-3.1h.8m-1.6 2.7h.8m-1.2-1.9h.8m2.4 1.8h.8m-5.1 0h.8m2.5 2.6h.8m-2-7.7h.8m.1 1h.8m-1.1-3.6h.8m-6.6-.8h.8m3.7 7.2h.8m0-5.3h.8m-.3 3.9h.8m7.9 4.6h.8m-8.5-10.4h.8m-1.9 4.4h.8m1.4 9.2h.8m-2.6-15.5h.8m-1 1.1h.8m2.1 10.6h.8m-2.3-9.9h.8m-2.4 10.3h.8m-3.2-6.9h.8m.2-12.4h.8m-2 .6h.8m-1.3-4.1h.8m7.8 .7h.8m-.8 4h.8m-10.4-4.7h.8m1.6 8.1h.8" stroke="#000" stroke-width="0.8" fill="none" filter="url(#bl)"/>
<polygon points="320.2,387.2 342.4,385.3 336.4,412.6 320.2,412.6" fill="none" stroke="#cc3d68" stroke-width="0.6" stroke-dasharray="1.5 1.1"/>
<text x="320" y="379.6" font-size="4.5" fill="#cc3d68">P1</text>
<text x="320" y="384.9" font-size="4.5" fill="#cc3d68">13.6%</text>
<line x1="33.4" y1="430.5" x2="33.4" y2="372" stroke="#000" stroke-width="1.1"/>
<polygon points="33.4,368.6 35.9,374.4 33.4,373.2 30.9,374.4" fill="#000"/>
<line x1="47.5" y1="442.6" x2="347" y2="442.6" stroke="#000" stroke-width="1.1"/>
<polygon points="350.6,442.6 345.2,440.3 346.3,442.6 345.2,444.9" fill="#000"/>
<text x="197.2" y="454.2" font-size="10.3" text-anchor="middle" textLength="20.6" lengthAdjust="spacingAndGlyphs">FSC-H</text>
<text x="367.1" y="355.3" font-size="12" font-weight="bold" textLength="7.4" lengthAdjust="spacingAndGlyphs" stroke="#000" stroke-width="0.35">E</text>
<rect x="413.1" y="409" width="17" height="30.6" fill="#512663"/>
<rect x="438.95" y="410" width="17" height="29.6" fill="#2e4c7e"/>
<rect x="464.8" y="386.7" width="17" height="52.9" fill="#6ba642"/>
<rect x="490.65" y="393.9" width="17" height="45.7" fill="#a3002b"/>
<circle cx="415.8" cy="406.2" r="2.45" fill="#fff" stroke="#000" stroke-width="1"/>
<circle cx="421.5" cy="403.3" r="2.45" fill="#fff" stroke="#000" stroke-width="1"/>
<circle cx="418.7" cy="408.1" r="2.45" fill="#fff" stroke="#000" stroke-width="1"/>
<circle cx="421.5" cy="410" r="2.45" fill="#fff" stroke="#000" stroke-width="1"/>
<circle cx="424.4" cy="412.4" r="2.45" fill="#fff" stroke="#000" stroke-width="1"/>
<circle cx="427.3" cy="413.4" r="2.45" fill="#fff" stroke="#000" stroke-width="1"/>
<circle cx="441.7" cy="406.2" r="2.45" fill="#fff" stroke="#000" stroke-width="1"/>
<circle cx="447" cy="404.7" r="2.45" fill="#fff" stroke="#000" stroke-width="1"/>
<circle cx="444.6" cy="409.05" r="2.45" fill="#fff" stroke="#000" stroke-width="1"/>
<circle cx="448.5" cy="408.1" r="2.45" fill="#fff" stroke="#000" stroke-width="1"/>
<circle cx="449.4" cy="412.4" r="2.45" fill="#fff" stroke="#000" stroke-width="1"/>
<circle cx="452.3" cy="413.9" r="2.45" fill="#fff" stroke="#000" stroke-width="1"/>
<circle cx="467.8" cy="381.4" r="2.45" fill="#fff" stroke="#000" stroke-width="1"/>
<circle cx="472.6" cy="383.3" r="2.45" fill="#fff" stroke="#000" stroke-width="1"/>
<circle cx="478.8" cy="380.4" r="2.45" fill="#fff" stroke="#000" stroke-width="1"/>
<circle cx="467.8" cy="388.1" r="2.45" fill="#fff" stroke="#000" stroke-width="1"/>
<circle cx="473.1" cy="392.4" r="2.45" fill="#fff" stroke="#000" stroke-width="1"/>
<circle cx="478.3" cy="393.9" r="2.45" fill="#fff" stroke="#000" stroke-width="1"/>
<circle cx="493.25" cy="392.4" r="2.45" fill="#fff" stroke="#000" stroke-width="1"/>
<circle cx="496.1" cy="392" r="2.45" fill="#fff" stroke="#000" stroke-width="1"/>
<circle cx="500.5" cy="389.6" r="2.45" fill="#fff" stroke="#000" stroke-width="1"/>
<circle cx="497.6" cy="395.3" r="2.45" fill="#fff" stroke="#000" stroke-width="1"/>
<circle cx="501.4" cy="394.8" r="2.45" fill="#fff" stroke="#000" stroke-width="1"/>
<circle cx="504.3" cy="397.7" r="2.45" fill="#fff" stroke="#000" stroke-width="1"/>
<line x1="473.3" y1="386.7" x2="473.3" y2="381.4" stroke="#000" stroke-width="1"/>
<line x1="469.2" y1="381.4" x2="477.4" y2="381.4" stroke="#000" stroke-width="1"/>
<line x1="499.15" y1="393.9" x2="499.15" y2="390.5" stroke="#000" stroke-width="1"/>
<line x1="495.05" y1="390.5" x2="503.25" y2="390.5" stroke="#000" stroke-width="1"/>
<line x1="408.6" y1="367.5" x2="408.6" y2="440.2" stroke="#000" stroke-width="1.2"/>
<line x1="408" y1="439.6" x2="513" y2="439.6" stroke="#000" stroke-width="1.2"/>
<line x1="405.6" y1="439.6" x2="408.6" y2="439.6" stroke="#000" stroke-width="1"/>
<text x="402.4" y="441.87" font-size="8.2" text-anchor="end">0</text>
<line x1="405.6" y1="422.33" x2="408.6" y2="422.33" stroke="#000" stroke-width="1"/>
<text x="402.4" y="424.6" font-size="8.2" text-anchor="end">5</text>
<line x1="405.6" y1="405.05" x2="408.6" y2="405.05" stroke="#000" stroke-width="1"/>
<text x="402.4" y="407.32" font-size="8.2" text-anchor="end">10</text>
<line x1="405.6" y1="387.77" x2="408.6" y2="387.77" stroke="#000" stroke-width="1"/>
<text x="402.4" y="390.04" font-size="8.2" text-anchor="end">15</text>
<line x1="405.6" y1="370.5" x2="408.6" y2="370.5" stroke="#000" stroke-width="1"/>
<text x="402.4" y="372.77" font-size="8.2" text-anchor="end">20</text>
<line x1="421.6" y1="439.6" x2="421.6" y2="442.8" stroke="#000" stroke-width="0.9"/>
<text x="421.6" y="453.25" font-size="8.8" text-anchor="middle" textLength="28.6" lengthAdjust="spacingAndGlyphs">Control</text>
<line x1="447.45" y1="439.6" x2="447.45" y2="442.8" stroke="#000" stroke-width="0.9"/>
<text x="447.45" y="453.25" font-size="8.8" text-anchor="middle" textLength="17.9" lengthAdjust="spacingAndGlyphs">CKO</text>
<line x1="473.3" y1="439.6" x2="473.3" y2="442.8" stroke="#000" stroke-width="0.9"/>
<text x="473.3" y="453.25" font-size="8.8" text-anchor="middle" textLength="18.1" lengthAdjust="spacingAndGlyphs">DKO</text>
<line x1="499.15" y1="439.6" x2="499.15" y2="442.8" stroke="#000" stroke-width="0.9"/>
<text x="499.15" y="453.25" font-size="8.8" text-anchor="middle" textLength="17" lengthAdjust="spacingAndGlyphs">TKO</text>
<line x1="466.2" y1="364.4" x2="509.8" y2="364.4" stroke="#3a3a3a" stroke-width="1.1"/>
<text x="488" y="364.33" font-size="6.4" text-anchor="middle" font-weight="bold">*</text>
<text x="473.3" y="374.53" font-size="6.4" text-anchor="middle" font-weight="bold" textLength="10.05" lengthAdjust="spacingAndGlyphs">***</text>
<text x="499.15" y="389.13" font-size="6.4" text-anchor="middle" font-weight="bold" textLength="10.05" lengthAdjust="spacingAndGlyphs">***</text>
<text x="7.1" y="482.7" font-size="12" font-weight="bold" textLength="7.1" lengthAdjust="spacingAndGlyphs" stroke="#000" stroke-width="0.35">F</text>
<rect x="113.5" y="555.8" width="16.5" height="3.8" fill="#6ba642"/>
<rect x="138.7" y="529" width="16.5" height="30.6" fill="#a3002b"/>
<circle cx="65.3" cy="559.2" r="2.45" fill="#fff" stroke="#000" stroke-width="1"/>
<circle cx="69.3" cy="559" r="2.45" fill="#fff" stroke="#000" stroke-width="1"/>
<circle cx="71.5" cy="558.7" r="2.45" fill="#fff" stroke="#000" stroke-width="1"/>
<circle cx="73.2" cy="559.3" r="2.45" fill="#fff" stroke="#000" stroke-width="1"/>
<circle cx="76.2" cy="559.2" r="2.45" fill="#fff" stroke="#000" stroke-width="1"/>
<circle cx="90.5" cy="559.2" r="2.45" fill="#fff" stroke="#000" stroke-width="1"/>
<circle cx="93.2" cy="559.4" r="2.45" fill="#fff" stroke="#000" stroke-width="1"/>
<circle cx="96" cy="558.9" r="2.45" fill="#fff" stroke="#000" stroke-width="1"/>
<circle cx="97.8" cy="559.3" r="2.45" fill="#fff" stroke="#000" stroke-width="1"/>
<circle cx="101.8" cy="559.5" r="2.45" fill="#fff" stroke="#000" stroke-width="1"/>
<circle cx="116.1" cy="554.2" r="2.45" fill="#fff" stroke="#000" stroke-width="1"/>
<circle cx="123" cy="551.5" r="2.45" fill="#fff" stroke="#000" stroke-width="1"/>
<circle cx="120.9" cy="556.3" r="2.45" fill="#fff" stroke="#000" stroke-width="1"/>
<circle cx="124.4" cy="555.6" r="2.45" fill="#fff" stroke="#000" stroke-width="1"/>
<circle cx="127.2" cy="557.7" r="2.45" fill="#fff" stroke="#000" stroke-width="1"/>
<circle cx="147" cy="495.3" r="2.45" fill="#fff" stroke="#000" stroke-width="1"/>
<circle cx="147" cy="513.4" r="2.45" fill="#fff" stroke="#000" stroke-width="1"/>
<circle cx="142.8" cy="529" r="2.45" fill="#fff" stroke="#000" stroke-width="1"/>
<circle cx="151.3" cy="529.4" r="2.45" fill="#fff" stroke="#000" stroke-width="1"/>
<circle cx="143.1" cy="550.1" r="2.45" fill="#fff" stroke="#000" stroke-width="1"/>
<circle cx="151.3" cy="557.6" r="2.45" fill="#fff" stroke="#000" stroke-width="1"/>
<line x1="146.95" y1="529" x2="146.95" y2="506.2" stroke="#000" stroke-width="1"/>
<line x1="142.85" y1="506.2" x2="151.05" y2="506.2" stroke="#000" stroke-width="1"/>
<line x1="58.4" y1="488.8" x2="58.4" y2="560.2" stroke="#000" stroke-width="1.2"/>
<line x1="57.8" y1="559.6" x2="160.4" y2="559.6" stroke="#000" stroke-width="1.2"/>
<line x1="55.4" y1="559.6" x2="58.4" y2="559.6" stroke="#000" stroke-width="1"/>
<text x="52.2" y="561.87" font-size="8.2" text-anchor="end">0</text>
<line x1="55.4" y1="542.65" x2="58.4" y2="542.65" stroke="#000" stroke-width="1"/>
<text x="52.2" y="544.92" font-size="8.2" text-anchor="end">5</text>
<line x1="55.4" y1="525.7" x2="58.4" y2="525.7" stroke="#000" stroke-width="1"/>
<text x="52.2" y="527.97" font-size="8.2" text-anchor="end">10</text>
<line x1="55.4" y1="508.75" x2="58.4" y2="508.75" stroke="#000" stroke-width="1"/>
<text x="52.2" y="511.02" font-size="8.2" text-anchor="end">15</text>
<line x1="55.4" y1="491.8" x2="58.4" y2="491.8" stroke="#000" stroke-width="1"/>
<text x="52.2" y="494.07" font-size="8.2" text-anchor="end">20</text>
<line x1="71.35" y1="559.6" x2="71.35" y2="562.8" stroke="#000" stroke-width="0.9"/>
<text x="71.35" y="573.25" font-size="8.8" text-anchor="middle" textLength="28.6" lengthAdjust="spacingAndGlyphs">Control</text>
<line x1="96.55" y1="559.6" x2="96.55" y2="562.8" stroke="#000" stroke-width="0.9"/>
<text x="96.55" y="573.25" font-size="8.8" text-anchor="middle" textLength="17.9" lengthAdjust="spacingAndGlyphs">CKO</text>
<line x1="121.75" y1="559.6" x2="121.75" y2="562.8" stroke="#000" stroke-width="0.9"/>
<text x="121.75" y="573.25" font-size="8.8" text-anchor="middle" textLength="18.1" lengthAdjust="spacingAndGlyphs">DKO</text>
<line x1="146.95" y1="559.6" x2="146.95" y2="562.8" stroke="#000" stroke-width="0.9"/>
<text x="146.95" y="573.25" font-size="8.8" text-anchor="middle" textLength="17" lengthAdjust="spacingAndGlyphs">TKO</text>
<line x1="115.5" y1="478.5" x2="154.4" y2="478.5" stroke="#3a3a3a" stroke-width="1.1"/>
<text x="134.95" y="478.43" font-size="6.4" text-anchor="middle" font-weight="bold" textLength="6.7" lengthAdjust="spacingAndGlyphs">**</text>
<text x="146.95" y="489.13" font-size="6.4" text-anchor="middle" font-weight="bold" textLength="6.7" lengthAdjust="spacingAndGlyphs">**</text>
<rect x="204.4" y="555.1" width="16.5" height="5.1" fill="#512663"/>
<rect x="229.55" y="557.5" width="16.5" height="2.7" fill="#2e4c7e"/>
<rect x="254.7" y="516" width="16.5" height="44.2" fill="#6ba642"/>
<rect x="279.85" y="519.1" width="16.5" height="41.1" fill="#a3002b"/>
<circle cx="206.25" cy="553.6" r="2.45" fill="#fff" stroke="#000" stroke-width="1"/>
<circle cx="209.1" cy="555.5" r="2.45" fill="#fff" stroke="#000" stroke-width="1"/>
<circle cx="212.5" cy="553.1" r="2.45" fill="#fff" stroke="#000" stroke-width="1"/>
<circle cx="213.9" cy="552.2" r="2.45" fill="#fff" stroke="#000" stroke-width="1"/>
<circle cx="215.4" cy="555.5" r="2.45" fill="#fff" stroke="#000" stroke-width="1"/>
<circle cx="218.3" cy="556" r="2.45" fill="#fff" stroke="#000" stroke-width="1"/>
<circle cx="231.7" cy="556" r="2.45" fill="#fff" stroke="#000" stroke-width="1"/>
<circle cx="234.1" cy="556.5" r="2.45" fill="#fff" stroke="#000" stroke-width="1"/>
<circle cx="238.5" cy="554.6" r="2.45" fill="#fff" stroke="#000" stroke-width="1"/>
<circle cx="240.4" cy="556.5" r="2.45" fill="#fff" stroke="#000" stroke-width="1"/>
<circle cx="243.3" cy="557.5" r="2.45" fill="#fff" stroke="#000" stroke-width="1"/>
<circle cx="236.5" cy="556" r="2.45" fill="#fff" stroke="#000" stroke-width="1"/>
<circle cx="256.8" cy="514.8" r="2.45" fill="#fff" stroke="#000" stroke-width="1"/>
<circle cx="260.65" cy="515.6" r="2.45" fill="#fff" stroke="#000" stroke-width="1"/>
<circle cx="264.5" cy="510.2" r="2.45" fill="#fff" stroke="#000" stroke-width="1"/>
<circle cx="261.6" cy="512.9" r="2.45" fill="#fff" stroke="#000" stroke-width="1"/>
<circle cx="265" cy="517.7" r="2.45" fill="#fff" stroke="#000" stroke-width="1"/>
<circle cx="267.9" cy="522.5" r="2.45" fill="#fff" stroke="#000" stroke-width="1"/>
<circle cx="288.05" cy="496.1" r="2.45" fill="#fff" stroke="#000" stroke-width="1"/>
<circle cx="283" cy="506.9" r="2.45" fill="#fff" stroke="#000" stroke-width="1"/>
<circle cx="288.05" cy="508.8" r="2.45" fill="#fff" stroke="#000" stroke-width="1"/>
<circle cx="293.3" cy="513.8" r="2.45" fill="#fff" stroke="#000" stroke-width="1"/>
<circle cx="288.3" cy="538.5" r="2.45" fill="#fff" stroke="#000" stroke-width="1"/>
<circle cx="288.3" cy="550.3" r="2.45" fill="#fff" stroke="#000" stroke-width="1"/>
<line x1="288.1" y1="519.1" x2="288.1" y2="498.3" stroke="#000" stroke-width="1"/>
<line x1="284" y1="498.3" x2="292.2" y2="498.3" stroke="#000" stroke-width="1"/>
<line x1="199.5" y1="489.3" x2="199.5" y2="560.8" stroke="#000" stroke-width="1.2"/>
<line x1="198.9" y1="560.2" x2="301.3" y2="560.2" stroke="#000" stroke-width="1.2"/>
<line x1="196.5" y1="560.2" x2="199.5" y2="560.2" stroke="#000" stroke-width="1"/>
<text x="193.3" y="562.47" font-size="8.2" text-anchor="end">0</text>
<line x1="196.5" y1="543.23" x2="199.5" y2="543.23" stroke="#000" stroke-width="1"/>
<text x="193.3" y="545.5" font-size="8.2" text-anchor="end">10</text>
<line x1="196.5" y1="526.25" x2="199.5" y2="526.25" stroke="#000" stroke-width="1"/>
<text x="193.3" y="528.52" font-size="8.2" text-anchor="end">20</text>
<line x1="196.5" y1="509.28" x2="199.5" y2="509.28" stroke="#000" stroke-width="1"/>
<text x="193.3" y="511.54" font-size="8.2" text-anchor="end">30</text>
<line x1="196.5" y1="492.3" x2="199.5" y2="492.3" stroke="#000" stroke-width="1"/>
<text x="193.3" y="494.57" font-size="8.2" text-anchor="end">40</text>
<line x1="212.65" y1="560.2" x2="212.65" y2="563.4" stroke="#000" stroke-width="0.9"/>
<text x="212.65" y="573.85" font-size="8.8" text-anchor="middle" textLength="28.6" lengthAdjust="spacingAndGlyphs">Control</text>
<line x1="237.8" y1="560.2" x2="237.8" y2="563.4" stroke="#000" stroke-width="0.9"/>
<text x="237.8" y="573.85" font-size="8.8" text-anchor="middle" textLength="17.9" lengthAdjust="spacingAndGlyphs">CKO</text>
<line x1="262.95" y1="560.2" x2="262.95" y2="563.4" stroke="#000" stroke-width="0.9"/>
<text x="262.95" y="573.85" font-size="8.8" text-anchor="middle" textLength="18.1" lengthAdjust="spacingAndGlyphs">DKO</text>
<line x1="288.1" y1="560.2" x2="288.1" y2="563.4" stroke="#000" stroke-width="0.9"/>
<text x="288.1" y="573.85" font-size="8.8" text-anchor="middle" textLength="17" lengthAdjust="spacingAndGlyphs">TKO</text>
<text x="262.95" y="505.53" font-size="6.4" text-anchor="middle" font-weight="bold" textLength="10.05" lengthAdjust="spacingAndGlyphs">***</text>
<text x="288.1" y="491.13" font-size="6.4" text-anchor="middle" font-weight="bold" textLength="10.05" lengthAdjust="spacingAndGlyphs">***</text>
<rect x="361.7" y="550.6" width="16.5" height="8.8" fill="#512663"/>
<rect x="386.85" y="551" width="16.5" height="8.4" fill="#2e4c7e"/>
<rect x="412" y="541.8" width="16.5" height="17.6" fill="#6ba642"/>
<rect x="437.15" y="519.7" width="16.5" height="39.7" fill="#a3002b"/>
<circle cx="364.25" cy="549.6" r="2.45" fill="#fff" stroke="#000" stroke-width="1"/>
<circle cx="367.1" cy="550.6" r="2.45" fill="#fff" stroke="#000" stroke-width="1"/>
<circle cx="370.5" cy="547.2" r="2.45" fill="#fff" stroke="#000" stroke-width="1"/>
<circle cx="369.5" cy="553" r="2.45" fill="#fff" stroke="#000" stroke-width="1"/>
<circle cx="372.4" cy="551.5" r="2.45" fill="#fff" stroke="#000" stroke-width="1"/>
<circle cx="374.8" cy="553" r="2.45" fill="#fff" stroke="#000" stroke-width="1"/>
<circle cx="389.7" cy="550.6" r="2.45" fill="#fff" stroke="#000" stroke-width="1"/>
<circle cx="393.1" cy="550.6" r="2.45" fill="#fff" stroke="#000" stroke-width="1"/>
<circle cx="396" cy="548.2" r="2.45" fill="#fff" stroke="#000" stroke-width="1"/>
<circle cx="396.5" cy="551" r="2.45" fill="#fff" stroke="#000" stroke-width="1"/>
<circle cx="398.4" cy="552.5" r="2.45" fill="#fff" stroke="#000" stroke-width="1"/>
<circle cx="400.3" cy="554.4" r="2.45" fill="#fff" stroke="#000" stroke-width="1"/>
<circle cx="414.3" cy="539.4" r="2.45" fill="#fff" stroke="#000" stroke-width="1"/>
<circle cx="420.1" cy="536.5" r="2.45" fill="#fff" stroke="#000" stroke-width="1"/>
<circle cx="419.6" cy="541.3" r="2.45" fill="#fff" stroke="#000" stroke-width="1"/>
<circle cx="422.5" cy="543.75" r="2.45" fill="#fff" stroke="#000" stroke-width="1"/>
<circle cx="425.4" cy="547.1" r="2.45" fill="#fff" stroke="#000" stroke-width="1"/>
<circle cx="417.7" cy="540.4" r="2.45" fill="#fff" stroke="#000" stroke-width="1"/>
<circle cx="439.8" cy="513" r="2.45" fill="#fff" stroke="#000" stroke-width="1"/>
<circle cx="443.2" cy="513" r="2.45" fill="#fff" stroke="#000" stroke-width="1"/>
<circle cx="446.5" cy="512.5" r="2.45" fill="#fff" stroke="#000" stroke-width="1"/>
<circle cx="450.9" cy="512" r="2.45" fill="#fff" stroke="#000" stroke-width="1"/>
<circle cx="447.5" cy="517.3" r="2.45" fill="#fff" stroke="#000" stroke-width="1"/>
<circle cx="444.1" cy="528.4" r="2.45" fill="#fff" stroke="#000" stroke-width="1"/>
<circle cx="447.5" cy="533.2" r="2.45" fill="#fff" stroke="#000" stroke-width="1"/>
<line x1="357.3" y1="489" x2="357.3" y2="560" stroke="#000" stroke-width="1.2"/>
<line x1="356.7" y1="559.4" x2="459.1" y2="559.4" stroke="#000" stroke-width="1.2"/>
<line x1="354.3" y1="559.4" x2="357.3" y2="559.4" stroke="#000" stroke-width="1"/>
<text x="351.1" y="561.67" font-size="8.2" text-anchor="end">0</text>
<line x1="354.3" y1="545.92" x2="357.3" y2="545.92" stroke="#000" stroke-width="1"/>
<text x="351.1" y="548.19" font-size="8.2" text-anchor="end">20</text>
<line x1="354.3" y1="532.44" x2="357.3" y2="532.44" stroke="#000" stroke-width="1"/>
<text x="351.1" y="534.71" font-size="8.2" text-anchor="end">40</text>
<line x1="354.3" y1="518.96" x2="357.3" y2="518.96" stroke="#000" stroke-width="1"/>
<text x="351.1" y="521.23" font-size="8.2" text-anchor="end">60</text>
<line x1="354.3" y1="505.48" x2="357.3" y2="505.48" stroke="#000" stroke-width="1"/>
<text x="351.1" y="507.75" font-size="8.2" text-anchor="end">80</text>
<line x1="354.3" y1="492" x2="357.3" y2="492" stroke="#000" stroke-width="1"/>
<text x="351.1" y="494.27" font-size="8.2" text-anchor="end">100</text>
<line x1="369.95" y1="559.4" x2="369.95" y2="562.6" stroke="#000" stroke-width="0.9"/>
<text x="369.95" y="573.05" font-size="8.8" text-anchor="middle" textLength="28.6" lengthAdjust="spacingAndGlyphs">Control</text>
<line x1="395.1" y1="559.4" x2="395.1" y2="562.6" stroke="#000" stroke-width="0.9"/>
<text x="395.1" y="573.05" font-size="8.8" text-anchor="middle" textLength="17.9" lengthAdjust="spacingAndGlyphs">CKO</text>
<line x1="420.25" y1="559.4" x2="420.25" y2="562.6" stroke="#000" stroke-width="0.9"/>
<text x="420.25" y="573.05" font-size="8.8" text-anchor="middle" textLength="18.1" lengthAdjust="spacingAndGlyphs">DKO</text>
<line x1="445.4" y1="559.4" x2="445.4" y2="562.6" stroke="#000" stroke-width="0.9"/>
<text x="445.4" y="573.05" font-size="8.8" text-anchor="middle" textLength="17" lengthAdjust="spacingAndGlyphs">TKO</text>
<line x1="412.9" y1="496" x2="451.3" y2="496" stroke="#3a3a3a" stroke-width="1.1"/>
<text x="432.1" y="495.93" font-size="6.4" text-anchor="middle" font-weight="bold" textLength="10.05" lengthAdjust="spacingAndGlyphs">***</text>
<text x="420.25" y="532.38" font-size="6.4" text-anchor="middle" font-weight="bold">*</text>
<text x="445.4" y="507.13" font-size="6.4" text-anchor="middle" font-weight="bold" textLength="10.05" lengthAdjust="spacingAndGlyphs">***</text>
<rect x="113.5" y="649.8" width="16.5" height="6.4" fill="#6ba642"/>
<rect x="138.7" y="654.5" width="16.5" height="1.7" fill="#a3002b"/>
<circle cx="66.5" cy="653.5" r="2.45" fill="#fff" stroke="#000" stroke-width="1"/>
<circle cx="70" cy="654.5" r="2.45" fill="#fff" stroke="#000" stroke-width="1"/>
<circle cx="72" cy="652.7" r="2.45" fill="#fff" stroke="#000" stroke-width="1"/>
<circle cx="74.5" cy="654.5" r="2.45" fill="#fff" stroke="#000" stroke-width="1"/>
<circle cx="76.5" cy="654.8" r="2.45" fill="#fff" stroke="#000" stroke-width="1"/>
<circle cx="91.5" cy="654.3" r="2.45" fill="#fff" stroke="#000" stroke-width="1"/>
<circle cx="94.5" cy="654.3" r="2.45" fill="#fff" stroke="#000" stroke-width="1"/>
<circle cx="97" cy="654" r="2.45" fill="#fff" stroke="#000" stroke-width="1"/>
<circle cx="99" cy="654.6" r="2.45" fill="#fff" stroke="#000" stroke-width="1"/>
<circle cx="101" cy="654.7" r="2.45" fill="#fff" stroke="#000" stroke-width="1"/>
<circle cx="120.6" cy="643.7" r="2.45" fill="#fff" stroke="#000" stroke-width="1"/>
<circle cx="116.7" cy="646.6" r="2.45" fill="#fff" stroke="#000" stroke-width="1"/>
<circle cx="121.5" cy="650.4" r="2.45" fill="#fff" stroke="#000" stroke-width="1"/>
<circle cx="126.3" cy="652.3" r="2.45" fill="#fff" stroke="#000" stroke-width="1"/>
<circle cx="118.7" cy="649.5" r="2.45" fill="#fff" stroke="#000" stroke-width="1"/>
<circle cx="141.7" cy="652.3" r="2.45" fill="#fff" stroke="#000" stroke-width="1"/>
<circle cx="144.6" cy="653.3" r="2.45" fill="#fff" stroke="#000" stroke-width="1"/>
<circle cx="147.5" cy="650.4" r="2.45" fill="#fff" stroke="#000" stroke-width="1"/>
<circle cx="149.4" cy="654.3" r="2.45" fill="#fff" stroke="#000" stroke-width="1"/>
<circle cx="152.3" cy="654.7" r="2.45" fill="#fff" stroke="#000" stroke-width="1"/>
<circle cx="147" cy="653.3" r="2.45" fill="#fff" stroke="#000" stroke-width="1"/>
<line x1="58.2" y1="585.3" x2="58.2" y2="656.8" stroke="#000" stroke-width="1.2"/>
<line x1="57.6" y1="656.2" x2="160" y2="656.2" stroke="#000" stroke-width="1.2"/>
<line x1="55.2" y1="656.2" x2="58.2" y2="656.2" stroke="#000" stroke-width="1"/>
<text x="52" y="658.47" font-size="8.2" text-anchor="end">0</text>
<line x1="55.2" y1="642.62" x2="58.2" y2="642.62" stroke="#000" stroke-width="1"/>
<text x="52" y="644.89" font-size="8.2" text-anchor="end">1</text>
<line x1="55.2" y1="629.04" x2="58.2" y2="629.04" stroke="#000" stroke-width="1"/>
<text x="52" y="631.31" font-size="8.2" text-anchor="end">2</text>
<line x1="55.2" y1="615.46" x2="58.2" y2="615.46" stroke="#000" stroke-width="1"/>
<text x="52" y="617.73" font-size="8.2" text-anchor="end">3</text>
<line x1="55.2" y1="601.88" x2="58.2" y2="601.88" stroke="#000" stroke-width="1"/>
<text x="52" y="604.15" font-size="8.2" text-anchor="end">4</text>
<line x1="55.2" y1="588.3" x2="58.2" y2="588.3" stroke="#000" stroke-width="1"/>
<text x="52" y="590.57" font-size="8.2" text-anchor="end">5</text>
<line x1="71.35" y1="656.2" x2="71.35" y2="659.4" stroke="#000" stroke-width="0.9"/>
<text x="71.35" y="669.85" font-size="8.8" text-anchor="middle" textLength="28.6" lengthAdjust="spacingAndGlyphs">Control</text>
<line x1="96.55" y1="656.2" x2="96.55" y2="659.4" stroke="#000" stroke-width="0.9"/>
<text x="96.55" y="669.85" font-size="8.8" text-anchor="middle" textLength="17.9" lengthAdjust="spacingAndGlyphs">CKO</text>
<line x1="121.75" y1="656.2" x2="121.75" y2="659.4" stroke="#000" stroke-width="0.9"/>
<text x="121.75" y="669.85" font-size="8.8" text-anchor="middle" textLength="18.1" lengthAdjust="spacingAndGlyphs">DKO</text>
<line x1="146.95" y1="656.2" x2="146.95" y2="659.4" stroke="#000" stroke-width="0.9"/>
<text x="146.95" y="669.85" font-size="8.8" text-anchor="middle" textLength="17" lengthAdjust="spacingAndGlyphs">TKO</text>
<line x1="113.7" y1="624.7" x2="152.3" y2="624.7" stroke="#3a3a3a" stroke-width="1.1"/>
<text x="133" y="624.63" font-size="6.4" text-anchor="middle" font-weight="bold">*</text>
<text x="121.75" y="638.83" font-size="6.4" text-anchor="middle" font-weight="bold" textLength="6.7" lengthAdjust="spacingAndGlyphs">**</text>
<text transform="translate(28 54.8) rotate(-90)" font-size="10.17" text-anchor="middle" textLength="40.7" lengthAdjust="spacingAndGlyphs">αIIbβ3 MFI</text>
<text transform="translate(188.6 55.05) rotate(-90)" font-size="9.88" text-anchor="middle" textLength="26.2" lengthAdjust="spacingAndGlyphs">α2 MFI</text>
<text transform="translate(340.2 55.25) rotate(-90)" font-size="9.74" text-anchor="middle" textLength="38.4" lengthAdjust="spacingAndGlyphs">GPIbα MFI</text>
<text transform="translate(32.3 151.65) rotate(-90)" font-size="10.03" text-anchor="middle" textLength="31.8" lengthAdjust="spacingAndGlyphs">GPVI MFI</text>
<text transform="translate(184.2 151.4) rotate(-90)" font-size="10.47" text-anchor="middle" textLength="38.9" lengthAdjust="spacingAndGlyphs">CLEC-2 MFI</text>
<text transform="translate(340.4 151.35) rotate(-90)" font-size="10.47" text-anchor="middle" textLength="43.8" lengthAdjust="spacingAndGlyphs">MPIG6B MFI</text>
<text transform="translate(28.2 271.85) rotate(-90)" font-size="10.76" text-anchor="middle" textLength="53.6" lengthAdjust="spacingAndGlyphs">Thiazole orange</text>
<text transform="translate(375.7 273.6) rotate(-90)" font-size="10.03" text-anchor="middle" textLength="63.3" lengthAdjust="spacingAndGlyphs">Immature platelet</text>
<text transform="translate(386.8 274.85) rotate(-90)" font-size="10.03" text-anchor="middle" textLength="39.2" lengthAdjust="spacingAndGlyphs">fraction (%)</text>
<text transform="translate(28.2 400.3) rotate(-90)" font-size="10.61" text-anchor="middle" textLength="61.9" lengthAdjust="spacingAndGlyphs">Peanut agglutinin</text>
<text transform="translate(387.4 402.8) rotate(-90)" font-size="10.32" text-anchor="middle" textLength="74.9" lengthAdjust="spacingAndGlyphs">Peanut agglutinin (%)</text>
<text transform="translate(36.7 524.05) rotate(-90)" font-size="9.59" text-anchor="middle" textLength="70" lengthAdjust="spacingAndGlyphs">P-selectin % positive</text>
<text transform="translate(178.9 525.05) rotate(-90)" font-size="10.47" text-anchor="middle" textLength="54.2" lengthAdjust="spacingAndGlyphs">TLT-1 % positive</text>
<text transform="translate(319.7 524.05) rotate(-90)" font-size="10.03" text-anchor="middle" textLength="38.6" lengthAdjust="spacingAndGlyphs">Fibrinogen</text>
<text transform="translate(331.7 524.05) rotate(-90)" font-size="10.03" text-anchor="middle" textLength="64.2" lengthAdjust="spacingAndGlyphs">binding % positive</text>
<text transform="translate(42.1 621.35) rotate(-90)" font-size="9.74" text-anchor="middle" textLength="72.4" lengthAdjust="spacingAndGlyphs">Annexin V % positive</text>
<path d="M0 0H520V679H0Z M1.1 1.1V677.9H518.9V1.1Z" fill="#000" fill-rule="evenodd"/>
</svg>
</body></html>
